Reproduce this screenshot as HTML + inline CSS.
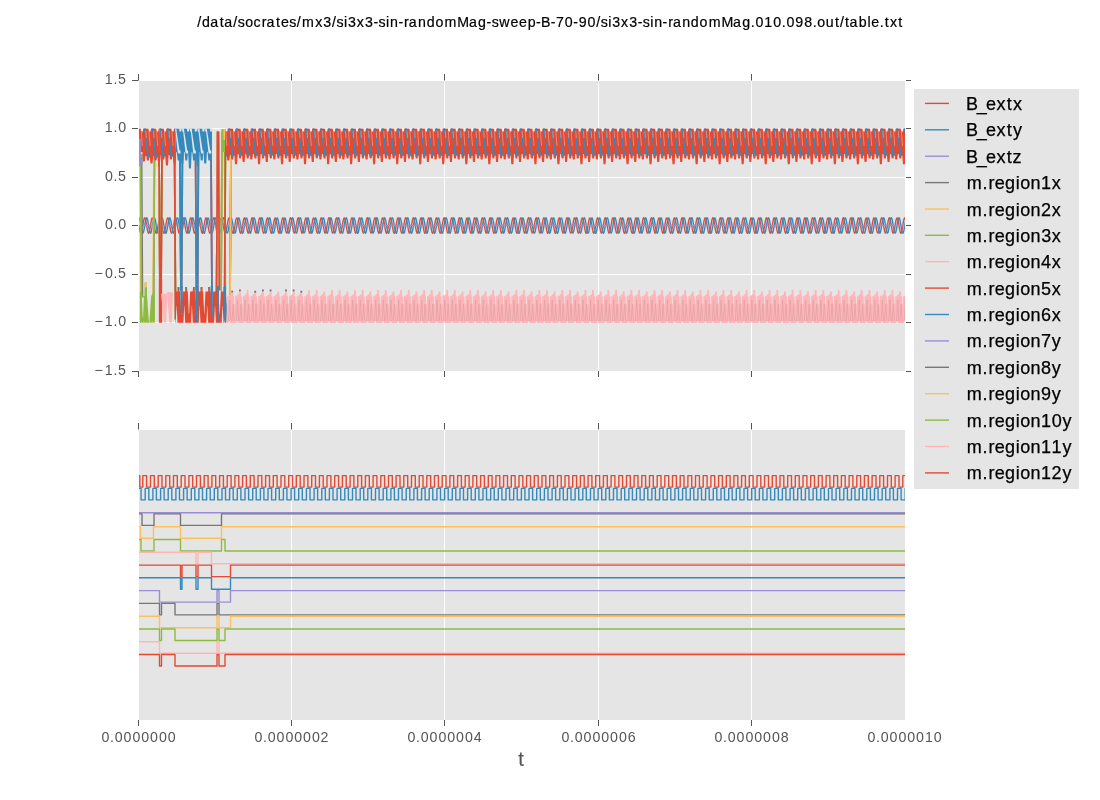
<!DOCTYPE html><html><head><meta charset="utf-8"><style>html,body{margin:0;padding:0;background:#fff;overflow:hidden}svg{will-change:transform}svg text{font-family:"Liberation Sans",sans-serif}</style></head><body><svg width="1100" height="800" viewBox="0 0 1100 800" style="display:block">
<rect width="1100" height="800" fill="#fff"/>
<text x="197.33 202.02 210.25 219.69 224.21 233.30 237.77 245.15 253.45 261.75 266.48 275.91 281.00 289.35 296.79 301.99 315.16 323.34 332.06 336.53 343.97 347.95 356.83 365.01 373.50 378.53 385.96 389.95 398.41 404.05 408.78 417.98 426.67 435.42 444.50 457.23 468.92 478.01 486.60 491.63 499.25 510.42 518.96 527.71 536.11 540.99 550.65 555.96 564.83 573.34 578.63 587.51 596.25 600.72 608.15 612.14 621.02 629.19 637.69 642.72 650.15 654.14 662.60 668.24 672.97 682.17 690.86 699.61 708.69 721.42 733.11 742.20 750.87 755.53 764.30 773.20 781.80 786.45 795.24 804.13 812.72 817.21 825.83 834.93 840.02 845.05 849.57 858.84 867.46 871.32 879.74 884.64 889.90 898.31" y="26.8" font-size="14.2" fill="#000" stroke="#000" stroke-width="0.2">/data/socrates/mx3/si3x3-sin-randomMag-sweep-B-70-90/si3x3-sin-randomMag.010.098.out/table.txt</text>
<rect x="139" y="81" width="766" height="290" fill="#E5E5E5"/>
<line x1="291.5" y1="81" x2="291.5" y2="371" stroke="#fff" stroke-width="1"/>
<line x1="444.5" y1="81" x2="444.5" y2="371" stroke="#fff" stroke-width="1"/>
<line x1="598.5" y1="81" x2="598.5" y2="371" stroke="#fff" stroke-width="1"/>
<line x1="751.5" y1="81" x2="751.5" y2="371" stroke="#fff" stroke-width="1"/>
<line x1="139" y1="128.5" x2="905" y2="128.5" stroke="#fff" stroke-width="1"/>
<line x1="139" y1="177.5" x2="905" y2="177.5" stroke="#fff" stroke-width="1"/>
<line x1="139" y1="225.5" x2="905" y2="225.5" stroke="#fff" stroke-width="1"/>
<line x1="139" y1="274.5" x2="905" y2="274.5" stroke="#fff" stroke-width="1"/>
<line x1="139" y1="322.5" x2="905" y2="322.5" stroke="#fff" stroke-width="1"/>
<defs><clipPath id="ct"><rect x="139" y="81" width="766" height="290"/></clipPath><clipPath id="cb"><rect x="139" y="430" width="766" height="290"/></clipPath></defs>
<g clip-path="url(#ct)" fill="none" stroke-width="1.39" stroke-linejoin="round">
<defs><clipPath id="k0"><rect x="139.00" y="81" width="20.50" height="290"/></clipPath><clipPath id="k1"><rect x="159.50" y="81" width="16.00" height="290"/></clipPath><clipPath id="k2"><rect x="175.50" y="81" width="36.00" height="290"/></clipPath><clipPath id="k3"><rect x="225.00" y="81" width="8.00" height="290"/></clipPath><clipPath id="k4"><rect x="233.00" y="81" width="673.00" height="290"/></clipPath><clipPath id="k5"><rect x="175.30" y="81" width="49.20" height="290"/></clipPath><clipPath id="k6"><rect x="224.50" y="81" width="2.00" height="290"/></clipPath><clipPath id="k7"><rect x="226.50" y="81" width="679.50" height="290"/></clipPath></defs>
<path fill="none" stroke="#E24A33" stroke-width="1.39" d="M138.9,225.1 139.5,228.8 140.1,231.7 140.7,233.2 141.3,232.8 141.9,230.7 142.5,227.4 143.1,223.6 143.7,220.3 144.3,218.2 144.9,217.8 145.5,219.3 146.1,222.2 146.7,225.9 147.3,229.5 147.9,232.1 148.5,233.2 149.1,232.5 149.7,230.2 150.3,226.7 150.9,222.9 151.5,219.8 152.1,218 152.7,218 153.3,219.7 153.9,222.8 154.5,226.6 155.1,230.1 155.7,232.5 156.3,233.3 156.9,232.2 157.5,229.5 158.1,225.9 158.7,222.2 159.3,219.3 159.9,217.8 160.5,218.2 161.1,220.2 161.7,223.6 162.3,227.3 162.9,230.7 163.5,232.8 164.1,233.2 164.7,231.8 165.3,228.9 165.9,225.2 166.5,221.6 167.1,218.9 167.7,217.8 168.3,218.5 168.9,220.8 169.5,224.3 170.1,228 170.7,231.2 171.3,233 171.9,233 172.5,231.3 173.1,228.2 173.7,224.5 174.3,221 174.9,218.5 175.5,217.7 176.1,218.8 176.7,221.4 177.3,225 177.9,228.7 178.5,231.7 179.1,233.2 179.7,232.8 180.3,230.8 180.9,227.5 181.5,223.7 182.1,220.4 182.7,218.2 183.3,217.8 183.9,219.2 184.5,222.1 185.1,225.8 185.7,229.4 186.3,232.1 186.9,233.2 187.5,232.6 188.1,230.2 188.7,226.8 189.3,223 189.9,219.8 190.5,218 191.1,217.9 191.7,219.7 192.3,222.8 192.9,226.5 193.5,230 194.1,232.5 194.7,233.3 195.3,232.2 195.9,229.6 196.5,226 197.1,222.3 197.7,219.4 198.3,217.8 198.9,218.1 199.5,220.2 200.1,223.5 200.7,227.2 201.3,230.6 201.9,232.7 202.5,233.2 203,231.8 203.6,229 204.2,225.3 204.8,221.7 205.4,218.9 206,217.8 206.6,218.4 207.2,220.7 207.8,224.2 208.4,227.9 209,231.1 209.6,233 210.2,233.1 210.8,231.4 211.4,228.3 212,224.6 212.6,221 213.2,218.6 213.8,217.7 214.4,218.7 215,221.3 215.6,224.9 216.2,228.6 216.8,231.6 217.4,233.1 218,232.9 218.6,230.9 219.2,227.6 219.8,223.8 220.4,220.4 221,218.3 221.6,217.8 222.2,219.1 222.8,222 223.4,225.7 224,229.3 224.6,232 225.2,233.2 225.8,232.6 226.4,230.3 227,226.9 227.6,223.1 228.2,219.9 228.8,218 229.4,217.9 230,219.6 230.6,222.7 231.2,226.4 231.8,229.9 232.4,232.4 233,233.3 233.6,232.3 234.2,229.7 234.8,226.1 235.4,222.4 236,219.4 236.6,217.9 237.2,218.1 237.8,220.1 238.4,223.4 239,227.1 239.6,230.5 240.2,232.7 240.8,233.2 241.4,231.9 242,229.1 242.6,225.4 243.2,221.7 243.8,219 244.4,217.8 245,218.4 245.6,220.7 246.2,224.1 246.8,227.9 247.4,231.1 248,233 248.6,233.1 249.2,231.4 249.8,228.4 250.4,224.6 251,221.1 251.6,218.6 252.2,217.7 252.8,218.7 253.4,221.3 254,224.8 254.6,228.5 255.2,231.6 255.8,233.1 256.4,232.9 257,230.9 257.6,227.7 258.2,223.9 258.8,220.5 259.4,218.3 260,217.8 260.6,219.1 261.2,221.9 261.8,225.6 262.4,229.2 263,232 263.6,233.2 264.2,232.6 264.8,230.4 265.4,227 266,223.2 266.6,220 267.2,218.1 267.8,217.9 268.4,219.5 269,222.6 269.6,226.3 270.2,229.8 270.8,232.4 271.4,233.3 272,232.3 272.6,229.8 273.2,226.2 273.8,222.5 274.4,219.5 275,217.9 275.6,218.1 276.2,220 276.8,223.3 277.4,227 278,230.4 278.6,232.7 279.2,233.2 279.8,231.9 280.4,229.1 281,225.5 281.6,221.8 282.2,219 282.8,217.8 283.4,218.3 284,220.6 284.6,224 285.2,227.8 285.8,231 286.4,232.9 287,233.1 287.6,231.5 288.2,228.5 288.8,224.7 289.4,221.2 290,218.7 290.6,217.7 291.2,218.7 291.8,221.2 292.4,224.7 293,228.5 293.6,231.5 294.2,233.1 294.8,232.9 295.4,231 296,227.8 296.6,224 297.2,220.6 297.8,218.3 298.4,217.8 299,219 299.6,221.8 300.2,225.5 300.8,229.1 301.4,231.9 302,233.2 302.6,232.7 303.2,230.5 303.8,227.1 304.4,223.3 305,220 305.6,218.1 306.2,217.9 306.8,219.5 307.4,222.5 308,226.2 308.6,229.8 309.2,232.3 309.8,233.3 310.4,232.4 311,229.9 311.6,226.3 312.2,222.6 312.8,219.5 313.4,217.9 314,218.1 314.6,220 315.2,223.2 315.8,226.9 316.4,230.4 317,232.6 317.6,233.2 318.2,232 318.8,229.2 319.4,225.6 320,221.9 320.6,219.1 321.2,217.8 321.8,218.3 322.4,220.5 323,223.9 323.6,227.7 324.2,230.9 324.8,232.9 325.4,233.1 326,231.6 326.6,228.6 327.2,224.8 327.8,221.3 328.4,218.7 329,217.7 329.6,218.6 330.2,221.1 330.8,224.6 331.3,228.4 331.9,231.4 332.5,233.1 333.1,233 333.7,231.1 334.3,227.9 334.9,224.1 335.5,220.7 336.1,218.4 336.7,217.8 337.3,219 337.9,221.7 338.5,225.4 339.1,229 339.7,231.9 340.3,233.2 340.9,232.7 341.5,230.5 342.1,227.1 342.7,223.4 343.3,220.1 343.9,218.1 344.5,217.9 345.1,219.4 345.7,222.4 346.3,226.1 346.9,229.7 347.5,232.3 348.1,233.3 348.7,232.4 349.3,229.9 349.9,226.4 350.5,222.7 351.1,219.6 351.7,217.9 352.3,218 352.9,219.9 353.5,223.1 354.1,226.9 354.7,230.3 355.3,232.6 355.9,233.2 356.5,232 357.1,229.3 357.7,225.7 358.3,222 358.9,219.1 359.5,217.8 360.1,218.3 360.7,220.4 361.3,223.8 361.9,227.6 362.5,230.9 363.1,232.9 363.7,233.1 364.3,231.6 364.9,228.6 365.5,224.9 366.1,221.3 366.7,218.7 367.3,217.7 367.9,218.6 368.5,221 369.1,224.5 369.7,228.3 370.3,231.4 370.9,233.1 371.5,233 372.1,231.1 372.7,228 373.3,224.2 373.9,220.7 374.5,218.4 375.1,217.8 375.7,218.9 376.3,221.7 376.9,225.3 377.5,229 378.1,231.8 378.7,233.2 379.3,232.8 379.9,230.6 380.5,227.2 381.1,223.5 381.7,220.2 382.3,218.1 382.9,217.8 383.5,219.4 384.1,222.3 384.7,226 385.3,229.6 385.9,232.2 386.5,233.3 387.1,232.5 387.7,230 388.3,226.5 388.9,222.8 389.5,219.7 390.1,217.9 390.7,218 391.3,219.8 391.9,223 392.5,226.8 393.1,230.2 393.7,232.6 394.3,233.2 394.9,232.1 395.5,229.4 396.1,225.8 396.7,222.1 397.3,219.2 397.9,217.8 398.5,218.2 399.1,220.4 399.7,223.7 400.3,227.5 400.9,230.8 401.5,232.8 402.1,233.2 402.7,231.7 403.3,228.7 403.9,225 404.5,221.4 405.1,218.8 405.7,217.7 406.3,218.5 406.9,220.9 407.5,224.4 408.1,228.2 408.7,231.3 409.3,233 409.9,233 410.5,231.2 411.1,228 411.7,224.3 412.3,220.8 412.9,218.5 413.5,217.8 414.1,218.9 414.7,221.6 415.3,225.2 415.9,228.9 416.5,231.8 417.1,233.2 417.7,232.8 418.3,230.7 418.9,227.3 419.5,223.6 420.1,220.2 420.7,218.2 421.3,217.8 421.9,219.3 422.5,222.2 423.1,225.9 423.7,229.5 424.3,232.2 424.9,233.3 425.5,232.5 426.1,230.1 426.7,226.6 427.3,222.9 427.9,219.7 428.5,218 429.1,218 429.7,219.8 430.3,222.9 430.9,226.7 431.5,230.1 432.1,232.5 432.7,233.2 433.3,232.1 433.9,229.5 434.5,225.9 435.1,222.2 435.7,219.3 436.3,217.8 436.9,218.2 437.5,220.3 438.1,223.6 438.7,227.4 439.3,230.7 439.9,232.8 440.5,233.2 441.1,231.7 441.7,228.8 442.3,225.1 442.9,221.5 443.5,218.8 444.1,217.7 444.7,218.5 445.3,220.9 445.9,224.4 446.5,228.1 447.1,231.2 447.7,233 448.3,233 448.9,231.3 449.5,228.1 450.1,224.4 450.7,220.9 451.3,218.5 451.9,217.7 452.5,218.8 453.1,221.5 453.7,225.1 454.3,228.8 454.9,231.7 455.5,233.2 456.1,232.8 456.7,230.7 457.3,227.4 457.9,223.7 458.5,220.3 459,218.2 459.6,217.8 460.2,219.2 460.8,222.1 461.4,225.8 462,229.4 462.6,232.1 463.2,233.2 463.8,232.5 464.4,230.2 465,226.7 465.6,222.9 466.2,219.8 466.8,218 467.4,218 468,219.7 468.6,222.8 469.2,226.6 469.8,230.1 470.4,232.5 471,233.3 471.6,232.2 472.2,229.6 472.8,226 473.4,222.3 474,219.3 474.6,217.8 475.2,218.2 475.8,220.2 476.4,223.5 477,227.3 477.6,230.6 478.2,232.8 478.8,233.2 479.4,231.8 480,228.9 480.6,225.2 481.2,221.6 481.8,218.9 482.4,217.8 483,218.4 483.6,220.8 484.2,224.3 484.8,228 485.4,231.2 486,233 486.6,233.1 487.2,231.3 487.8,228.2 488.4,224.5 489,221 489.6,218.5 490.2,217.7 490.8,218.8 491.4,221.4 492,225 492.6,228.7 493.2,231.7 493.8,233.2 494.4,232.8 495,230.8 495.6,227.5 496.2,223.7 496.8,220.4 497.4,218.2 498,217.8 498.6,219.2 499.2,222.1 499.8,225.7 500.4,229.4 501,232.1 501.6,233.2 502.2,232.6 502.8,230.2 503.4,226.8 504,223 504.6,219.9 505.2,218 505.8,217.9 506.4,219.6 507,222.7 507.6,226.5 508.2,230 508.8,232.4 509.4,233.3 510,232.2 510.6,229.6 511.2,226.1 511.8,222.3 512.4,219.4 513,217.9 513.6,218.1 514.2,220.2 514.8,223.4 515.4,227.2 516,230.6 516.6,232.7 517.2,233.2 517.8,231.8 518.4,229 519,225.3 519.6,221.7 520.2,218.9 520.8,217.8 521.4,218.4 522,220.7 522.6,224.2 523.2,227.9 523.8,231.1 524.4,233 525,233.1 525.6,231.4 526.2,228.3 526.8,224.6 527.4,221 528,218.6 528.6,217.7 529.2,218.7 529.8,221.3 530.4,224.9 531,228.6 531.6,231.6 532.2,233.1 532.8,232.9 533.4,230.9 534,227.6 534.6,223.8 535.2,220.5 535.8,218.3 536.4,217.8 537,219.1 537.6,222 538.2,225.6 538.8,229.3 539.4,232 540,233.2 540.6,232.6 541.2,230.3 541.8,226.9 542.4,223.1 543,219.9 543.6,218 544.2,217.9 544.8,219.6 545.4,222.6 546,226.4 546.6,229.9 547.2,232.4 547.8,233.3 548.4,232.3 549,229.7 549.6,226.1 550.2,222.4 550.8,219.4 551.4,217.9 552,218.1 552.6,220.1 553.2,223.3 553.8,227.1 554.4,230.5 555,232.7 555.6,233.2 556.2,231.9 556.8,229.1 557.4,225.4 558,221.8 558.6,219 559.2,217.8 559.8,218.4 560.4,220.6 561,224.1 561.6,227.8 562.2,231 562.8,232.9 563.4,233.1 564,231.4 564.6,228.4 565.2,224.7 565.8,221.1 566.4,218.6 567,217.7 567.6,218.7 568.2,221.2 568.8,224.8 569.4,228.5 570,231.5 570.6,233.1 571.2,232.9 571.8,230.9 572.4,227.7 573,223.9 573.6,220.5 574.2,218.3 574.8,217.8 575.4,219.1 576,221.9 576.6,225.5 577.2,229.2 577.8,232 578.4,233.2 579,232.7 579.6,230.4 580.2,227 580.8,223.2 581.4,220 582,218.1 582.6,217.9 583.2,219.5 583.8,222.6 584.4,226.3 585,229.8 585.6,232.4 586.2,233.3 586.8,232.3 587.3,229.8 587.9,226.2 588.5,222.5 589.1,219.5 589.7,217.9 590.3,218.1 590.9,220 591.5,223.3 592.1,227 592.7,230.4 593.3,232.7 593.9,233.2 594.5,232 595.1,229.2 595.7,225.5 596.3,221.8 596.9,219 597.5,217.8 598.1,218.3 598.7,220.6 599.3,224 599.9,227.7 600.5,231 601.1,232.9 601.7,233.1 602.3,231.5 602.9,228.5 603.5,224.8 604.1,221.2 604.7,218.7 605.3,217.7 605.9,218.6 606.5,221.2 607.1,224.7 607.7,228.4 608.3,231.5 608.9,233.1 609.5,232.9 610.1,231 610.7,227.8 611.3,224 611.9,220.6 612.5,218.3 613.1,217.8 613.7,219 614.3,221.8 614.9,225.5 615.5,229.1 616.1,231.9 616.7,233.2 617.3,232.7 617.9,230.5 618.5,227.1 619.1,223.3 619.7,220.1 620.3,218.1 620.9,217.9 621.5,219.5 622.1,222.5 622.7,226.2 623.3,229.8 623.9,232.3 624.5,233.3 625.1,232.4 625.7,229.9 626.3,226.3 626.9,222.6 627.5,219.6 628.1,217.9 628.7,218.1 629.3,220 629.9,223.2 630.5,226.9 631.1,230.4 631.7,232.6 632.3,233.2 632.9,232 633.5,229.2 634.1,225.6 634.7,221.9 635.3,219.1 635.9,217.8 636.5,218.3 637.1,220.5 637.7,223.9 638.3,227.7 638.9,230.9 639.5,232.9 640.1,233.1 640.7,231.6 641.3,228.6 641.9,224.9 642.5,221.3 643.1,218.7 643.7,217.7 644.3,218.6 644.9,221.1 645.5,224.6 646.1,228.4 646.7,231.4 647.3,233.1 647.9,233 648.5,231.1 649.1,227.9 649.7,224.1 650.3,220.7 650.9,218.4 651.5,217.8 652.1,219 652.7,221.7 653.3,225.4 653.9,229 654.5,231.9 655.1,233.2 655.7,232.7 656.3,230.5 656.9,227.2 657.5,223.4 658.1,220.1 658.7,218.1 659.3,217.9 659.9,219.4 660.5,222.4 661.1,226.1 661.7,229.7 662.3,232.3 662.9,233.3 663.5,232.4 664.1,230 664.7,226.4 665.3,222.7 665.9,219.6 666.5,217.9 667.1,218 667.7,219.9 668.3,223.1 668.9,226.8 669.5,230.3 670.1,232.6 670.7,233.2 671.3,232.1 671.9,229.3 672.5,225.7 673.1,222 673.7,219.2 674.3,217.8 674.9,218.3 675.5,220.4 676.1,223.8 676.7,227.6 677.3,230.8 677.9,232.9 678.5,233.1 679.1,231.6 679.7,228.7 680.3,224.9 680.9,221.4 681.5,218.8 682.1,217.7 682.7,218.6 683.3,221 683.9,224.5 684.5,228.3 685.1,231.4 685.7,233.1 686.3,233 686.9,231.1 687.5,228 688.1,224.2 688.7,220.8 689.3,218.4 689.9,217.8 690.5,218.9 691.1,221.6 691.7,225.3 692.3,228.9 692.9,231.8 693.5,233.2 694.1,232.8 694.7,230.6 695.3,227.3 695.9,223.5 696.5,220.2 697.1,218.2 697.7,217.8 698.3,219.3 698.9,222.3 699.5,226 700.1,229.6 700.7,232.2 701.3,233.3 701.9,232.5 702.5,230 703.1,226.5 703.7,222.8 704.3,219.7 704.9,217.9 705.5,218 706.1,219.8 706.7,223 707.3,226.7 707.9,230.2 708.5,232.6 709.1,233.2 709.7,232.1 710.3,229.4 710.9,225.8 711.5,222.1 712.1,219.2 712.7,217.8 713.3,218.2 713.9,220.4 714.5,223.7 715,227.5 715.6,230.8 716.2,232.8 716.8,233.2 717.4,231.7 718,228.7 718.6,225 719.2,221.4 719.8,218.8 720.4,217.7 721,218.5 721.6,220.9 722.2,224.4 722.8,228.2 723.4,231.3 724,233 724.6,233 725.2,231.2 725.8,228.1 726.4,224.3 727,220.8 727.6,218.5 728.2,217.8 728.8,218.9 729.4,221.6 730,225.2 730.6,228.9 731.2,231.8 731.8,233.2 732.4,232.8 733,230.7 733.6,227.3 734.2,223.6 734.8,220.3 735.4,218.2 736,217.8 736.6,219.3 737.2,222.2 737.8,225.9 738.4,229.5 739,232.2 739.6,233.3 740.2,232.5 740.8,230.1 741.4,226.6 742,222.9 742.6,219.7 743.2,218 743.8,218 744.4,219.8 745,222.9 745.6,226.6 746.2,230.1 746.8,232.5 747.4,233.3 748,232.2 748.6,229.5 749.2,225.9 749.8,222.2 750.4,219.3 751,217.8 751.6,218.2 752.2,220.3 752.8,223.6 753.4,227.4 754,230.7 754.6,232.8 755.2,233.2 755.8,231.7 756.4,228.8 757,225.1 757.6,221.5 758.2,218.9 758.8,217.8 759.4,218.5 760,220.9 760.6,224.3 761.2,228.1 761.8,231.2 762.4,233 763,233 763.6,231.3 764.2,228.1 764.8,224.4 765.4,220.9 766,218.5 766.6,217.7 767.2,218.8 767.8,221.5 768.4,225.1 769,228.8 769.6,231.7 770.2,233.2 770.8,232.8 771.4,230.8 772,227.4 772.6,223.7 773.2,220.3 773.8,218.2 774.4,217.8 775,219.2 775.6,222.1 776.2,225.8 776.8,229.4 777.4,232.1 778,233.2 778.6,232.5 779.2,230.2 779.8,226.7 780.4,223 781,219.8 781.6,218 782.2,218 782.8,219.7 783.4,222.8 784,226.6 784.6,230.1 785.2,232.5 785.8,233.3 786.4,232.2 787,229.6 787.6,226 788.2,222.3 788.8,219.3 789.4,217.8 790,218.2 790.6,220.2 791.2,223.5 791.8,227.3 792.4,230.6 793,232.8 793.6,233.2 794.2,231.8 794.8,228.9 795.4,225.2 796,221.6 796.6,218.9 797.2,217.8 797.8,218.4 798.4,220.8 799,224.2 799.6,228 800.2,231.2 800.8,233 801.4,233.1 802,231.3 802.6,228.2 803.2,224.5 803.8,221 804.4,218.5 805,217.7 805.6,218.8 806.2,221.4 806.8,225 807.4,228.7 808,231.6 808.6,233.2 809.2,232.9 809.8,230.8 810.4,227.5 811,223.8 811.6,220.4 812.2,218.2 812.8,217.8 813.4,219.2 814,222 814.6,225.7 815.2,229.3 815.8,232.1 816.4,233.2 817,232.6 817.6,230.3 818.2,226.8 818.8,223 819.4,219.9 820,218 820.6,217.9 821.2,219.6 821.8,222.7 822.4,226.5 823,230 823.6,232.4 824.2,233.3 824.8,232.2 825.4,229.6 826,226.1 826.6,222.4 827.2,219.4 827.8,217.9 828.4,218.1 829,220.1 829.6,223.4 830.2,227.2 830.8,230.6 831.4,232.7 832,233.2 832.6,231.9 833.2,229 833.8,225.3 834.4,221.7 835,219 835.6,217.8 836.2,218.4 836.8,220.7 837.4,224.1 838,227.9 838.6,231.1 839.2,233 839.8,233.1 840.4,231.4 841,228.3 841.6,224.6 842.2,221.1 842.8,218.6 843.3,217.7 843.9,218.7 844.5,221.3 845.1,224.9 845.7,228.6 846.3,231.6 846.9,233.1 847.5,232.9 848.1,230.9 848.7,227.6 849.3,223.9 849.9,220.5 850.5,218.3 851.1,217.8 851.7,219.1 852.3,222 852.9,225.6 853.5,229.3 854.1,232 854.7,233.2 855.3,232.6 855.9,230.3 856.5,226.9 857.1,223.1 857.7,219.9 858.3,218 858.9,217.9 859.5,219.6 860.1,222.6 860.7,226.4 861.3,229.9 861.9,232.4 862.5,233.3 863.1,232.3 863.7,229.7 864.3,226.2 864.9,222.4 865.5,219.4 866.1,217.9 866.7,218.1 867.3,220.1 867.9,223.3 868.5,227.1 869.1,230.5 869.7,232.7 870.3,233.2 870.9,231.9 871.5,229.1 872.1,225.4 872.7,221.8 873.3,219 873.9,217.8 874.5,218.4 875.1,220.6 875.7,224.1 876.3,227.8 876.9,231 877.5,232.9 878.1,233.1 878.7,231.5 879.3,228.4 879.9,224.7 880.5,221.1 881.1,218.6 881.7,217.7 882.3,218.7 882.9,221.2 883.5,224.8 884.1,228.5 884.7,231.5 885.3,233.1 885.9,232.9 886.5,231 887.1,227.7 887.7,223.9 888.3,220.5 888.9,218.3 889.5,217.8 890.1,219.1 890.7,221.9 891.3,225.5 891.9,229.2 892.5,232 893.1,233.2 893.7,232.7 894.3,230.4 894.9,227 895.5,223.2 896.1,220 896.7,218.1 897.3,217.9 897.9,219.5 898.5,222.5 899.1,226.3 899.7,229.8 900.3,232.3 900.9,233.3 901.5,232.3 902.1,229.8 902.7,226.3 903.3,222.5 903.9,219.5 904.5,217.9 905.1,218.1 905.7,220 906.3,223.2 906.9,227"/>
<path fill="none" stroke="#348ABD" stroke-width="1.39" d="M138.9,217.7 139.5,218.5 140.1,220.9 140.7,224.3 141.3,228.1 141.9,231.2 142.5,233 143.1,233 143.7,231.3 144.3,228.1 144.9,224.4 145.5,220.9 146.1,218.5 146.7,217.7 147.3,218.8 147.9,221.5 148.5,225.1 149.1,228.8 149.7,231.7 150.3,233.2 150.9,232.8 151.5,230.7 152.1,227.4 152.7,223.7 153.3,220.3 153.9,218.2 154.5,217.8 155.1,219.2 155.7,222.1 156.3,225.8 156.9,229.4 157.5,232.1 158.1,233.2 158.7,232.5 159.3,230.2 159.9,226.7 160.5,222.9 161.1,219.8 161.7,218 162.3,218 162.9,219.7 163.5,222.8 164.1,226.6 164.7,230.1 165.3,232.5 165.9,233.3 166.5,232.2 167.1,229.6 167.7,226 168.3,222.3 168.9,219.3 169.5,217.8 170.1,218.2 170.7,220.2 171.3,223.5 171.9,227.3 172.5,230.6 173.1,232.8 173.7,233.2 174.3,231.8 174.9,228.9 175.5,225.2 176.1,221.6 176.7,218.9 177.3,217.8 177.9,218.4 178.5,220.8 179.1,224.3 179.7,228 180.3,231.2 180.9,233 181.5,233.1 182.1,231.3 182.7,228.2 183.3,224.5 183.9,221 184.5,218.5 185.1,217.7 185.7,218.8 186.3,221.4 186.9,225 187.5,228.7 188.1,231.7 188.7,233.2 189.3,232.9 189.9,230.8 190.5,227.5 191.1,223.7 191.7,220.4 192.3,218.2 192.9,217.8 193.5,219.2 194.1,222.1 194.7,225.7 195.3,229.4 195.9,232.1 196.5,233.2 197.1,232.6 197.7,230.2 198.3,226.8 198.9,223 199.5,219.9 200.1,218 200.7,217.9 201.3,219.6 201.9,222.7 202.5,226.5 203,230 203.6,232.4 204.2,233.3 204.8,232.2 205.4,229.6 206,226.1 206.6,222.3 207.2,219.4 207.8,217.9 208.4,218.1 209,220.2 209.6,223.4 210.2,227.2 210.8,230.6 211.4,232.7 212,233.2 212.6,231.8 213.2,229 213.8,225.3 214.4,221.7 215,218.9 215.6,217.8 216.2,218.4 216.8,220.7 217.4,224.2 218,227.9 218.6,231.1 219.2,233 219.8,233.1 220.4,231.4 221,228.3 221.6,224.6 222.2,221.1 222.8,218.6 223.4,217.7 224,218.7 224.6,221.3 225.2,224.9 225.8,228.6 226.4,231.6 227,233.1 227.6,232.9 228.2,230.9 228.8,227.6 229.4,223.8 230,220.5 230.6,218.3 231.2,217.8 231.8,219.1 232.4,222 233,225.6 233.6,229.3 234.2,232 234.8,233.2 235.4,232.6 236,230.3 236.6,226.9 237.2,223.1 237.8,219.9 238.4,218 239,217.9 239.6,219.6 240.2,222.6 240.8,226.4 241.4,229.9 242,232.4 242.6,233.3 243.2,232.3 243.8,229.7 244.4,226.2 245,222.4 245.6,219.4 246.2,217.9 246.8,218.1 247.4,220.1 248,223.3 248.6,227.1 249.2,230.5 249.8,232.7 250.4,233.2 251,231.9 251.6,229.1 252.2,225.4 252.8,221.8 253.4,219 254,217.8 254.6,218.4 255.2,220.6 255.8,224.1 256.4,227.8 257,231 257.6,232.9 258.2,233.1 258.8,231.5 259.4,228.4 260,224.7 260.6,221.1 261.2,218.6 261.8,217.7 262.4,218.7 263,221.2 263.6,224.8 264.2,228.5 264.8,231.5 265.4,233.1 266,232.9 266.6,230.9 267.2,227.7 267.8,223.9 268.4,220.5 269,218.3 269.6,217.8 270.2,219.1 270.8,221.9 271.4,225.5 272,229.2 272.6,232 273.2,233.2 273.8,232.7 274.4,230.4 275,227 275.6,223.2 276.2,220 276.8,218.1 277.4,217.9 278,219.5 278.6,222.6 279.2,226.3 279.8,229.8 280.4,232.4 281,233.3 281.6,232.3 282.2,229.8 282.8,226.2 283.4,222.5 284,219.5 284.6,217.9 285.2,218.1 285.8,220 286.4,223.3 287,227 287.6,230.4 288.2,232.7 288.8,233.2 289.4,232 290,229.2 290.6,225.5 291.2,221.8 291.8,219.1 292.4,217.8 293,218.3 293.6,220.6 294.2,224 294.8,227.7 295.4,231 296,232.9 296.6,233.1 297.2,231.5 297.8,228.5 298.4,224.8 299,221.2 299.6,218.7 300.2,217.7 300.8,218.6 301.4,221.2 302,224.7 302.6,228.4 303.2,231.5 303.8,233.1 304.4,232.9 305,231 305.6,227.8 306.2,224 306.8,220.6 307.4,218.3 308,217.8 308.6,219 309.2,221.8 309.8,225.4 310.4,229.1 311,231.9 311.6,233.2 312.2,232.7 312.8,230.5 313.4,227.1 314,223.3 314.6,220.1 315.2,218.1 315.8,217.9 316.4,219.5 317,222.5 317.6,226.2 318.2,229.8 318.8,232.3 319.4,233.3 320,232.4 320.6,229.9 321.2,226.3 321.8,222.6 322.4,219.6 323,217.9 323.6,218 324.2,220 324.8,223.2 325.4,226.9 326,230.4 326.6,232.6 327.2,233.2 327.8,232 328.4,229.2 329,225.6 329.6,221.9 330.2,219.1 330.8,217.8 331.3,218.3 331.9,220.5 332.5,223.9 333.1,227.6 333.7,230.9 334.3,232.9 334.9,233.1 335.5,231.6 336.1,228.6 336.7,224.9 337.3,221.3 337.9,218.7 338.5,217.7 339.1,218.6 339.7,221.1 340.3,224.6 340.9,228.3 341.5,231.4 342.1,233.1 342.7,233 343.3,231.1 343.9,227.9 344.5,224.1 345.1,220.7 345.7,218.4 346.3,217.8 346.9,219 347.5,221.7 348.1,225.4 348.7,229 349.3,231.9 349.9,233.2 350.5,232.7 351.1,230.5 351.7,227.2 352.3,223.4 352.9,220.1 353.5,218.1 354.1,217.9 354.7,219.4 355.3,222.4 355.9,226.1 356.5,229.7 357.1,232.3 357.7,233.3 358.3,232.4 358.9,230 359.5,226.4 360.1,222.7 360.7,219.6 361.3,217.9 361.9,218 362.5,219.9 363.1,223.1 363.7,226.8 364.3,230.3 364.9,232.6 365.5,233.2 366.1,232.1 366.7,229.3 367.3,225.7 367.9,222 368.5,219.2 369.1,217.8 369.7,218.3 370.3,220.4 370.9,223.8 371.5,227.6 372.1,230.8 372.7,232.9 373.3,233.1 373.9,231.6 374.5,228.7 375.1,225 375.7,221.4 376.3,218.8 376.9,217.7 377.5,218.6 378.1,221 378.7,224.5 379.3,228.3 379.9,231.4 380.5,233.1 381.1,233 381.7,231.1 382.3,228 382.9,224.2 383.5,220.8 384.1,218.4 384.7,217.8 385.3,218.9 385.9,221.6 386.5,225.3 387.1,228.9 387.7,231.8 388.3,233.2 388.9,232.8 389.5,230.6 390.1,227.3 390.7,223.5 391.3,220.2 391.9,218.2 392.5,217.8 393.1,219.3 393.7,222.3 394.3,226 394.9,229.6 395.5,232.2 396.1,233.3 396.7,232.5 397.3,230 397.9,226.5 398.5,222.8 399.1,219.7 399.7,217.9 400.3,218 400.9,219.8 401.5,223 402.1,226.7 402.7,230.2 403.3,232.6 403.9,233.2 404.5,232.1 405.1,229.4 405.7,225.8 406.3,222.1 406.9,219.2 407.5,217.8 408.1,218.2 408.7,220.4 409.3,223.7 409.9,227.5 410.5,230.8 411.1,232.8 411.7,233.2 412.3,231.7 412.9,228.8 413.5,225 414.1,221.5 414.7,218.8 415.3,217.7 415.9,218.5 416.5,220.9 417.1,224.4 417.7,228.2 418.3,231.3 418.9,233 419.5,233 420.1,231.2 420.7,228.1 421.3,224.3 421.9,220.8 422.5,218.5 423.1,217.8 423.7,218.9 424.3,221.5 424.9,225.2 425.5,228.9 426.1,231.8 426.7,233.2 427.3,232.8 427.9,230.7 428.5,227.4 429.1,223.6 429.7,220.3 430.3,218.2 430.9,217.8 431.5,219.3 432.1,222.2 432.7,225.9 433.3,229.5 433.9,232.2 434.5,233.3 435.1,232.5 435.7,230.1 436.3,226.6 436.9,222.9 437.5,219.7 438.1,218 438.7,218 439.3,219.8 439.9,222.9 440.5,226.6 441.1,230.1 441.7,232.5 442.3,233.3 442.9,232.2 443.5,229.5 444.1,225.9 444.7,222.2 445.3,219.3 445.9,217.8 446.5,218.2 447.1,220.3 447.7,223.6 448.3,227.4 448.9,230.7 449.5,232.8 450.1,233.2 450.7,231.7 451.3,228.8 451.9,225.1 452.5,221.5 453.1,218.9 453.7,217.8 454.3,218.5 454.9,220.9 455.5,224.3 456.1,228.1 456.7,231.2 457.3,233 457.9,233 458.5,231.3 459,228.2 459.6,224.4 460.2,220.9 460.8,218.5 461.4,217.7 462,218.8 462.6,221.5 463.2,225.1 463.8,228.8 464.4,231.7 465,233.2 465.6,232.8 466.2,230.8 466.8,227.4 467.4,223.7 468,220.3 468.6,218.2 469.2,217.8 469.8,219.2 470.4,222.1 471,225.8 471.6,229.4 472.2,232.1 472.8,233.2 473.4,232.5 474,230.2 474.6,226.7 475.2,223 475.8,219.8 476.4,218 477,218 477.6,219.7 478.2,222.8 478.8,226.5 479.4,230 480,232.5 480.6,233.3 481.2,232.2 481.8,229.6 482.4,226 483,222.3 483.6,219.3 484.2,217.8 484.8,218.2 485.4,220.2 486,223.5 486.6,227.3 487.2,230.6 487.8,232.8 488.4,233.2 489,231.8 489.6,228.9 490.2,225.2 490.8,221.6 491.4,218.9 492,217.8 492.6,218.4 493.2,220.8 493.8,224.2 494.4,228 495,231.2 495.6,233 496.2,233.1 496.8,231.3 497.4,228.2 498,224.5 498.6,221 499.2,218.5 499.8,217.7 500.4,218.8 501,221.4 501.6,225 502.2,228.7 502.8,231.6 503.4,233.2 504,232.9 504.6,230.8 505.2,227.5 505.8,223.8 506.4,220.4 507,218.2 507.6,217.8 508.2,219.2 508.8,222 509.4,225.7 510,229.3 510.6,232.1 511.2,233.2 511.8,232.6 512.4,230.3 513,226.8 513.6,223.1 514.2,219.9 514.8,218 515.4,217.9 516,219.6 516.6,222.7 517.2,226.5 517.8,230 518.4,232.4 519,233.3 519.6,232.3 520.2,229.7 520.8,226.1 521.4,222.4 522,219.4 522.6,217.9 523.2,218.1 523.8,220.1 524.4,223.4 525,227.2 525.6,230.6 526.2,232.7 526.8,233.2 527.4,231.9 528,229 528.6,225.3 529.2,221.7 529.8,219 530.4,217.8 531,218.4 531.6,220.7 532.2,224.1 532.8,227.9 533.4,231.1 534,233 534.6,233.1 535.2,231.4 535.8,228.3 536.4,224.6 537,221.1 537.6,218.6 538.2,217.7 538.8,218.7 539.4,221.3 540,224.9 540.6,228.6 541.2,231.6 541.8,233.1 542.4,232.9 543,230.9 543.6,227.6 544.2,223.9 544.8,220.5 545.4,218.3 546,217.8 546.6,219.1 547.2,221.9 547.8,225.6 548.4,229.3 549,232 549.6,233.2 550.2,232.6 550.8,230.3 551.4,226.9 552,223.1 552.6,219.9 553.2,218 553.8,217.9 554.4,219.6 555,222.6 555.6,226.4 556.2,229.9 556.8,232.4 557.4,233.3 558,232.3 558.6,229.7 559.2,226.2 559.8,222.4 560.4,219.4 561,217.9 561.6,218.1 562.2,220.1 562.8,223.3 563.4,227.1 564,230.5 564.6,232.7 565.2,233.2 565.8,231.9 566.4,229.1 567,225.4 567.6,221.8 568.2,219 568.8,217.8 569.4,218.4 570,220.6 570.6,224 571.2,227.8 571.8,231 572.4,232.9 573,233.1 573.6,231.5 574.2,228.4 574.8,224.7 575.4,221.1 576,218.6 576.6,217.7 577.2,218.7 577.8,221.2 578.4,224.8 579,228.5 579.6,231.5 580.2,233.1 580.8,232.9 581.4,231 582,227.7 582.6,224 583.2,220.6 583.8,218.3 584.4,217.8 585,219.1 585.6,221.9 586.2,225.5 586.8,229.2 587.3,232 587.9,233.2 588.5,232.7 589.1,230.4 589.7,227 590.3,223.2 590.9,220 591.5,218.1 592.1,217.9 592.7,219.5 593.3,222.5 593.9,226.3 594.5,229.8 595.1,232.3 595.7,233.3 596.3,232.3 596.9,229.8 597.5,226.3 598.1,222.5 598.7,219.5 599.3,217.9 599.9,218.1 600.5,220 601.1,223.2 601.7,227 602.3,230.4 602.9,232.7 603.5,233.2 604.1,232 604.7,229.2 605.3,225.5 605.9,221.9 606.5,219.1 607.1,217.8 607.7,218.3 608.3,220.6 608.9,224 609.5,227.7 610.1,231 610.7,232.9 611.3,233.1 611.9,231.5 612.5,228.5 613.1,224.8 613.7,221.2 614.3,218.7 614.9,217.7 615.5,218.6 616.1,221.1 616.7,224.7 617.3,228.4 617.9,231.5 618.5,233.1 619.1,232.9 619.7,231 620.3,227.8 620.9,224 621.5,220.6 622.1,218.4 622.7,217.8 623.3,219 623.9,221.8 624.5,225.4 625.1,229.1 625.7,231.9 626.3,233.2 626.9,232.7 627.5,230.5 628.1,227.1 628.7,223.3 629.3,220.1 629.9,218.1 630.5,217.9 631.1,219.4 631.7,222.4 632.3,226.2 632.9,229.7 633.5,232.3 634.1,233.3 634.7,232.4 635.3,229.9 635.9,226.4 636.5,222.6 637.1,219.6 637.7,217.9 638.3,218 638.9,219.9 639.5,223.1 640.1,226.9 640.7,230.3 641.3,232.6 641.9,233.2 642.5,232 643.1,229.3 643.7,225.6 644.3,221.9 644.9,219.1 645.5,217.8 646.1,218.3 646.7,220.5 647.3,223.9 647.9,227.6 648.5,230.9 649.1,232.9 649.7,233.1 650.3,231.6 650.9,228.6 651.5,224.9 652.1,221.3 652.7,218.7 653.3,217.7 653.9,218.6 654.5,221.1 655.1,224.6 655.7,228.3 656.3,231.4 656.9,233.1 657.5,233 658.1,231.1 658.7,227.9 659.3,224.1 659.9,220.7 660.5,218.4 661.1,217.8 661.7,219 662.3,221.7 662.9,225.3 663.5,229 664.1,231.9 664.7,233.2 665.3,232.7 665.9,230.6 666.5,227.2 667.1,223.4 667.7,220.1 668.3,218.1 668.9,217.9 669.5,219.4 670.1,222.4 670.7,226.1 671.3,229.7 671.9,232.3 672.5,233.3 673.1,232.4 673.7,230 674.3,226.5 674.9,222.7 675.5,219.6 676.1,217.9 676.7,218 677.3,219.9 677.9,223.1 678.5,226.8 679.1,230.3 679.7,232.6 680.3,233.2 680.9,232.1 681.5,229.3 682.1,225.7 682.7,222 683.3,219.2 683.9,217.8 684.5,218.2 685.1,220.4 685.7,223.8 686.3,227.5 686.9,230.8 687.5,232.9 688.1,233.2 688.7,231.6 689.3,228.7 689.9,225 690.5,221.4 691.1,218.8 691.7,217.7 692.3,218.5 692.9,221 693.5,224.5 694.1,228.2 694.7,231.3 695.3,233.1 695.9,233 696.5,231.2 697.1,228 697.7,224.2 698.3,220.8 698.9,218.4 699.5,217.8 700.1,218.9 700.7,221.6 701.3,225.2 701.9,228.9 702.5,231.8 703.1,233.2 703.7,232.8 704.3,230.6 704.9,227.3 705.5,223.5 706.1,220.2 706.7,218.2 707.3,217.8 707.9,219.3 708.5,222.3 709.1,226 709.7,229.6 710.3,232.2 710.9,233.3 711.5,232.5 712.1,230 712.7,226.5 713.3,222.8 713.9,219.7 714.5,218 715,218 715.6,219.8 716.2,223 716.8,226.7 717.4,230.2 718,232.5 718.6,233.2 719.2,232.1 719.8,229.4 720.4,225.8 721,222.1 721.6,219.2 722.2,217.8 722.8,218.2 723.4,220.3 724,223.7 724.6,227.4 725.2,230.8 725.8,232.8 726.4,233.2 727,231.7 727.6,228.8 728.2,225.1 728.8,221.5 729.4,218.8 730,217.7 730.6,218.5 731.2,220.9 731.8,224.4 732.4,228.2 733,231.3 733.6,233 734.2,233 734.8,231.2 735.4,228.1 736,224.3 736.6,220.9 737.2,218.5 737.8,217.8 738.4,218.9 739,221.5 739.6,225.1 740.2,228.8 740.8,231.7 741.4,233.2 742,232.8 742.6,230.7 743.2,227.4 743.8,223.6 744.4,220.3 745,218.2 745.6,217.8 746.2,219.3 746.8,222.2 747.4,225.9 748,229.5 748.6,232.2 749.2,233.3 749.8,232.5 750.4,230.1 751,226.6 751.6,222.9 752.2,219.8 752.8,218 753.4,218 754,219.7 754.6,222.9 755.2,226.6 755.8,230.1 756.4,232.5 757,233.3 757.6,232.2 758.2,229.5 758.8,225.9 759.4,222.2 760,219.3 760.6,217.8 761.2,218.2 761.8,220.3 762.4,223.6 763,227.4 763.6,230.7 764.2,232.8 764.8,233.2 765.4,231.8 766,228.9 766.6,225.2 767.2,221.5 767.8,218.9 768.4,217.8 769,218.5 769.6,220.8 770.2,224.3 770.8,228.1 771.4,231.2 772,233 772.6,233 773.2,231.3 773.8,228.2 774.4,224.4 775,220.9 775.6,218.5 776.2,217.7 776.8,218.8 777.4,221.5 778,225 778.6,228.8 779.2,231.7 779.8,233.2 780.4,232.8 781,230.8 781.6,227.5 782.2,223.7 782.8,220.3 783.4,218.2 784,217.8 784.6,219.2 785.2,222.1 785.8,225.8 786.4,229.4 787,232.1 787.6,233.2 788.2,232.6 788.8,230.2 789.4,226.7 790,223 790.6,219.8 791.2,218 791.8,217.9 792.4,219.7 793,222.8 793.6,226.5 794.2,230 794.8,232.5 795.4,233.3 796,232.2 796.6,229.6 797.2,226 797.8,222.3 798.4,219.3 799,217.8 799.6,218.2 800.2,220.2 800.8,223.5 801.4,227.3 802,230.6 802.6,232.8 803.2,233.2 803.8,231.8 804.4,228.9 805,225.3 805.6,221.6 806.2,218.9 806.8,217.8 807.4,218.4 808,220.8 808.6,224.2 809.2,228 809.8,231.1 810.4,233 811,233.1 811.6,231.4 812.2,228.3 812.8,224.5 813.4,221 814,218.6 814.6,217.7 815.2,218.8 815.8,221.4 816.4,225 817,228.7 817.6,231.6 818.2,233.1 818.8,232.9 819.4,230.8 820,227.6 820.6,223.8 821.2,220.4 821.8,218.3 822.4,217.8 823,219.2 823.6,222 824.2,225.7 824.8,229.3 825.4,232.1 826,233.2 826.6,232.6 827.2,230.3 827.8,226.8 828.4,223.1 829,219.9 829.6,218 830.2,217.9 830.8,219.6 831.4,222.7 832,226.4 832.6,230 833.2,232.4 833.8,233.3 834.4,232.3 835,229.7 835.6,226.1 836.2,222.4 836.8,219.4 837.4,217.9 838,218.1 838.6,220.1 839.2,223.4 839.8,227.2 840.4,230.5 841,232.7 841.6,233.2 842.2,231.9 842.8,229 843.3,225.4 843.9,221.7 844.5,219 845.1,217.8 845.7,218.4 846.3,220.7 846.9,224.1 847.5,227.9 848.1,231.1 848.7,233 849.3,233.1 849.9,231.4 850.5,228.3 851.1,224.6 851.7,221.1 852.3,218.6 852.9,217.7 853.5,218.7 854.1,221.3 854.7,224.9 855.3,228.6 855.9,231.6 856.5,233.1 857.1,232.9 857.7,230.9 858.3,227.6 858.9,223.9 859.5,220.5 860.1,218.3 860.7,217.8 861.3,219.1 861.9,221.9 862.5,225.6 863.1,229.2 863.7,232 864.3,233.2 864.9,232.6 865.5,230.4 866.1,226.9 866.7,223.2 867.3,220 867.9,218 868.5,217.9 869.1,219.6 869.7,222.6 870.3,226.3 870.9,229.9 871.5,232.4 872.1,233.3 872.7,232.3 873.3,229.7 873.9,226.2 874.5,222.5 875.1,219.5 875.7,217.9 876.3,218.1 876.9,220.1 877.5,223.3 878.1,227.1 878.7,230.5 879.3,232.7 879.9,233.2 880.5,231.9 881.1,229.1 881.7,225.4 882.3,221.8 882.9,219 883.5,217.8 884.1,218.3 884.7,220.6 885.3,224 885.9,227.8 886.5,231 887.1,232.9 887.7,233.1 888.3,231.5 888.9,228.4 889.5,224.7 890.1,221.2 890.7,218.6 891.3,217.7 891.9,218.7 892.5,221.2 893.1,224.8 893.7,228.5 894.3,231.5 894.9,233.1 895.5,232.9 896.1,231 896.7,227.7 897.3,224 897.9,220.6 898.5,218.3 899.1,217.8 899.7,219.1 900.3,221.8 900.9,225.5 901.5,229.2 902.1,232 902.7,233.2 903.3,232.7 903.9,230.4 904.5,227 905.1,223.3 905.7,220 906.3,218.1 906.9,217.9"/>
<path stroke="#988ED5" stroke-width="1.39" d="M138.9,225.5H907"/>
<path fill="none" stroke="#777777" stroke-width="1.7" d="M141.4,131.4L142.6,319.6M153.4,319.6L154.6,131.4M179.9,131.4L181.1,319.6M220.9,319.6L222.1,131.4"/>
<path fill="none" stroke="#FBC15E" stroke-width="1.7" d="M139.9,131.4L141.1,319.6M152.9,319.6L154.1,131.4M179.9,131.4L181.1,319.6M220.9,319.6L222.1,131.4"/>
<path fill="none" stroke="#8EBA42" stroke-width="1.7" d="M140.4,131.4L141.6,319.6M153.4,319.6L154.6,131.4M179.9,131.4L181.1,319.6M220.9,319.6L222.1,131.4M224.4,131.4L225.6,319.6"/>
<path fill="none" stroke="#FFB5B8" stroke-width="1.7" d="M195.4,131.4L196.6,319.6M197.4,319.6L198.6,131.4M210.9,131.4L212.1,319.6"/>
<path fill="none" stroke="#E24A33" stroke-width="1.7" d="M179.9,131.4L181.1,319.6M181.4,319.6L182.6,131.4M195.4,131.4L196.6,319.6M197.4,319.6L198.6,131.4M210.9,131.4L212.1,319.6M229.9,319.6L231.1,131.4"/>
<path fill="none" stroke="#348ABD" stroke-width="1.7" d="M179.9,131.4L181.1,319.6M181.4,319.6L182.6,131.4M195.4,131.4L196.6,319.6M197.4,319.6L198.6,131.4M210.9,131.4L212.1,319.6M229.9,319.6L231.1,131.4"/>
<path fill="none" stroke="#988ED5" stroke-width="1.7" d="M158.9,131.4L160.1,319.6M216.4,319.6L217.6,131.4M218.4,131.4L219.6,319.6M229.9,319.6L231.1,131.4"/>
<path fill="none" stroke="#777777" stroke-width="1.7" d="M158.9,131.4L160.1,319.6M160.9,319.6L162.1,131.4M174.4,131.4L175.6,319.6M216.4,319.6L217.6,131.4M218.4,131.4L219.6,319.6"/>
<path fill="none" stroke="#FBC15E" stroke-width="1.7" d="M158.9,131.4L160.1,319.6M216.4,319.6L217.6,131.4M218.4,131.4L219.6,319.6M229.9,319.6L231.1,131.4"/>
<path fill="none" stroke="#8EBA42" stroke-width="1.7" d="M158.9,131.4L160.1,319.6M160.9,319.6L162.1,131.4M174.4,131.4L175.6,319.6M216.4,319.6L217.6,131.4M218.4,131.4L219.6,319.6M224.4,319.6L225.6,131.4"/>
<path fill="none" stroke="#FFB5B8" stroke-width="1.7" d="M158.9,131.4L160.1,319.6M216.4,319.6L217.6,131.4M218.4,131.4L219.6,319.6"/>
<path fill="none" stroke="#E24A33" stroke-width="1.7" d="M158.9,131.4L160.1,319.6M160.9,319.6L162.1,131.4M174.4,131.4L175.6,319.6M216.4,319.6L217.6,131.4M218.4,131.4L219.6,319.6M224.4,319.6L225.6,131.4"/>
<g clip-path="url(#k0)">
<rect x="139.00" y="128.6" width="20.50" height="27.4" fill="#E24A33"/>
<path fill="#F0F0F0" stroke="none" d="M125.4,127.9 128,127.9 127.6,131.6 125.8,131.6Z"/>
<path fill="#E24A33" stroke="#E24A33" stroke-width="1.2" stroke-linejoin="round" d="M131.3,154L133.9,154L133,160L132.2,160Z"/>
<path fill="#348ABD" stroke="none" d="M128.4,128.6 130.3,128.6 130.1,131.5 128.6,131.5Z"/>
<path fill="#348ABD" stroke="none" d="M129.1,128.6 130.1,128.6 133.8,156.5 131.8,156.5Z"/>
<path fill="#348ABD" stroke="none" d="M132.1,154.6 135.4,154.6 135.4,157.6 132.1,157.6Z"/>
<path stroke="#EAA493" stroke-width="0.7" fill="none" d="M126,132L127.1,146M130.6,131L131.1,138"/>
<path fill="#E24A33" stroke="#E24A33" stroke-width="1.2" stroke-linejoin="round" d="M127.2,153L129.8,153L129,163L128.1,163Z"/>
<path fill="#F0F0F0" stroke="none" d="M133.1,127.9 135.7,127.9 135.3,131.6 133.5,131.6Z"/>
<path fill="#E24A33" stroke="#E24A33" stroke-width="1.2" stroke-linejoin="round" d="M139,154L141.6,154L140.7,160L139.9,160Z"/>
<path fill="#348ABD" stroke="none" d="M136.1,128.6 138,128.6 137.8,131.5 136.3,131.5Z"/>
<path fill="#348ABD" stroke="none" d="M136.8,128.6 137.8,128.6 141.5,156.5 139.5,156.5Z"/>
<path fill="#348ABD" stroke="none" d="M139.8,154.6 143.1,154.6 143.1,157.6 139.8,157.6Z"/>
<path stroke="#EAA493" stroke-width="0.7" fill="none" d="M133.7,132L134.8,146M138.3,131L138.8,138"/>
<path fill="#E24A33" stroke="#E24A33" stroke-width="1.2" stroke-linejoin="round" d="M134.9,153L137.5,153L136.7,166L135.8,166Z"/>
<path fill="#F0F0F0" stroke="none" d="M140.7,127.9 143.3,127.9 142.9,131.6 141.1,131.6Z"/>
<path fill="#E24A33" stroke="#E24A33" stroke-width="1.2" stroke-linejoin="round" d="M146.6,154L149.2,154L148.3,160L147.5,160Z"/>
<path fill="#348ABD" stroke="none" d="M143.7,128.6 145.6,128.6 145.4,131.5 143.9,131.5Z"/>
<path fill="#348ABD" stroke="none" d="M144.4,128.6 145.4,128.6 149.1,156.5 147.1,156.5Z"/>
<path fill="#348ABD" stroke="none" d="M147.4,154.6 150.7,154.6 150.7,157.6 147.4,157.6Z"/>
<path stroke="#EAA493" stroke-width="0.7" fill="none" d="M141.3,132L142.4,146M145.9,131L146.4,138"/>
<path fill="#E24A33" stroke="#E24A33" stroke-width="1.2" stroke-linejoin="round" d="M142.5,153L145.1,153L144.3,161L143.4,161Z"/>
<path fill="#F0F0F0" stroke="none" d="M148.4,127.9 151,127.9 150.6,131.6 148.8,131.6Z"/>
<path fill="#E24A33" stroke="#E24A33" stroke-width="1.2" stroke-linejoin="round" d="M154.3,154L156.9,154L156,160L155.2,160Z"/>
<path fill="#348ABD" stroke="none" d="M151.4,128.6 153.3,128.6 153.1,131.5 151.6,131.5Z"/>
<path fill="#348ABD" stroke="none" d="M152.1,128.6 153.1,128.6 156.8,156.5 154.8,156.5Z"/>
<path fill="#348ABD" stroke="none" d="M155.1,154.6 158.4,154.6 158.4,157.6 155.1,157.6Z"/>
<path stroke="#EAA493" stroke-width="0.7" fill="none" d="M149,132L150.1,146M153.6,131L154.1,138"/>
<path fill="#E24A33" stroke="#E24A33" stroke-width="1.2" stroke-linejoin="round" d="M150.2,153L152.8,153L152,163L151.1,163Z"/>
<path fill="#F0F0F0" stroke="none" d="M156.1,127.9 158.7,127.9 158.3,131.6 156.5,131.6Z"/>
<path fill="#E24A33" stroke="#E24A33" stroke-width="1.2" stroke-linejoin="round" d="M162,154L164.6,154L163.7,160L162.9,160Z"/>
<path fill="#348ABD" stroke="none" d="M159.1,128.6 161,128.6 160.8,131.5 159.3,131.5Z"/>
<path fill="#348ABD" stroke="none" d="M159.8,128.6 160.8,128.6 164.5,156.5 162.5,156.5Z"/>
<path fill="#348ABD" stroke="none" d="M162.8,154.6 166.1,154.6 166.1,157.6 162.8,157.6Z"/>
<path stroke="#EAA493" stroke-width="0.7" fill="none" d="M156.7,132L157.8,146M161.3,131L161.8,138"/>
<path fill="#E24A33" stroke="#E24A33" stroke-width="1.2" stroke-linejoin="round" d="M157.9,153L160.5,153L159.7,166L158.8,166Z"/>
<path fill="#F0F0F0" stroke="none" d="M163.8,127.9 166.4,127.9 166,131.6 164.2,131.6Z"/>
<path fill="#E24A33" stroke="#E24A33" stroke-width="1.2" stroke-linejoin="round" d="M169.7,154L172.3,154L171.4,160L170.6,160Z"/>
<path fill="#348ABD" stroke="none" d="M166.8,128.6 168.7,128.6 168.5,131.5 167,131.5Z"/>
<path fill="#348ABD" stroke="none" d="M167.5,128.6 168.5,128.6 172.2,156.5 170.2,156.5Z"/>
<path fill="#348ABD" stroke="none" d="M170.5,154.6 173.8,154.6 173.8,157.6 170.5,157.6Z"/>
<path stroke="#EAA493" stroke-width="0.7" fill="none" d="M164.4,132L165.5,146M169,131L169.5,138"/>
<path fill="#E24A33" stroke="#E24A33" stroke-width="1.2" stroke-linejoin="round" d="M165.6,153L168.2,153L167.4,161L166.5,161Z"/>
<path fill="#F0F0F0" stroke="none" d="M171.4,127.9 174,127.9 173.6,131.6 171.8,131.6Z"/>
<path fill="#E24A33" stroke="#E24A33" stroke-width="1.2" stroke-linejoin="round" d="M177.3,154L179.9,154L179,160L178.2,160Z"/>
<path fill="#348ABD" stroke="none" d="M174.4,128.6 176.3,128.6 176.1,131.5 174.6,131.5Z"/>
<path fill="#348ABD" stroke="none" d="M175.1,128.6 176.1,128.6 179.8,156.5 177.8,156.5Z"/>
<path fill="#348ABD" stroke="none" d="M178.1,154.6 181.4,154.6 181.4,157.6 178.1,157.6Z"/>
<path stroke="#EAA493" stroke-width="0.7" fill="none" d="M172,132L173.1,146M176.6,131L177.1,138"/>
<path fill="#E24A33" stroke="#E24A33" stroke-width="1.2" stroke-linejoin="round" d="M173.2,153L175.8,153L175,163L174.1,163Z"/>
</g>
<g clip-path="url(#k1)">
<rect x="159.50" y="128.6" width="16.00" height="26.4" fill="#E24A33"/>
<path fill="#F0F0F0" stroke="none" d="M148.4,127.9 151,127.9 150.6,131.6 148.8,131.6Z"/>
<path fill="#E24A33" stroke="#E24A33" stroke-width="1.2" stroke-linejoin="round" d="M154.3,153L156.9,153L156,159L155.2,159Z"/>
<path fill="#348ABD" stroke="none" d="M151.4,128.6 153.3,128.6 153.1,131.5 151.6,131.5Z"/>
<path fill="#348ABD" stroke="none" d="M152.1,128.6 153.1,128.6 156.8,155.5 154.8,155.5Z"/>
<path fill="#348ABD" stroke="none" d="M155.1,153.6 158.4,153.6 158.4,156.6 155.1,156.6Z"/>
<path stroke="#EAA493" stroke-width="0.7" fill="none" d="M149,132L150.1,146M153.6,131L154.1,138"/>
<path fill="#E24A33" stroke="#E24A33" stroke-width="1.2" stroke-linejoin="round" d="M150.2,152L152.8,152L152,163L151.1,163Z"/>
<path fill="#F0F0F0" stroke="none" d="M156.1,127.9 158.7,127.9 158.3,131.6 156.5,131.6Z"/>
<path fill="#E24A33" stroke="#E24A33" stroke-width="1.2" stroke-linejoin="round" d="M162,153L164.6,153L163.7,159L162.9,159Z"/>
<path fill="#348ABD" stroke="none" d="M159.1,128.6 161,128.6 160.8,131.5 159.3,131.5Z"/>
<path fill="#348ABD" stroke="none" d="M159.8,128.6 160.8,128.6 164.5,155.5 162.5,155.5Z"/>
<path fill="#348ABD" stroke="none" d="M162.8,153.6 166.1,153.6 166.1,156.6 162.8,156.6Z"/>
<path stroke="#EAA493" stroke-width="0.7" fill="none" d="M156.7,132L157.8,146M161.3,131L161.8,138"/>
<path fill="#E24A33" stroke="#E24A33" stroke-width="1.2" stroke-linejoin="round" d="M157.9,152L160.5,152L159.7,160L158.8,160Z"/>
<path fill="#F0F0F0" stroke="none" d="M163.8,127.9 166.4,127.9 166,131.6 164.2,131.6Z"/>
<path fill="#E24A33" stroke="#E24A33" stroke-width="1.2" stroke-linejoin="round" d="M169.7,153L172.3,153L171.4,159L170.6,159Z"/>
<path fill="#348ABD" stroke="none" d="M166.8,128.6 168.7,128.6 168.5,131.5 167,131.5Z"/>
<path fill="#348ABD" stroke="none" d="M167.5,128.6 168.5,128.6 172.2,155.5 170.2,155.5Z"/>
<path fill="#348ABD" stroke="none" d="M170.5,153.6 173.8,153.6 173.8,156.6 170.5,156.6Z"/>
<path stroke="#EAA493" stroke-width="0.7" fill="none" d="M164.4,132L165.5,146M169,131L169.5,138"/>
<path fill="#E24A33" stroke="#E24A33" stroke-width="1.2" stroke-linejoin="round" d="M165.6,152L168.2,152L167.4,165L166.5,165Z"/>
<path fill="#F0F0F0" stroke="none" d="M171.4,127.9 174,127.9 173.6,131.6 171.8,131.6Z"/>
<path fill="#E24A33" stroke="#E24A33" stroke-width="1.2" stroke-linejoin="round" d="M177.3,153L179.9,153L179,159L178.2,159Z"/>
<path fill="#348ABD" stroke="none" d="M174.4,128.6 176.3,128.6 176.1,131.5 174.6,131.5Z"/>
<path fill="#348ABD" stroke="none" d="M175.1,128.6 176.1,128.6 179.8,155.5 177.8,155.5Z"/>
<path fill="#348ABD" stroke="none" d="M178.1,153.6 181.4,153.6 181.4,156.6 178.1,156.6Z"/>
<path stroke="#EAA493" stroke-width="0.7" fill="none" d="M172,132L173.1,146M176.6,131L177.1,138"/>
<path fill="#E24A33" stroke="#E24A33" stroke-width="1.2" stroke-linejoin="round" d="M173.2,152L175.8,152L175,163L174.1,163Z"/>
<path fill="#F0F0F0" stroke="none" d="M179.1,127.9 181.7,127.9 181.3,131.6 179.5,131.6Z"/>
<path fill="#E24A33" stroke="#E24A33" stroke-width="1.2" stroke-linejoin="round" d="M185,153L187.6,153L186.7,159L185.9,159Z"/>
<path fill="#348ABD" stroke="none" d="M182.1,128.6 184,128.6 183.8,131.5 182.3,131.5Z"/>
<path fill="#348ABD" stroke="none" d="M182.8,128.6 183.8,128.6 187.5,155.5 185.5,155.5Z"/>
<path fill="#348ABD" stroke="none" d="M185.8,153.6 189.1,153.6 189.1,156.6 185.8,156.6Z"/>
<path stroke="#EAA493" stroke-width="0.7" fill="none" d="M179.7,132L180.8,146M184.3,131L184.8,138"/>
<path fill="#E24A33" stroke="#E24A33" stroke-width="1.2" stroke-linejoin="round" d="M180.9,152L183.5,152L182.7,160L181.8,160Z"/>
<path fill="#F0F0F0" stroke="none" d="M186.8,127.9 189.4,127.9 189,131.6 187.2,131.6Z"/>
<path fill="#E24A33" stroke="#E24A33" stroke-width="1.2" stroke-linejoin="round" d="M192.7,153L195.3,153L194.4,159L193.6,159Z"/>
<path fill="#348ABD" stroke="none" d="M189.8,128.6 191.7,128.6 191.5,131.5 190,131.5Z"/>
<path fill="#348ABD" stroke="none" d="M190.5,128.6 191.5,128.6 195.2,155.5 193.2,155.5Z"/>
<path fill="#348ABD" stroke="none" d="M193.5,153.6 196.8,153.6 196.8,156.6 193.5,156.6Z"/>
<path stroke="#EAA493" stroke-width="0.7" fill="none" d="M187.4,132L188.5,146M192,131L192.5,138"/>
<path fill="#E24A33" stroke="#E24A33" stroke-width="1.2" stroke-linejoin="round" d="M188.6,152L191.2,152L190.4,165L189.5,165Z"/>
</g>
<g clip-path="url(#k2)">
<rect x="175.50" y="128.6" width="36.00" height="23.4" fill="#348ABD"/>
<path fill="#E5E5E5" stroke="none" d="M163.8,127.9 166.4,127.9 166,131.6 164.2,131.6Z"/>
<path fill="#348ABD" stroke="#348ABD" stroke-width="1.2" stroke-linejoin="round" d="M169.7,150L172.3,150L171.4,160L170.6,160Z"/>
<path fill="#E5E5E5" stroke="none" d="M166.8,128.6 168.7,128.6 168.5,131.5 167,131.5Z"/>
<path fill="#E5E5E5" stroke="none" d="M167.5,128.6 168.5,128.6 172.2,152.5 170.2,152.5Z"/>
<path fill="#E5E5E5" stroke="none" d="M170.5,150.6 173.8,150.6 173.8,153.6 170.5,153.6Z"/>
<path fill="#348ABD" stroke="#348ABD" stroke-width="1.2" stroke-linejoin="round" d="M165.6,149L168.2,149L167.4,168L166.5,168Z"/>
<path fill="#E5E5E5" stroke="none" d="M171.4,127.9 174,127.9 173.6,131.6 171.8,131.6Z"/>
<path fill="#348ABD" stroke="#348ABD" stroke-width="1.2" stroke-linejoin="round" d="M177.3,150L179.9,150L179,160L178.2,160Z"/>
<path fill="#E5E5E5" stroke="none" d="M174.4,128.6 176.3,128.6 176.1,131.5 174.6,131.5Z"/>
<path fill="#E5E5E5" stroke="none" d="M175.1,128.6 176.1,128.6 179.8,152.5 177.8,152.5Z"/>
<path fill="#E5E5E5" stroke="none" d="M178.1,150.6 181.4,150.6 181.4,153.6 178.1,153.6Z"/>
<path fill="#348ABD" stroke="#348ABD" stroke-width="1.2" stroke-linejoin="round" d="M173.2,149L175.8,149L175,166L174.1,166Z"/>
<path fill="#E5E5E5" stroke="none" d="M179.1,127.9 181.7,127.9 181.3,131.6 179.5,131.6Z"/>
<path fill="#348ABD" stroke="#348ABD" stroke-width="1.2" stroke-linejoin="round" d="M185,150L187.6,150L186.7,160L185.9,160Z"/>
<path fill="#E5E5E5" stroke="none" d="M182.1,128.6 184,128.6 183.8,131.5 182.3,131.5Z"/>
<path fill="#E5E5E5" stroke="none" d="M182.8,128.6 183.8,128.6 187.5,152.5 185.5,152.5Z"/>
<path fill="#E5E5E5" stroke="none" d="M185.8,150.6 189.1,150.6 189.1,153.6 185.8,153.6Z"/>
<path fill="#348ABD" stroke="#348ABD" stroke-width="1.2" stroke-linejoin="round" d="M180.9,149L183.5,149L182.7,163L181.8,163Z"/>
<path fill="#E5E5E5" stroke="none" d="M186.8,127.9 189.4,127.9 189,131.6 187.2,131.6Z"/>
<path fill="#348ABD" stroke="#348ABD" stroke-width="1.2" stroke-linejoin="round" d="M192.7,150L195.3,150L194.4,160L193.6,160Z"/>
<path fill="#E5E5E5" stroke="none" d="M189.8,128.6 191.7,128.6 191.5,131.5 190,131.5Z"/>
<path fill="#E5E5E5" stroke="none" d="M190.5,128.6 191.5,128.6 195.2,152.5 193.2,152.5Z"/>
<path fill="#E5E5E5" stroke="none" d="M193.5,150.6 196.8,150.6 196.8,153.6 193.5,153.6Z"/>
<path fill="#348ABD" stroke="#348ABD" stroke-width="1.2" stroke-linejoin="round" d="M188.6,149L191.2,149L190.4,168L189.5,168Z"/>
<path fill="#E5E5E5" stroke="none" d="M194.5,127.9 197.1,127.9 196.7,131.6 194.9,131.6Z"/>
<path fill="#348ABD" stroke="#348ABD" stroke-width="1.2" stroke-linejoin="round" d="M200.4,150L203,150L202.1,160L201.3,160Z"/>
<path fill="#E5E5E5" stroke="none" d="M197.5,128.6 199.4,128.6 199.2,131.5 197.7,131.5Z"/>
<path fill="#E5E5E5" stroke="none" d="M198.2,128.6 199.2,128.6 202.9,152.5 200.9,152.5Z"/>
<path fill="#E5E5E5" stroke="none" d="M201.2,150.6 204.5,150.6 204.5,153.6 201.2,153.6Z"/>
<path fill="#348ABD" stroke="#348ABD" stroke-width="1.2" stroke-linejoin="round" d="M196.3,149L198.9,149L198.1,166L197.2,166Z"/>
<path fill="#E5E5E5" stroke="none" d="M202.1,127.9 204.7,127.9 204.3,131.6 202.5,131.6Z"/>
<path fill="#348ABD" stroke="#348ABD" stroke-width="1.2" stroke-linejoin="round" d="M208,150L210.6,150L209.7,160L208.9,160Z"/>
<path fill="#E5E5E5" stroke="none" d="M205.1,128.6 207,128.6 206.8,131.5 205.3,131.5Z"/>
<path fill="#E5E5E5" stroke="none" d="M205.8,128.6 206.8,128.6 210.5,152.5 208.5,152.5Z"/>
<path fill="#E5E5E5" stroke="none" d="M208.8,150.6 212.1,150.6 212.1,153.6 208.8,153.6Z"/>
<path fill="#348ABD" stroke="#348ABD" stroke-width="1.2" stroke-linejoin="round" d="M203.9,149L206.5,149L205.7,163L204.8,163Z"/>
<path fill="#E5E5E5" stroke="none" d="M209.8,127.9 212.4,127.9 212,131.6 210.2,131.6Z"/>
<path fill="#348ABD" stroke="#348ABD" stroke-width="1.2" stroke-linejoin="round" d="M215.7,150L218.3,150L217.4,160L216.6,160Z"/>
<path fill="#E5E5E5" stroke="none" d="M212.8,128.6 214.7,128.6 214.5,131.5 213,131.5Z"/>
<path fill="#E5E5E5" stroke="none" d="M213.5,128.6 214.5,128.6 218.2,152.5 216.2,152.5Z"/>
<path fill="#E5E5E5" stroke="none" d="M216.5,150.6 219.8,150.6 219.8,153.6 216.5,153.6Z"/>
<path fill="#348ABD" stroke="#348ABD" stroke-width="1.2" stroke-linejoin="round" d="M211.6,149L214.2,149L213.4,168L212.5,168Z"/>
<path fill="#E5E5E5" stroke="none" d="M217.5,127.9 220.1,127.9 219.7,131.6 217.9,131.6Z"/>
<path fill="#348ABD" stroke="#348ABD" stroke-width="1.2" stroke-linejoin="round" d="M223.4,150L226,150L225.1,160L224.3,160Z"/>
<path fill="#E5E5E5" stroke="none" d="M220.5,128.6 222.4,128.6 222.2,131.5 220.7,131.5Z"/>
<path fill="#E5E5E5" stroke="none" d="M221.2,128.6 222.2,128.6 225.9,152.5 223.9,152.5Z"/>
<path fill="#E5E5E5" stroke="none" d="M224.2,150.6 227.5,150.6 227.5,153.6 224.2,153.6Z"/>
<path fill="#348ABD" stroke="#348ABD" stroke-width="1.2" stroke-linejoin="round" d="M219.3,149L221.9,149L221.1,166L220.2,166Z"/>
<path fill="#E5E5E5" stroke="none" d="M225.2,127.9 227.8,127.9 227.4,131.6 225.6,131.6Z"/>
<path fill="#348ABD" stroke="#348ABD" stroke-width="1.2" stroke-linejoin="round" d="M231.1,150L233.7,150L232.8,160L232,160Z"/>
<path fill="#E5E5E5" stroke="none" d="M228.2,128.6 230.1,128.6 229.9,131.5 228.4,131.5Z"/>
<path fill="#E5E5E5" stroke="none" d="M228.9,128.6 229.9,128.6 233.6,152.5 231.6,152.5Z"/>
<path fill="#E5E5E5" stroke="none" d="M231.9,150.6 235.2,150.6 235.2,153.6 231.9,153.6Z"/>
<path fill="#348ABD" stroke="#348ABD" stroke-width="1.2" stroke-linejoin="round" d="M227,149L229.6,149L228.8,163L227.9,163Z"/>
</g>
<g clip-path="url(#k3)">
<rect x="225.00" y="128.6" width="8.00" height="26.4" fill="#E24A33"/>
<path fill="#F0F0F0" stroke="none" d="M209.8,127.9 212.4,127.9 212,131.6 210.2,131.6Z"/>
<path fill="#E24A33" stroke="#E24A33" stroke-width="1.2" stroke-linejoin="round" d="M215.7,153L218.3,153L217.4,159L216.6,159Z"/>
<path fill="#348ABD" stroke="none" d="M212.8,128.6 214.7,128.6 214.5,131.5 213,131.5Z"/>
<path fill="#348ABD" stroke="none" d="M213.5,128.6 214.5,128.6 218.2,155.5 216.2,155.5Z"/>
<path fill="#348ABD" stroke="none" d="M216.5,153.6 219.8,153.6 219.8,156.6 216.5,156.6Z"/>
<path stroke="#EAA493" stroke-width="0.7" fill="none" d="M210.4,132L211.5,146M215,131L215.5,138"/>
<path fill="#E24A33" stroke="#E24A33" stroke-width="1.2" stroke-linejoin="round" d="M211.6,152L214.2,152L213.4,165L212.5,165Z"/>
<path fill="#F0F0F0" stroke="none" d="M217.5,127.9 220.1,127.9 219.7,131.6 217.9,131.6Z"/>
<path fill="#E24A33" stroke="#E24A33" stroke-width="1.2" stroke-linejoin="round" d="M223.4,153L226,153L225.1,159L224.3,159Z"/>
<path fill="#348ABD" stroke="none" d="M220.5,128.6 222.4,128.6 222.2,131.5 220.7,131.5Z"/>
<path fill="#348ABD" stroke="none" d="M221.2,128.6 222.2,128.6 225.9,155.5 223.9,155.5Z"/>
<path fill="#348ABD" stroke="none" d="M224.2,153.6 227.5,153.6 227.5,156.6 224.2,156.6Z"/>
<path stroke="#EAA493" stroke-width="0.7" fill="none" d="M218.1,132L219.2,146M222.7,131L223.2,138"/>
<path fill="#E24A33" stroke="#E24A33" stroke-width="1.2" stroke-linejoin="round" d="M219.3,152L221.9,152L221.1,163L220.2,163Z"/>
<path fill="#F0F0F0" stroke="none" d="M225.2,127.9 227.8,127.9 227.4,131.6 225.6,131.6Z"/>
<path fill="#E24A33" stroke="#E24A33" stroke-width="1.2" stroke-linejoin="round" d="M231.1,153L233.7,153L232.8,159L232,159Z"/>
<path fill="#348ABD" stroke="none" d="M228.2,128.6 230.1,128.6 229.9,131.5 228.4,131.5Z"/>
<path fill="#348ABD" stroke="none" d="M228.9,128.6 229.9,128.6 233.6,155.5 231.6,155.5Z"/>
<path fill="#348ABD" stroke="none" d="M231.9,153.6 235.2,153.6 235.2,156.6 231.9,156.6Z"/>
<path stroke="#EAA493" stroke-width="0.7" fill="none" d="M225.8,132L226.9,146M230.4,131L230.9,138"/>
<path fill="#E24A33" stroke="#E24A33" stroke-width="1.2" stroke-linejoin="round" d="M227,152L229.6,152L228.8,160L227.9,160Z"/>
<path fill="#F0F0F0" stroke="none" d="M232.9,127.9 235.5,127.9 235.1,131.6 233.3,131.6Z"/>
<path fill="#E24A33" stroke="#E24A33" stroke-width="1.2" stroke-linejoin="round" d="M238.8,153L241.4,153L240.5,159L239.7,159Z"/>
<path fill="#348ABD" stroke="none" d="M235.9,128.6 237.8,128.6 237.6,131.5 236.1,131.5Z"/>
<path fill="#348ABD" stroke="none" d="M236.6,128.6 237.6,128.6 241.3,155.5 239.3,155.5Z"/>
<path fill="#348ABD" stroke="none" d="M239.6,153.6 242.9,153.6 242.9,156.6 239.6,156.6Z"/>
<path stroke="#EAA493" stroke-width="0.7" fill="none" d="M233.5,132L234.6,146M238.1,131L238.6,138"/>
<path fill="#E24A33" stroke="#E24A33" stroke-width="1.2" stroke-linejoin="round" d="M234.7,152L237.3,152L236.5,165L235.6,165Z"/>
<path fill="#F0F0F0" stroke="none" d="M240.5,127.9 243.1,127.9 242.7,131.6 240.9,131.6Z"/>
<path fill="#E24A33" stroke="#E24A33" stroke-width="1.2" stroke-linejoin="round" d="M246.4,153L249,153L248.1,159L247.3,159Z"/>
<path fill="#348ABD" stroke="none" d="M243.5,128.6 245.4,128.6 245.2,131.5 243.7,131.5Z"/>
<path fill="#348ABD" stroke="none" d="M244.2,128.6 245.2,128.6 248.9,155.5 246.9,155.5Z"/>
<path fill="#348ABD" stroke="none" d="M247.2,153.6 250.5,153.6 250.5,156.6 247.2,156.6Z"/>
<path stroke="#EAA493" stroke-width="0.7" fill="none" d="M241.1,132L242.2,146M245.7,131L246.2,138"/>
<path fill="#E24A33" stroke="#E24A33" stroke-width="1.2" stroke-linejoin="round" d="M242.3,152L244.9,152L244.1,163L243.2,163Z"/>
</g>
<g clip-path="url(#k4)">
<rect x="233.00" y="128.6" width="673.00" height="25.4" fill="#E24A33"/>
<path fill="#F0F0F0" stroke="none" d="M217.5,127.9 220.1,127.9 219.7,131.6 217.9,131.6Z"/>
<path fill="#E24A33" stroke="#E24A33" stroke-width="1.2" stroke-linejoin="round" d="M223.4,152L226,152L225.1,157.8L224.3,157.8Z"/>
<path fill="#348ABD" stroke="none" d="M220.5,128.6 222.4,128.6 222.2,131.5 220.7,131.5Z"/>
<path fill="#348ABD" stroke="none" d="M221.2,128.6 222.2,128.6 225.9,154.5 223.9,154.5Z"/>
<path fill="#348ABD" stroke="none" d="M224.2,152.6 227.5,152.6 227.5,155.6 224.2,155.6Z"/>
<path stroke="#EAA493" stroke-width="0.7" fill="none" d="M218.1,132L219.2,146M222.7,131L223.2,138"/>
<path fill="#E24A33" stroke="#E24A33" stroke-width="1.2" stroke-linejoin="round" d="M219.3,151L221.9,151L221.1,161.4L220.2,161.4Z"/>
<path fill="#F0F0F0" stroke="none" d="M225.2,127.9 227.8,127.9 227.4,131.6 225.6,131.6Z"/>
<path fill="#E24A33" stroke="#E24A33" stroke-width="1.2" stroke-linejoin="round" d="M231.1,152L233.7,152L232.8,157.8L232,157.8Z"/>
<path fill="#348ABD" stroke="none" d="M228.2,128.6 230.1,128.6 229.9,131.5 228.4,131.5Z"/>
<path fill="#348ABD" stroke="none" d="M228.9,128.6 229.9,128.6 233.6,154.5 231.6,154.5Z"/>
<path fill="#348ABD" stroke="none" d="M231.9,152.6 235.2,152.6 235.2,155.6 231.9,155.6Z"/>
<path stroke="#EAA493" stroke-width="0.7" fill="none" d="M225.8,132L226.9,146M230.4,131L230.9,138"/>
<path fill="#E24A33" stroke="#E24A33" stroke-width="1.2" stroke-linejoin="round" d="M227,151L229.6,151L228.8,159L227.9,159Z"/>
<path fill="#F0F0F0" stroke="none" d="M232.9,127.9 235.5,127.9 235.1,131.6 233.3,131.6Z"/>
<path fill="#E24A33" stroke="#E24A33" stroke-width="1.2" stroke-linejoin="round" d="M238.8,152L241.4,152L240.5,157.8L239.7,157.8Z"/>
<path fill="#348ABD" stroke="none" d="M235.9,128.6 237.8,128.6 237.6,131.5 236.1,131.5Z"/>
<path fill="#348ABD" stroke="none" d="M236.6,128.6 237.6,128.6 241.3,154.5 239.3,154.5Z"/>
<path fill="#348ABD" stroke="none" d="M239.6,152.6 242.9,152.6 242.9,155.6 239.6,155.6Z"/>
<path stroke="#EAA493" stroke-width="0.7" fill="none" d="M233.5,132L234.6,146M238.1,131L238.6,138"/>
<path fill="#E24A33" stroke="#E24A33" stroke-width="1.2" stroke-linejoin="round" d="M234.7,151L237.3,151L236.5,163.6L235.6,163.6Z"/>
<path fill="#F0F0F0" stroke="none" d="M240.5,127.9 243.1,127.9 242.7,131.6 240.9,131.6Z"/>
<path fill="#E24A33" stroke="#E24A33" stroke-width="1.2" stroke-linejoin="round" d="M246.4,152L249,152L248.1,157.8L247.3,157.8Z"/>
<path fill="#348ABD" stroke="none" d="M243.5,128.6 245.4,128.6 245.2,131.5 243.7,131.5Z"/>
<path fill="#348ABD" stroke="none" d="M244.2,128.6 245.2,128.6 248.9,154.5 246.9,154.5Z"/>
<path fill="#348ABD" stroke="none" d="M247.2,152.6 250.5,152.6 250.5,155.6 247.2,155.6Z"/>
<path stroke="#EAA493" stroke-width="0.7" fill="none" d="M241.1,132L242.2,146M245.7,131L246.2,138"/>
<path fill="#E24A33" stroke="#E24A33" stroke-width="1.2" stroke-linejoin="round" d="M242.3,151L244.9,151L244.1,161.4L243.2,161.4Z"/>
<path fill="#F0F0F0" stroke="none" d="M248.2,127.9 250.8,127.9 250.4,131.6 248.6,131.6Z"/>
<path fill="#E24A33" stroke="#E24A33" stroke-width="1.2" stroke-linejoin="round" d="M254.1,152L256.7,152L255.8,157.8L255,157.8Z"/>
<path fill="#348ABD" stroke="none" d="M251.2,128.6 253.1,128.6 252.9,131.5 251.4,131.5Z"/>
<path fill="#348ABD" stroke="none" d="M251.9,128.6 252.9,128.6 256.6,154.5 254.6,154.5Z"/>
<path fill="#348ABD" stroke="none" d="M254.9,152.6 258.2,152.6 258.2,155.6 254.9,155.6Z"/>
<path stroke="#EAA493" stroke-width="0.7" fill="none" d="M248.8,132L249.9,146M253.4,131L253.9,138"/>
<path fill="#E24A33" stroke="#E24A33" stroke-width="1.2" stroke-linejoin="round" d="M250,151L252.6,151L251.8,159L250.9,159Z"/>
<path fill="#F0F0F0" stroke="none" d="M255.9,127.9 258.5,127.9 258.1,131.6 256.3,131.6Z"/>
<path fill="#E24A33" stroke="#E24A33" stroke-width="1.2" stroke-linejoin="round" d="M261.8,152L264.4,152L263.5,157.8L262.7,157.8Z"/>
<path fill="#348ABD" stroke="none" d="M258.9,128.6 260.8,128.6 260.6,131.5 259.1,131.5Z"/>
<path fill="#348ABD" stroke="none" d="M259.6,128.6 260.6,128.6 264.3,154.5 262.3,154.5Z"/>
<path fill="#348ABD" stroke="none" d="M262.6,152.6 265.9,152.6 265.9,155.6 262.6,155.6Z"/>
<path stroke="#EAA493" stroke-width="0.7" fill="none" d="M256.5,132L257.6,146M261.1,131L261.6,138"/>
<path fill="#E24A33" stroke="#E24A33" stroke-width="1.2" stroke-linejoin="round" d="M257.7,151L260.3,151L259.5,163.6L258.6,163.6Z"/>
<path fill="#F0F0F0" stroke="none" d="M263.6,127.9 266.2,127.9 265.8,131.6 264,131.6Z"/>
<path fill="#E24A33" stroke="#E24A33" stroke-width="1.2" stroke-linejoin="round" d="M269.5,152L272.1,152L271.2,157.8L270.4,157.8Z"/>
<path fill="#348ABD" stroke="none" d="M266.6,128.6 268.5,128.6 268.3,131.5 266.8,131.5Z"/>
<path fill="#348ABD" stroke="none" d="M267.3,128.6 268.3,128.6 272,154.5 270,154.5Z"/>
<path fill="#348ABD" stroke="none" d="M270.3,152.6 273.6,152.6 273.6,155.6 270.3,155.6Z"/>
<path stroke="#EAA493" stroke-width="0.7" fill="none" d="M264.2,132L265.3,146M268.8,131L269.3,138"/>
<path fill="#E24A33" stroke="#E24A33" stroke-width="1.2" stroke-linejoin="round" d="M265.4,151L268,151L267.2,161.4L266.3,161.4Z"/>
<path fill="#F0F0F0" stroke="none" d="M271.2,127.9 273.8,127.9 273.4,131.6 271.6,131.6Z"/>
<path fill="#E24A33" stroke="#E24A33" stroke-width="1.2" stroke-linejoin="round" d="M277.1,152L279.7,152L278.8,157.8L278,157.8Z"/>
<path fill="#348ABD" stroke="none" d="M274.2,128.6 276.1,128.6 275.9,131.5 274.4,131.5Z"/>
<path fill="#348ABD" stroke="none" d="M274.9,128.6 275.9,128.6 279.6,154.5 277.6,154.5Z"/>
<path fill="#348ABD" stroke="none" d="M277.9,152.6 281.2,152.6 281.2,155.6 277.9,155.6Z"/>
<path stroke="#EAA493" stroke-width="0.7" fill="none" d="M271.8,132L272.9,146M276.4,131L276.9,138"/>
<path fill="#E24A33" stroke="#E24A33" stroke-width="1.2" stroke-linejoin="round" d="M273,151L275.6,151L274.8,159L273.9,159Z"/>
<path fill="#F0F0F0" stroke="none" d="M278.9,127.9 281.5,127.9 281.1,131.6 279.3,131.6Z"/>
<path fill="#E24A33" stroke="#E24A33" stroke-width="1.2" stroke-linejoin="round" d="M284.8,152L287.4,152L286.5,157.8L285.7,157.8Z"/>
<path fill="#348ABD" stroke="none" d="M281.9,128.6 283.8,128.6 283.6,131.5 282.1,131.5Z"/>
<path fill="#348ABD" stroke="none" d="M282.6,128.6 283.6,128.6 287.3,154.5 285.3,154.5Z"/>
<path fill="#348ABD" stroke="none" d="M285.6,152.6 288.9,152.6 288.9,155.6 285.6,155.6Z"/>
<path stroke="#EAA493" stroke-width="0.7" fill="none" d="M279.5,132L280.6,146M284.1,131L284.6,138"/>
<path fill="#E24A33" stroke="#E24A33" stroke-width="1.2" stroke-linejoin="round" d="M280.7,151L283.3,151L282.5,163.6L281.6,163.6Z"/>
<path fill="#F0F0F0" stroke="none" d="M286.6,127.9 289.2,127.9 288.8,131.6 287,131.6Z"/>
<path fill="#E24A33" stroke="#E24A33" stroke-width="1.2" stroke-linejoin="round" d="M292.5,152L295.1,152L294.2,157.8L293.4,157.8Z"/>
<path fill="#348ABD" stroke="none" d="M289.6,128.6 291.5,128.6 291.3,131.5 289.8,131.5Z"/>
<path fill="#348ABD" stroke="none" d="M290.3,128.6 291.3,128.6 295,154.5 293,154.5Z"/>
<path fill="#348ABD" stroke="none" d="M293.3,152.6 296.6,152.6 296.6,155.6 293.3,155.6Z"/>
<path stroke="#EAA493" stroke-width="0.7" fill="none" d="M287.2,132L288.3,146M291.8,131L292.3,138"/>
<path fill="#E24A33" stroke="#E24A33" stroke-width="1.2" stroke-linejoin="round" d="M288.4,151L291,151L290.2,161.4L289.3,161.4Z"/>
<path fill="#F0F0F0" stroke="none" d="M294.3,127.9 296.9,127.9 296.5,131.6 294.7,131.6Z"/>
<path fill="#E24A33" stroke="#E24A33" stroke-width="1.2" stroke-linejoin="round" d="M300.2,152L302.8,152L301.9,157.8L301.1,157.8Z"/>
<path fill="#348ABD" stroke="none" d="M297.3,128.6 299.2,128.6 299,131.5 297.5,131.5Z"/>
<path fill="#348ABD" stroke="none" d="M298,128.6 299,128.6 302.7,154.5 300.7,154.5Z"/>
<path fill="#348ABD" stroke="none" d="M301,152.6 304.3,152.6 304.3,155.6 301,155.6Z"/>
<path stroke="#EAA493" stroke-width="0.7" fill="none" d="M294.9,132L296,146M299.5,131L300,138"/>
<path fill="#E24A33" stroke="#E24A33" stroke-width="1.2" stroke-linejoin="round" d="M296.1,151L298.7,151L297.9,159L297,159Z"/>
<path fill="#F0F0F0" stroke="none" d="M301.9,127.9 304.5,127.9 304.1,131.6 302.3,131.6Z"/>
<path fill="#E24A33" stroke="#E24A33" stroke-width="1.2" stroke-linejoin="round" d="M307.8,152L310.4,152L309.5,157.8L308.7,157.8Z"/>
<path fill="#348ABD" stroke="none" d="M304.9,128.6 306.8,128.6 306.6,131.5 305.1,131.5Z"/>
<path fill="#348ABD" stroke="none" d="M305.6,128.6 306.6,128.6 310.3,154.5 308.3,154.5Z"/>
<path fill="#348ABD" stroke="none" d="M308.6,152.6 311.9,152.6 311.9,155.6 308.6,155.6Z"/>
<path stroke="#EAA493" stroke-width="0.7" fill="none" d="M302.5,132L303.6,146M307.1,131L307.6,138"/>
<path fill="#E24A33" stroke="#E24A33" stroke-width="1.2" stroke-linejoin="round" d="M303.7,151L306.3,151L305.5,163.6L304.6,163.6Z"/>
<path fill="#F0F0F0" stroke="none" d="M309.6,127.9 312.2,127.9 311.8,131.6 310,131.6Z"/>
<path fill="#E24A33" stroke="#E24A33" stroke-width="1.2" stroke-linejoin="round" d="M315.5,152L318.1,152L317.2,157.8L316.4,157.8Z"/>
<path fill="#348ABD" stroke="none" d="M312.6,128.6 314.5,128.6 314.3,131.5 312.8,131.5Z"/>
<path fill="#348ABD" stroke="none" d="M313.3,128.6 314.3,128.6 318,154.5 316,154.5Z"/>
<path fill="#348ABD" stroke="none" d="M316.3,152.6 319.6,152.6 319.6,155.6 316.3,155.6Z"/>
<path stroke="#EAA493" stroke-width="0.7" fill="none" d="M310.2,132L311.3,146M314.8,131L315.3,138"/>
<path fill="#E24A33" stroke="#E24A33" stroke-width="1.2" stroke-linejoin="round" d="M311.4,151L314,151L313.2,161.4L312.3,161.4Z"/>
<path fill="#F0F0F0" stroke="none" d="M317.3,127.9 319.9,127.9 319.5,131.6 317.7,131.6Z"/>
<path fill="#E24A33" stroke="#E24A33" stroke-width="1.2" stroke-linejoin="round" d="M323.2,152L325.8,152L324.9,157.8L324.1,157.8Z"/>
<path fill="#348ABD" stroke="none" d="M320.3,128.6 322.2,128.6 322,131.5 320.5,131.5Z"/>
<path fill="#348ABD" stroke="none" d="M321,128.6 322,128.6 325.7,154.5 323.7,154.5Z"/>
<path fill="#348ABD" stroke="none" d="M324,152.6 327.3,152.6 327.3,155.6 324,155.6Z"/>
<path stroke="#EAA493" stroke-width="0.7" fill="none" d="M317.9,132L319,146M322.5,131L323,138"/>
<path fill="#E24A33" stroke="#E24A33" stroke-width="1.2" stroke-linejoin="round" d="M319.1,151L321.7,151L320.9,159L320,159Z"/>
<path fill="#F0F0F0" stroke="none" d="M325,127.9 327.6,127.9 327.2,131.6 325.4,131.6Z"/>
<path fill="#E24A33" stroke="#E24A33" stroke-width="1.2" stroke-linejoin="round" d="M330.9,152L333.5,152L332.6,157.8L331.8,157.8Z"/>
<path fill="#348ABD" stroke="none" d="M328,128.6 329.9,128.6 329.7,131.5 328.2,131.5Z"/>
<path fill="#348ABD" stroke="none" d="M328.7,128.6 329.7,128.6 333.4,154.5 331.4,154.5Z"/>
<path fill="#348ABD" stroke="none" d="M331.7,152.6 335,152.6 335,155.6 331.7,155.6Z"/>
<path stroke="#EAA493" stroke-width="0.7" fill="none" d="M325.6,132L326.7,146M330.2,131L330.7,138"/>
<path fill="#E24A33" stroke="#E24A33" stroke-width="1.2" stroke-linejoin="round" d="M326.8,151L329.4,151L328.6,163.6L327.7,163.6Z"/>
<path fill="#F0F0F0" stroke="none" d="M332.7,127.9 335.3,127.9 334.9,131.6 333.1,131.6Z"/>
<path fill="#E24A33" stroke="#E24A33" stroke-width="1.2" stroke-linejoin="round" d="M338.6,152L341.2,152L340.3,157.8L339.5,157.8Z"/>
<path fill="#348ABD" stroke="none" d="M335.7,128.6 337.6,128.6 337.4,131.5 335.9,131.5Z"/>
<path fill="#348ABD" stroke="none" d="M336.4,128.6 337.4,128.6 341.1,154.5 339.1,154.5Z"/>
<path fill="#348ABD" stroke="none" d="M339.4,152.6 342.7,152.6 342.7,155.6 339.4,155.6Z"/>
<path stroke="#EAA493" stroke-width="0.7" fill="none" d="M333.3,132L334.4,146M337.9,131L338.4,138"/>
<path fill="#E24A33" stroke="#E24A33" stroke-width="1.2" stroke-linejoin="round" d="M334.5,151L337.1,151L336.3,161.4L335.4,161.4Z"/>
<path fill="#F0F0F0" stroke="none" d="M340.3,127.9 342.9,127.9 342.5,131.6 340.7,131.6Z"/>
<path fill="#E24A33" stroke="#E24A33" stroke-width="1.2" stroke-linejoin="round" d="M346.2,152L348.8,152L347.9,157.8L347.1,157.8Z"/>
<path fill="#348ABD" stroke="none" d="M343.3,128.6 345.2,128.6 345,131.5 343.5,131.5Z"/>
<path fill="#348ABD" stroke="none" d="M344,128.6 345,128.6 348.7,154.5 346.7,154.5Z"/>
<path fill="#348ABD" stroke="none" d="M347,152.6 350.3,152.6 350.3,155.6 347,155.6Z"/>
<path stroke="#EAA493" stroke-width="0.7" fill="none" d="M340.9,132L342,146M345.5,131L346,138"/>
<path fill="#E24A33" stroke="#E24A33" stroke-width="1.2" stroke-linejoin="round" d="M342.1,151L344.7,151L343.9,159L343,159Z"/>
<path fill="#F0F0F0" stroke="none" d="M348,127.9 350.6,127.9 350.2,131.6 348.4,131.6Z"/>
<path fill="#E24A33" stroke="#E24A33" stroke-width="1.2" stroke-linejoin="round" d="M353.9,152L356.5,152L355.6,157.8L354.8,157.8Z"/>
<path fill="#348ABD" stroke="none" d="M351,128.6 352.9,128.6 352.7,131.5 351.2,131.5Z"/>
<path fill="#348ABD" stroke="none" d="M351.7,128.6 352.7,128.6 356.4,154.5 354.4,154.5Z"/>
<path fill="#348ABD" stroke="none" d="M354.7,152.6 358,152.6 358,155.6 354.7,155.6Z"/>
<path stroke="#EAA493" stroke-width="0.7" fill="none" d="M348.6,132L349.7,146M353.2,131L353.7,138"/>
<path fill="#E24A33" stroke="#E24A33" stroke-width="1.2" stroke-linejoin="round" d="M349.8,151L352.4,151L351.6,163.6L350.7,163.6Z"/>
<path fill="#F0F0F0" stroke="none" d="M355.7,127.9 358.3,127.9 357.9,131.6 356.1,131.6Z"/>
<path fill="#E24A33" stroke="#E24A33" stroke-width="1.2" stroke-linejoin="round" d="M361.6,152L364.2,152L363.3,157.8L362.5,157.8Z"/>
<path fill="#348ABD" stroke="none" d="M358.7,128.6 360.6,128.6 360.4,131.5 358.9,131.5Z"/>
<path fill="#348ABD" stroke="none" d="M359.4,128.6 360.4,128.6 364.1,154.5 362.1,154.5Z"/>
<path fill="#348ABD" stroke="none" d="M362.4,152.6 365.7,152.6 365.7,155.6 362.4,155.6Z"/>
<path stroke="#EAA493" stroke-width="0.7" fill="none" d="M356.3,132L357.4,146M360.9,131L361.4,138"/>
<path fill="#E24A33" stroke="#E24A33" stroke-width="1.2" stroke-linejoin="round" d="M357.5,151L360.1,151L359.3,161.4L358.4,161.4Z"/>
<path fill="#F0F0F0" stroke="none" d="M363.4,127.9 366,127.9 365.6,131.6 363.8,131.6Z"/>
<path fill="#E24A33" stroke="#E24A33" stroke-width="1.2" stroke-linejoin="round" d="M369.3,152L371.9,152L371,157.8L370.2,157.8Z"/>
<path fill="#348ABD" stroke="none" d="M366.4,128.6 368.3,128.6 368.1,131.5 366.6,131.5Z"/>
<path fill="#348ABD" stroke="none" d="M367.1,128.6 368.1,128.6 371.8,154.5 369.8,154.5Z"/>
<path fill="#348ABD" stroke="none" d="M370.1,152.6 373.4,152.6 373.4,155.6 370.1,155.6Z"/>
<path stroke="#EAA493" stroke-width="0.7" fill="none" d="M364,132L365.1,146M368.6,131L369.1,138"/>
<path fill="#E24A33" stroke="#E24A33" stroke-width="1.2" stroke-linejoin="round" d="M365.2,151L367.8,151L367,159L366.1,159Z"/>
<path fill="#F0F0F0" stroke="none" d="M371,127.9 373.6,127.9 373.2,131.6 371.4,131.6Z"/>
<path fill="#E24A33" stroke="#E24A33" stroke-width="1.2" stroke-linejoin="round" d="M376.9,152L379.5,152L378.6,157.8L377.8,157.8Z"/>
<path fill="#348ABD" stroke="none" d="M374,128.6 375.9,128.6 375.7,131.5 374.2,131.5Z"/>
<path fill="#348ABD" stroke="none" d="M374.7,128.6 375.7,128.6 379.4,154.5 377.4,154.5Z"/>
<path fill="#348ABD" stroke="none" d="M377.7,152.6 381,152.6 381,155.6 377.7,155.6Z"/>
<path stroke="#EAA493" stroke-width="0.7" fill="none" d="M371.6,132L372.7,146M376.2,131L376.7,138"/>
<path fill="#E24A33" stroke="#E24A33" stroke-width="1.2" stroke-linejoin="round" d="M372.8,151L375.4,151L374.6,163.6L373.7,163.6Z"/>
<path fill="#F0F0F0" stroke="none" d="M378.7,127.9 381.3,127.9 380.9,131.6 379.1,131.6Z"/>
<path fill="#E24A33" stroke="#E24A33" stroke-width="1.2" stroke-linejoin="round" d="M384.6,152L387.2,152L386.3,157.8L385.5,157.8Z"/>
<path fill="#348ABD" stroke="none" d="M381.7,128.6 383.6,128.6 383.4,131.5 381.9,131.5Z"/>
<path fill="#348ABD" stroke="none" d="M382.4,128.6 383.4,128.6 387.1,154.5 385.1,154.5Z"/>
<path fill="#348ABD" stroke="none" d="M385.4,152.6 388.7,152.6 388.7,155.6 385.4,155.6Z"/>
<path stroke="#EAA493" stroke-width="0.7" fill="none" d="M379.3,132L380.4,146M383.9,131L384.4,138"/>
<path fill="#E24A33" stroke="#E24A33" stroke-width="1.2" stroke-linejoin="round" d="M380.5,151L383.1,151L382.3,161.4L381.4,161.4Z"/>
<path fill="#F0F0F0" stroke="none" d="M386.4,127.9 389,127.9 388.6,131.6 386.8,131.6Z"/>
<path fill="#E24A33" stroke="#E24A33" stroke-width="1.2" stroke-linejoin="round" d="M392.3,152L394.9,152L394,157.8L393.2,157.8Z"/>
<path fill="#348ABD" stroke="none" d="M389.4,128.6 391.3,128.6 391.1,131.5 389.6,131.5Z"/>
<path fill="#348ABD" stroke="none" d="M390.1,128.6 391.1,128.6 394.8,154.5 392.8,154.5Z"/>
<path fill="#348ABD" stroke="none" d="M393.1,152.6 396.4,152.6 396.4,155.6 393.1,155.6Z"/>
<path stroke="#EAA493" stroke-width="0.7" fill="none" d="M387,132L388.1,146M391.6,131L392.1,138"/>
<path fill="#E24A33" stroke="#E24A33" stroke-width="1.2" stroke-linejoin="round" d="M388.2,151L390.8,151L390,159L389.1,159Z"/>
<path fill="#F0F0F0" stroke="none" d="M394.1,127.9 396.7,127.9 396.3,131.6 394.5,131.6Z"/>
<path fill="#E24A33" stroke="#E24A33" stroke-width="1.2" stroke-linejoin="round" d="M400,152L402.6,152L401.7,157.8L400.9,157.8Z"/>
<path fill="#348ABD" stroke="none" d="M397.1,128.6 399,128.6 398.8,131.5 397.3,131.5Z"/>
<path fill="#348ABD" stroke="none" d="M397.8,128.6 398.8,128.6 402.5,154.5 400.5,154.5Z"/>
<path fill="#348ABD" stroke="none" d="M400.8,152.6 404.1,152.6 404.1,155.6 400.8,155.6Z"/>
<path stroke="#EAA493" stroke-width="0.7" fill="none" d="M394.7,132L395.8,146M399.3,131L399.8,138"/>
<path fill="#E24A33" stroke="#E24A33" stroke-width="1.2" stroke-linejoin="round" d="M395.9,151L398.5,151L397.7,163.6L396.8,163.6Z"/>
<path fill="#F0F0F0" stroke="none" d="M401.8,127.9 404.4,127.9 404,131.6 402.2,131.6Z"/>
<path fill="#E24A33" stroke="#E24A33" stroke-width="1.2" stroke-linejoin="round" d="M407.7,152L410.3,152L409.4,157.8L408.6,157.8Z"/>
<path fill="#348ABD" stroke="none" d="M404.8,128.6 406.7,128.6 406.5,131.5 405,131.5Z"/>
<path fill="#348ABD" stroke="none" d="M405.5,128.6 406.5,128.6 410.2,154.5 408.2,154.5Z"/>
<path fill="#348ABD" stroke="none" d="M408.5,152.6 411.8,152.6 411.8,155.6 408.5,155.6Z"/>
<path stroke="#EAA493" stroke-width="0.7" fill="none" d="M402.4,132L403.5,146M407,131L407.5,138"/>
<path fill="#E24A33" stroke="#E24A33" stroke-width="1.2" stroke-linejoin="round" d="M403.6,151L406.2,151L405.4,161.4L404.5,161.4Z"/>
<path fill="#F0F0F0" stroke="none" d="M409.4,127.9 412,127.9 411.6,131.6 409.8,131.6Z"/>
<path fill="#E24A33" stroke="#E24A33" stroke-width="1.2" stroke-linejoin="round" d="M415.3,152L417.9,152L417,157.8L416.2,157.8Z"/>
<path fill="#348ABD" stroke="none" d="M412.4,128.6 414.3,128.6 414.1,131.5 412.6,131.5Z"/>
<path fill="#348ABD" stroke="none" d="M413.1,128.6 414.1,128.6 417.8,154.5 415.8,154.5Z"/>
<path fill="#348ABD" stroke="none" d="M416.1,152.6 419.4,152.6 419.4,155.6 416.1,155.6Z"/>
<path stroke="#EAA493" stroke-width="0.7" fill="none" d="M410,132L411.1,146M414.6,131L415.1,138"/>
<path fill="#E24A33" stroke="#E24A33" stroke-width="1.2" stroke-linejoin="round" d="M411.2,151L413.8,151L413,159L412.1,159Z"/>
<path fill="#F0F0F0" stroke="none" d="M417.1,127.9 419.7,127.9 419.3,131.6 417.5,131.6Z"/>
<path fill="#E24A33" stroke="#E24A33" stroke-width="1.2" stroke-linejoin="round" d="M423,152L425.6,152L424.7,157.8L423.9,157.8Z"/>
<path fill="#348ABD" stroke="none" d="M420.1,128.6 422,128.6 421.8,131.5 420.3,131.5Z"/>
<path fill="#348ABD" stroke="none" d="M420.8,128.6 421.8,128.6 425.5,154.5 423.5,154.5Z"/>
<path fill="#348ABD" stroke="none" d="M423.8,152.6 427.1,152.6 427.1,155.6 423.8,155.6Z"/>
<path stroke="#EAA493" stroke-width="0.7" fill="none" d="M417.7,132L418.8,146M422.3,131L422.8,138"/>
<path fill="#E24A33" stroke="#E24A33" stroke-width="1.2" stroke-linejoin="round" d="M418.9,151L421.5,151L420.7,163.6L419.8,163.6Z"/>
<path fill="#F0F0F0" stroke="none" d="M424.8,127.9 427.4,127.9 427,131.6 425.2,131.6Z"/>
<path fill="#E24A33" stroke="#E24A33" stroke-width="1.2" stroke-linejoin="round" d="M430.7,152L433.3,152L432.4,157.8L431.6,157.8Z"/>
<path fill="#348ABD" stroke="none" d="M427.8,128.6 429.7,128.6 429.5,131.5 428,131.5Z"/>
<path fill="#348ABD" stroke="none" d="M428.5,128.6 429.5,128.6 433.2,154.5 431.2,154.5Z"/>
<path fill="#348ABD" stroke="none" d="M431.5,152.6 434.8,152.6 434.8,155.6 431.5,155.6Z"/>
<path stroke="#EAA493" stroke-width="0.7" fill="none" d="M425.4,132L426.5,146M430,131L430.5,138"/>
<path fill="#E24A33" stroke="#E24A33" stroke-width="1.2" stroke-linejoin="round" d="M426.6,151L429.2,151L428.4,161.4L427.5,161.4Z"/>
<path fill="#F0F0F0" stroke="none" d="M432.5,127.9 435.1,127.9 434.7,131.6 432.9,131.6Z"/>
<path fill="#E24A33" stroke="#E24A33" stroke-width="1.2" stroke-linejoin="round" d="M438.4,152L441,152L440.1,157.8L439.3,157.8Z"/>
<path fill="#348ABD" stroke="none" d="M435.5,128.6 437.4,128.6 437.2,131.5 435.7,131.5Z"/>
<path fill="#348ABD" stroke="none" d="M436.2,128.6 437.2,128.6 440.9,154.5 438.9,154.5Z"/>
<path fill="#348ABD" stroke="none" d="M439.2,152.6 442.5,152.6 442.5,155.6 439.2,155.6Z"/>
<path stroke="#EAA493" stroke-width="0.7" fill="none" d="M433.1,132L434.2,146M437.7,131L438.2,138"/>
<path fill="#E24A33" stroke="#E24A33" stroke-width="1.2" stroke-linejoin="round" d="M434.3,151L436.9,151L436.1,159L435.2,159Z"/>
<path fill="#F0F0F0" stroke="none" d="M440.1,127.9 442.7,127.9 442.3,131.6 440.5,131.6Z"/>
<path fill="#E24A33" stroke="#E24A33" stroke-width="1.2" stroke-linejoin="round" d="M446,152L448.6,152L447.7,157.8L446.9,157.8Z"/>
<path fill="#348ABD" stroke="none" d="M443.1,128.6 445,128.6 444.8,131.5 443.3,131.5Z"/>
<path fill="#348ABD" stroke="none" d="M443.8,128.6 444.8,128.6 448.5,154.5 446.5,154.5Z"/>
<path fill="#348ABD" stroke="none" d="M446.8,152.6 450.1,152.6 450.1,155.6 446.8,155.6Z"/>
<path stroke="#EAA493" stroke-width="0.7" fill="none" d="M440.7,132L441.8,146M445.3,131L445.8,138"/>
<path fill="#E24A33" stroke="#E24A33" stroke-width="1.2" stroke-linejoin="round" d="M441.9,151L444.5,151L443.7,163.6L442.8,163.6Z"/>
<path fill="#F0F0F0" stroke="none" d="M447.8,127.9 450.4,127.9 450,131.6 448.2,131.6Z"/>
<path fill="#E24A33" stroke="#E24A33" stroke-width="1.2" stroke-linejoin="round" d="M453.7,152L456.3,152L455.4,157.8L454.6,157.8Z"/>
<path fill="#348ABD" stroke="none" d="M450.8,128.6 452.7,128.6 452.5,131.5 451,131.5Z"/>
<path fill="#348ABD" stroke="none" d="M451.5,128.6 452.5,128.6 456.2,154.5 454.2,154.5Z"/>
<path fill="#348ABD" stroke="none" d="M454.5,152.6 457.8,152.6 457.8,155.6 454.5,155.6Z"/>
<path stroke="#EAA493" stroke-width="0.7" fill="none" d="M448.4,132L449.5,146M453,131L453.5,138"/>
<path fill="#E24A33" stroke="#E24A33" stroke-width="1.2" stroke-linejoin="round" d="M449.6,151L452.2,151L451.4,161.4L450.5,161.4Z"/>
<path fill="#F0F0F0" stroke="none" d="M455.5,127.9 458.1,127.9 457.7,131.6 455.9,131.6Z"/>
<path fill="#E24A33" stroke="#E24A33" stroke-width="1.2" stroke-linejoin="round" d="M461.4,152L464,152L463.1,157.8L462.3,157.8Z"/>
<path fill="#348ABD" stroke="none" d="M458.5,128.6 460.4,128.6 460.2,131.5 458.7,131.5Z"/>
<path fill="#348ABD" stroke="none" d="M459.2,128.6 460.2,128.6 463.9,154.5 461.9,154.5Z"/>
<path fill="#348ABD" stroke="none" d="M462.2,152.6 465.5,152.6 465.5,155.6 462.2,155.6Z"/>
<path stroke="#EAA493" stroke-width="0.7" fill="none" d="M456.1,132L457.2,146M460.7,131L461.2,138"/>
<path fill="#E24A33" stroke="#E24A33" stroke-width="1.2" stroke-linejoin="round" d="M457.3,151L459.9,151L459.1,159L458.2,159Z"/>
<path fill="#F0F0F0" stroke="none" d="M463.2,127.9 465.8,127.9 465.4,131.6 463.6,131.6Z"/>
<path fill="#E24A33" stroke="#E24A33" stroke-width="1.2" stroke-linejoin="round" d="M469.1,152L471.7,152L470.8,157.8L470,157.8Z"/>
<path fill="#348ABD" stroke="none" d="M466.2,128.6 468.1,128.6 467.9,131.5 466.4,131.5Z"/>
<path fill="#348ABD" stroke="none" d="M466.9,128.6 467.9,128.6 471.6,154.5 469.6,154.5Z"/>
<path fill="#348ABD" stroke="none" d="M469.9,152.6 473.2,152.6 473.2,155.6 469.9,155.6Z"/>
<path stroke="#EAA493" stroke-width="0.7" fill="none" d="M463.8,132L464.9,146M468.4,131L468.9,138"/>
<path fill="#E24A33" stroke="#E24A33" stroke-width="1.2" stroke-linejoin="round" d="M465,151L467.6,151L466.8,163.6L465.9,163.6Z"/>
<path fill="#F0F0F0" stroke="none" d="M470.8,127.9 473.4,127.9 473,131.6 471.2,131.6Z"/>
<path fill="#E24A33" stroke="#E24A33" stroke-width="1.2" stroke-linejoin="round" d="M476.7,152L479.3,152L478.4,157.8L477.6,157.8Z"/>
<path fill="#348ABD" stroke="none" d="M473.8,128.6 475.7,128.6 475.5,131.5 474,131.5Z"/>
<path fill="#348ABD" stroke="none" d="M474.5,128.6 475.5,128.6 479.2,154.5 477.2,154.5Z"/>
<path fill="#348ABD" stroke="none" d="M477.5,152.6 480.8,152.6 480.8,155.6 477.5,155.6Z"/>
<path stroke="#EAA493" stroke-width="0.7" fill="none" d="M471.4,132L472.5,146M476,131L476.5,138"/>
<path fill="#E24A33" stroke="#E24A33" stroke-width="1.2" stroke-linejoin="round" d="M472.6,151L475.2,151L474.4,161.4L473.5,161.4Z"/>
<path fill="#F0F0F0" stroke="none" d="M478.5,127.9 481.1,127.9 480.7,131.6 478.9,131.6Z"/>
<path fill="#E24A33" stroke="#E24A33" stroke-width="1.2" stroke-linejoin="round" d="M484.4,152L487,152L486.1,157.8L485.3,157.8Z"/>
<path fill="#348ABD" stroke="none" d="M481.5,128.6 483.4,128.6 483.2,131.5 481.7,131.5Z"/>
<path fill="#348ABD" stroke="none" d="M482.2,128.6 483.2,128.6 486.9,154.5 484.9,154.5Z"/>
<path fill="#348ABD" stroke="none" d="M485.2,152.6 488.5,152.6 488.5,155.6 485.2,155.6Z"/>
<path stroke="#EAA493" stroke-width="0.7" fill="none" d="M479.1,132L480.2,146M483.7,131L484.2,138"/>
<path fill="#E24A33" stroke="#E24A33" stroke-width="1.2" stroke-linejoin="round" d="M480.3,151L482.9,151L482.1,159L481.2,159Z"/>
<path fill="#F0F0F0" stroke="none" d="M486.2,127.9 488.8,127.9 488.4,131.6 486.6,131.6Z"/>
<path fill="#E24A33" stroke="#E24A33" stroke-width="1.2" stroke-linejoin="round" d="M492.1,152L494.7,152L493.8,157.8L493,157.8Z"/>
<path fill="#348ABD" stroke="none" d="M489.2,128.6 491.1,128.6 490.9,131.5 489.4,131.5Z"/>
<path fill="#348ABD" stroke="none" d="M489.9,128.6 490.9,128.6 494.6,154.5 492.6,154.5Z"/>
<path fill="#348ABD" stroke="none" d="M492.9,152.6 496.2,152.6 496.2,155.6 492.9,155.6Z"/>
<path stroke="#EAA493" stroke-width="0.7" fill="none" d="M486.8,132L487.9,146M491.4,131L491.9,138"/>
<path fill="#E24A33" stroke="#E24A33" stroke-width="1.2" stroke-linejoin="round" d="M488,151L490.6,151L489.8,163.6L488.9,163.6Z"/>
<path fill="#F0F0F0" stroke="none" d="M493.9,127.9 496.5,127.9 496.1,131.6 494.3,131.6Z"/>
<path fill="#E24A33" stroke="#E24A33" stroke-width="1.2" stroke-linejoin="round" d="M499.8,152L502.4,152L501.5,157.8L500.7,157.8Z"/>
<path fill="#348ABD" stroke="none" d="M496.9,128.6 498.8,128.6 498.6,131.5 497.1,131.5Z"/>
<path fill="#348ABD" stroke="none" d="M497.6,128.6 498.6,128.6 502.3,154.5 500.3,154.5Z"/>
<path fill="#348ABD" stroke="none" d="M500.6,152.6 503.9,152.6 503.9,155.6 500.6,155.6Z"/>
<path stroke="#EAA493" stroke-width="0.7" fill="none" d="M494.5,132L495.6,146M499.1,131L499.6,138"/>
<path fill="#E24A33" stroke="#E24A33" stroke-width="1.2" stroke-linejoin="round" d="M495.7,151L498.3,151L497.5,161.4L496.6,161.4Z"/>
<path fill="#F0F0F0" stroke="none" d="M501.6,127.9 504.2,127.9 503.8,131.6 502,131.6Z"/>
<path fill="#E24A33" stroke="#E24A33" stroke-width="1.2" stroke-linejoin="round" d="M507.5,152L510.1,152L509.2,157.8L508.4,157.8Z"/>
<path fill="#348ABD" stroke="none" d="M504.6,128.6 506.5,128.6 506.3,131.5 504.8,131.5Z"/>
<path fill="#348ABD" stroke="none" d="M505.3,128.6 506.3,128.6 510,154.5 508,154.5Z"/>
<path fill="#348ABD" stroke="none" d="M508.3,152.6 511.6,152.6 511.6,155.6 508.3,155.6Z"/>
<path stroke="#EAA493" stroke-width="0.7" fill="none" d="M502.2,132L503.3,146M506.8,131L507.3,138"/>
<path fill="#E24A33" stroke="#E24A33" stroke-width="1.2" stroke-linejoin="round" d="M503.4,151L506,151L505.2,159L504.3,159Z"/>
<path fill="#F0F0F0" stroke="none" d="M509.2,127.9 511.8,127.9 511.4,131.6 509.6,131.6Z"/>
<path fill="#E24A33" stroke="#E24A33" stroke-width="1.2" stroke-linejoin="round" d="M515.1,152L517.7,152L516.8,157.8L516,157.8Z"/>
<path fill="#348ABD" stroke="none" d="M512.2,128.6 514.1,128.6 513.9,131.5 512.4,131.5Z"/>
<path fill="#348ABD" stroke="none" d="M512.9,128.6 513.9,128.6 517.6,154.5 515.6,154.5Z"/>
<path fill="#348ABD" stroke="none" d="M515.9,152.6 519.2,152.6 519.2,155.6 515.9,155.6Z"/>
<path stroke="#EAA493" stroke-width="0.7" fill="none" d="M509.8,132L510.9,146M514.4,131L514.9,138"/>
<path fill="#E24A33" stroke="#E24A33" stroke-width="1.2" stroke-linejoin="round" d="M511,151L513.6,151L512.8,163.6L511.9,163.6Z"/>
<path fill="#F0F0F0" stroke="none" d="M516.9,127.9 519.5,127.9 519.1,131.6 517.3,131.6Z"/>
<path fill="#E24A33" stroke="#E24A33" stroke-width="1.2" stroke-linejoin="round" d="M522.8,152L525.4,152L524.5,157.8L523.7,157.8Z"/>
<path fill="#348ABD" stroke="none" d="M519.9,128.6 521.8,128.6 521.6,131.5 520.1,131.5Z"/>
<path fill="#348ABD" stroke="none" d="M520.6,128.6 521.6,128.6 525.3,154.5 523.3,154.5Z"/>
<path fill="#348ABD" stroke="none" d="M523.6,152.6 526.9,152.6 526.9,155.6 523.6,155.6Z"/>
<path stroke="#EAA493" stroke-width="0.7" fill="none" d="M517.5,132L518.6,146M522.1,131L522.6,138"/>
<path fill="#E24A33" stroke="#E24A33" stroke-width="1.2" stroke-linejoin="round" d="M518.7,151L521.3,151L520.5,161.4L519.6,161.4Z"/>
<path fill="#F0F0F0" stroke="none" d="M524.6,127.9 527.2,127.9 526.8,131.6 525,131.6Z"/>
<path fill="#E24A33" stroke="#E24A33" stroke-width="1.2" stroke-linejoin="round" d="M530.5,152L533.1,152L532.2,157.8L531.4,157.8Z"/>
<path fill="#348ABD" stroke="none" d="M527.6,128.6 529.5,128.6 529.3,131.5 527.8,131.5Z"/>
<path fill="#348ABD" stroke="none" d="M528.3,128.6 529.3,128.6 533,154.5 531,154.5Z"/>
<path fill="#348ABD" stroke="none" d="M531.3,152.6 534.6,152.6 534.6,155.6 531.3,155.6Z"/>
<path stroke="#EAA493" stroke-width="0.7" fill="none" d="M525.2,132L526.3,146M529.8,131L530.3,138"/>
<path fill="#E24A33" stroke="#E24A33" stroke-width="1.2" stroke-linejoin="round" d="M526.4,151L529,151L528.2,159L527.3,159Z"/>
<path fill="#F0F0F0" stroke="none" d="M532.3,127.9 534.9,127.9 534.5,131.6 532.7,131.6Z"/>
<path fill="#E24A33" stroke="#E24A33" stroke-width="1.2" stroke-linejoin="round" d="M538.2,152L540.8,152L539.9,157.8L539.1,157.8Z"/>
<path fill="#348ABD" stroke="none" d="M535.3,128.6 537.2,128.6 537,131.5 535.5,131.5Z"/>
<path fill="#348ABD" stroke="none" d="M536,128.6 537,128.6 540.7,154.5 538.7,154.5Z"/>
<path fill="#348ABD" stroke="none" d="M539,152.6 542.3,152.6 542.3,155.6 539,155.6Z"/>
<path stroke="#EAA493" stroke-width="0.7" fill="none" d="M532.9,132L534,146M537.5,131L538,138"/>
<path fill="#E24A33" stroke="#E24A33" stroke-width="1.2" stroke-linejoin="round" d="M534.1,151L536.7,151L535.9,163.6L535,163.6Z"/>
<path fill="#F0F0F0" stroke="none" d="M539.9,127.9 542.5,127.9 542.1,131.6 540.3,131.6Z"/>
<path fill="#E24A33" stroke="#E24A33" stroke-width="1.2" stroke-linejoin="round" d="M545.8,152L548.4,152L547.5,157.8L546.7,157.8Z"/>
<path fill="#348ABD" stroke="none" d="M542.9,128.6 544.8,128.6 544.6,131.5 543.1,131.5Z"/>
<path fill="#348ABD" stroke="none" d="M543.6,128.6 544.6,128.6 548.3,154.5 546.3,154.5Z"/>
<path fill="#348ABD" stroke="none" d="M546.6,152.6 549.9,152.6 549.9,155.6 546.6,155.6Z"/>
<path stroke="#EAA493" stroke-width="0.7" fill="none" d="M540.5,132L541.6,146M545.1,131L545.6,138"/>
<path fill="#E24A33" stroke="#E24A33" stroke-width="1.2" stroke-linejoin="round" d="M541.7,151L544.3,151L543.5,161.4L542.6,161.4Z"/>
<path fill="#F0F0F0" stroke="none" d="M547.6,127.9 550.2,127.9 549.8,131.6 548,131.6Z"/>
<path fill="#E24A33" stroke="#E24A33" stroke-width="1.2" stroke-linejoin="round" d="M553.5,152L556.1,152L555.2,157.8L554.4,157.8Z"/>
<path fill="#348ABD" stroke="none" d="M550.6,128.6 552.5,128.6 552.3,131.5 550.8,131.5Z"/>
<path fill="#348ABD" stroke="none" d="M551.3,128.6 552.3,128.6 556,154.5 554,154.5Z"/>
<path fill="#348ABD" stroke="none" d="M554.3,152.6 557.6,152.6 557.6,155.6 554.3,155.6Z"/>
<path stroke="#EAA493" stroke-width="0.7" fill="none" d="M548.2,132L549.3,146M552.8,131L553.3,138"/>
<path fill="#E24A33" stroke="#E24A33" stroke-width="1.2" stroke-linejoin="round" d="M549.4,151L552,151L551.2,159L550.3,159Z"/>
<path fill="#F0F0F0" stroke="none" d="M555.3,127.9 557.9,127.9 557.5,131.6 555.7,131.6Z"/>
<path fill="#E24A33" stroke="#E24A33" stroke-width="1.2" stroke-linejoin="round" d="M561.2,152L563.8,152L562.9,157.8L562.1,157.8Z"/>
<path fill="#348ABD" stroke="none" d="M558.3,128.6 560.2,128.6 560,131.5 558.5,131.5Z"/>
<path fill="#348ABD" stroke="none" d="M559,128.6 560,128.6 563.7,154.5 561.7,154.5Z"/>
<path fill="#348ABD" stroke="none" d="M562,152.6 565.3,152.6 565.3,155.6 562,155.6Z"/>
<path stroke="#EAA493" stroke-width="0.7" fill="none" d="M555.9,132L557,146M560.5,131L561,138"/>
<path fill="#E24A33" stroke="#E24A33" stroke-width="1.2" stroke-linejoin="round" d="M557.1,151L559.7,151L558.9,163.6L558,163.6Z"/>
<path fill="#F0F0F0" stroke="none" d="M563,127.9 565.6,127.9 565.2,131.6 563.4,131.6Z"/>
<path fill="#E24A33" stroke="#E24A33" stroke-width="1.2" stroke-linejoin="round" d="M568.9,152L571.5,152L570.6,157.8L569.8,157.8Z"/>
<path fill="#348ABD" stroke="none" d="M566,128.6 567.9,128.6 567.7,131.5 566.2,131.5Z"/>
<path fill="#348ABD" stroke="none" d="M566.7,128.6 567.7,128.6 571.4,154.5 569.4,154.5Z"/>
<path fill="#348ABD" stroke="none" d="M569.7,152.6 573,152.6 573,155.6 569.7,155.6Z"/>
<path stroke="#EAA493" stroke-width="0.7" fill="none" d="M563.6,132L564.7,146M568.2,131L568.7,138"/>
<path fill="#E24A33" stroke="#E24A33" stroke-width="1.2" stroke-linejoin="round" d="M564.8,151L567.4,151L566.6,161.4L565.7,161.4Z"/>
<path fill="#F0F0F0" stroke="none" d="M570.6,127.9 573.2,127.9 572.8,131.6 571,131.6Z"/>
<path fill="#E24A33" stroke="#E24A33" stroke-width="1.2" stroke-linejoin="round" d="M576.5,152L579.1,152L578.2,157.8L577.4,157.8Z"/>
<path fill="#348ABD" stroke="none" d="M573.6,128.6 575.5,128.6 575.3,131.5 573.8,131.5Z"/>
<path fill="#348ABD" stroke="none" d="M574.3,128.6 575.3,128.6 579,154.5 577,154.5Z"/>
<path fill="#348ABD" stroke="none" d="M577.3,152.6 580.6,152.6 580.6,155.6 577.3,155.6Z"/>
<path stroke="#EAA493" stroke-width="0.7" fill="none" d="M571.2,132L572.3,146M575.8,131L576.3,138"/>
<path fill="#E24A33" stroke="#E24A33" stroke-width="1.2" stroke-linejoin="round" d="M572.4,151L575,151L574.2,159L573.3,159Z"/>
<path fill="#F0F0F0" stroke="none" d="M578.3,127.9 580.9,127.9 580.5,131.6 578.7,131.6Z"/>
<path fill="#E24A33" stroke="#E24A33" stroke-width="1.2" stroke-linejoin="round" d="M584.2,152L586.8,152L585.9,157.8L585.1,157.8Z"/>
<path fill="#348ABD" stroke="none" d="M581.3,128.6 583.2,128.6 583,131.5 581.5,131.5Z"/>
<path fill="#348ABD" stroke="none" d="M582,128.6 583,128.6 586.7,154.5 584.7,154.5Z"/>
<path fill="#348ABD" stroke="none" d="M585,152.6 588.3,152.6 588.3,155.6 585,155.6Z"/>
<path stroke="#EAA493" stroke-width="0.7" fill="none" d="M578.9,132L580,146M583.5,131L584,138"/>
<path fill="#E24A33" stroke="#E24A33" stroke-width="1.2" stroke-linejoin="round" d="M580.1,151L582.7,151L581.9,163.6L581,163.6Z"/>
<path fill="#F0F0F0" stroke="none" d="M586,127.9 588.6,127.9 588.2,131.6 586.4,131.6Z"/>
<path fill="#E24A33" stroke="#E24A33" stroke-width="1.2" stroke-linejoin="round" d="M591.9,152L594.5,152L593.6,157.8L592.8,157.8Z"/>
<path fill="#348ABD" stroke="none" d="M589,128.6 590.9,128.6 590.7,131.5 589.2,131.5Z"/>
<path fill="#348ABD" stroke="none" d="M589.7,128.6 590.7,128.6 594.4,154.5 592.4,154.5Z"/>
<path fill="#348ABD" stroke="none" d="M592.7,152.6 596,152.6 596,155.6 592.7,155.6Z"/>
<path stroke="#EAA493" stroke-width="0.7" fill="none" d="M586.6,132L587.7,146M591.2,131L591.7,138"/>
<path fill="#E24A33" stroke="#E24A33" stroke-width="1.2" stroke-linejoin="round" d="M587.8,151L590.4,151L589.6,161.4L588.7,161.4Z"/>
<path fill="#F0F0F0" stroke="none" d="M593.7,127.9 596.3,127.9 595.9,131.6 594.1,131.6Z"/>
<path fill="#E24A33" stroke="#E24A33" stroke-width="1.2" stroke-linejoin="round" d="M599.6,152L602.2,152L601.3,157.8L600.5,157.8Z"/>
<path fill="#348ABD" stroke="none" d="M596.7,128.6 598.6,128.6 598.4,131.5 596.9,131.5Z"/>
<path fill="#348ABD" stroke="none" d="M597.4,128.6 598.4,128.6 602.1,154.5 600.1,154.5Z"/>
<path fill="#348ABD" stroke="none" d="M600.4,152.6 603.7,152.6 603.7,155.6 600.4,155.6Z"/>
<path stroke="#EAA493" stroke-width="0.7" fill="none" d="M594.3,132L595.4,146M598.9,131L599.4,138"/>
<path fill="#E24A33" stroke="#E24A33" stroke-width="1.2" stroke-linejoin="round" d="M595.5,151L598.1,151L597.3,159L596.4,159Z"/>
<path fill="#F0F0F0" stroke="none" d="M601.4,127.9 604,127.9 603.6,131.6 601.8,131.6Z"/>
<path fill="#E24A33" stroke="#E24A33" stroke-width="1.2" stroke-linejoin="round" d="M607.3,152L609.9,152L609,157.8L608.2,157.8Z"/>
<path fill="#348ABD" stroke="none" d="M604.4,128.6 606.3,128.6 606.1,131.5 604.6,131.5Z"/>
<path fill="#348ABD" stroke="none" d="M605.1,128.6 606.1,128.6 609.8,154.5 607.8,154.5Z"/>
<path fill="#348ABD" stroke="none" d="M608.1,152.6 611.4,152.6 611.4,155.6 608.1,155.6Z"/>
<path stroke="#EAA493" stroke-width="0.7" fill="none" d="M602,132L603.1,146M606.6,131L607.1,138"/>
<path fill="#E24A33" stroke="#E24A33" stroke-width="1.2" stroke-linejoin="round" d="M603.2,151L605.8,151L605,163.6L604.1,163.6Z"/>
<path fill="#F0F0F0" stroke="none" d="M609,127.9 611.6,127.9 611.2,131.6 609.4,131.6Z"/>
<path fill="#E24A33" stroke="#E24A33" stroke-width="1.2" stroke-linejoin="round" d="M614.9,152L617.5,152L616.6,157.8L615.8,157.8Z"/>
<path fill="#348ABD" stroke="none" d="M612,128.6 613.9,128.6 613.7,131.5 612.2,131.5Z"/>
<path fill="#348ABD" stroke="none" d="M612.7,128.6 613.7,128.6 617.4,154.5 615.4,154.5Z"/>
<path fill="#348ABD" stroke="none" d="M615.7,152.6 619,152.6 619,155.6 615.7,155.6Z"/>
<path stroke="#EAA493" stroke-width="0.7" fill="none" d="M609.6,132L610.7,146M614.2,131L614.7,138"/>
<path fill="#E24A33" stroke="#E24A33" stroke-width="1.2" stroke-linejoin="round" d="M610.8,151L613.4,151L612.6,161.4L611.7,161.4Z"/>
<path fill="#F0F0F0" stroke="none" d="M616.7,127.9 619.3,127.9 618.9,131.6 617.1,131.6Z"/>
<path fill="#E24A33" stroke="#E24A33" stroke-width="1.2" stroke-linejoin="round" d="M622.6,152L625.2,152L624.3,157.8L623.5,157.8Z"/>
<path fill="#348ABD" stroke="none" d="M619.7,128.6 621.6,128.6 621.4,131.5 619.9,131.5Z"/>
<path fill="#348ABD" stroke="none" d="M620.4,128.6 621.4,128.6 625.1,154.5 623.1,154.5Z"/>
<path fill="#348ABD" stroke="none" d="M623.4,152.6 626.7,152.6 626.7,155.6 623.4,155.6Z"/>
<path stroke="#EAA493" stroke-width="0.7" fill="none" d="M617.3,132L618.4,146M621.9,131L622.4,138"/>
<path fill="#E24A33" stroke="#E24A33" stroke-width="1.2" stroke-linejoin="round" d="M618.5,151L621.1,151L620.3,159L619.4,159Z"/>
<path fill="#F0F0F0" stroke="none" d="M624.4,127.9 627,127.9 626.6,131.6 624.8,131.6Z"/>
<path fill="#E24A33" stroke="#E24A33" stroke-width="1.2" stroke-linejoin="round" d="M630.3,152L632.9,152L632,157.8L631.2,157.8Z"/>
<path fill="#348ABD" stroke="none" d="M627.4,128.6 629.3,128.6 629.1,131.5 627.6,131.5Z"/>
<path fill="#348ABD" stroke="none" d="M628.1,128.6 629.1,128.6 632.8,154.5 630.8,154.5Z"/>
<path fill="#348ABD" stroke="none" d="M631.1,152.6 634.4,152.6 634.4,155.6 631.1,155.6Z"/>
<path stroke="#EAA493" stroke-width="0.7" fill="none" d="M625,132L626.1,146M629.6,131L630.1,138"/>
<path fill="#E24A33" stroke="#E24A33" stroke-width="1.2" stroke-linejoin="round" d="M626.2,151L628.8,151L628,163.6L627.1,163.6Z"/>
<path fill="#F0F0F0" stroke="none" d="M632.1,127.9 634.7,127.9 634.3,131.6 632.5,131.6Z"/>
<path fill="#E24A33" stroke="#E24A33" stroke-width="1.2" stroke-linejoin="round" d="M638,152L640.6,152L639.7,157.8L638.9,157.8Z"/>
<path fill="#348ABD" stroke="none" d="M635.1,128.6 637,128.6 636.8,131.5 635.3,131.5Z"/>
<path fill="#348ABD" stroke="none" d="M635.8,128.6 636.8,128.6 640.5,154.5 638.5,154.5Z"/>
<path fill="#348ABD" stroke="none" d="M638.8,152.6 642.1,152.6 642.1,155.6 638.8,155.6Z"/>
<path stroke="#EAA493" stroke-width="0.7" fill="none" d="M632.7,132L633.8,146M637.3,131L637.8,138"/>
<path fill="#E24A33" stroke="#E24A33" stroke-width="1.2" stroke-linejoin="round" d="M633.9,151L636.5,151L635.7,161.4L634.8,161.4Z"/>
<path fill="#F0F0F0" stroke="none" d="M639.7,127.9 642.3,127.9 641.9,131.6 640.1,131.6Z"/>
<path fill="#E24A33" stroke="#E24A33" stroke-width="1.2" stroke-linejoin="round" d="M645.6,152L648.2,152L647.3,157.8L646.5,157.8Z"/>
<path fill="#348ABD" stroke="none" d="M642.7,128.6 644.6,128.6 644.4,131.5 642.9,131.5Z"/>
<path fill="#348ABD" stroke="none" d="M643.4,128.6 644.4,128.6 648.1,154.5 646.1,154.5Z"/>
<path fill="#348ABD" stroke="none" d="M646.4,152.6 649.7,152.6 649.7,155.6 646.4,155.6Z"/>
<path stroke="#EAA493" stroke-width="0.7" fill="none" d="M640.3,132L641.4,146M644.9,131L645.4,138"/>
<path fill="#E24A33" stroke="#E24A33" stroke-width="1.2" stroke-linejoin="round" d="M641.5,151L644.1,151L643.3,159L642.4,159Z"/>
<path fill="#F0F0F0" stroke="none" d="M647.4,127.9 650,127.9 649.6,131.6 647.8,131.6Z"/>
<path fill="#E24A33" stroke="#E24A33" stroke-width="1.2" stroke-linejoin="round" d="M653.3,152L655.9,152L655,157.8L654.2,157.8Z"/>
<path fill="#348ABD" stroke="none" d="M650.4,128.6 652.3,128.6 652.1,131.5 650.6,131.5Z"/>
<path fill="#348ABD" stroke="none" d="M651.1,128.6 652.1,128.6 655.8,154.5 653.8,154.5Z"/>
<path fill="#348ABD" stroke="none" d="M654.1,152.6 657.4,152.6 657.4,155.6 654.1,155.6Z"/>
<path stroke="#EAA493" stroke-width="0.7" fill="none" d="M648,132L649.1,146M652.6,131L653.1,138"/>
<path fill="#E24A33" stroke="#E24A33" stroke-width="1.2" stroke-linejoin="round" d="M649.2,151L651.8,151L651,163.6L650.1,163.6Z"/>
<path fill="#F0F0F0" stroke="none" d="M655.1,127.9 657.7,127.9 657.3,131.6 655.5,131.6Z"/>
<path fill="#E24A33" stroke="#E24A33" stroke-width="1.2" stroke-linejoin="round" d="M661,152L663.6,152L662.7,157.8L661.9,157.8Z"/>
<path fill="#348ABD" stroke="none" d="M658.1,128.6 660,128.6 659.8,131.5 658.3,131.5Z"/>
<path fill="#348ABD" stroke="none" d="M658.8,128.6 659.8,128.6 663.5,154.5 661.5,154.5Z"/>
<path fill="#348ABD" stroke="none" d="M661.8,152.6 665.1,152.6 665.1,155.6 661.8,155.6Z"/>
<path stroke="#EAA493" stroke-width="0.7" fill="none" d="M655.7,132L656.8,146M660.3,131L660.8,138"/>
<path fill="#E24A33" stroke="#E24A33" stroke-width="1.2" stroke-linejoin="round" d="M656.9,151L659.5,151L658.7,161.4L657.8,161.4Z"/>
<path fill="#F0F0F0" stroke="none" d="M662.8,127.9 665.4,127.9 665,131.6 663.2,131.6Z"/>
<path fill="#E24A33" stroke="#E24A33" stroke-width="1.2" stroke-linejoin="round" d="M668.7,152L671.3,152L670.4,157.8L669.6,157.8Z"/>
<path fill="#348ABD" stroke="none" d="M665.8,128.6 667.7,128.6 667.5,131.5 666,131.5Z"/>
<path fill="#348ABD" stroke="none" d="M666.5,128.6 667.5,128.6 671.2,154.5 669.2,154.5Z"/>
<path fill="#348ABD" stroke="none" d="M669.5,152.6 672.8,152.6 672.8,155.6 669.5,155.6Z"/>
<path stroke="#EAA493" stroke-width="0.7" fill="none" d="M663.4,132L664.5,146M668,131L668.5,138"/>
<path fill="#E24A33" stroke="#E24A33" stroke-width="1.2" stroke-linejoin="round" d="M664.6,151L667.2,151L666.4,159L665.5,159Z"/>
<path fill="#F0F0F0" stroke="none" d="M670.4,127.9 673,127.9 672.6,131.6 670.8,131.6Z"/>
<path fill="#E24A33" stroke="#E24A33" stroke-width="1.2" stroke-linejoin="round" d="M676.3,152L678.9,152L678,157.8L677.2,157.8Z"/>
<path fill="#348ABD" stroke="none" d="M673.4,128.6 675.3,128.6 675.1,131.5 673.6,131.5Z"/>
<path fill="#348ABD" stroke="none" d="M674.1,128.6 675.1,128.6 678.8,154.5 676.8,154.5Z"/>
<path fill="#348ABD" stroke="none" d="M677.1,152.6 680.4,152.6 680.4,155.6 677.1,155.6Z"/>
<path stroke="#EAA493" stroke-width="0.7" fill="none" d="M671,132L672.1,146M675.6,131L676.1,138"/>
<path fill="#E24A33" stroke="#E24A33" stroke-width="1.2" stroke-linejoin="round" d="M672.2,151L674.8,151L674,163.6L673.1,163.6Z"/>
<path fill="#F0F0F0" stroke="none" d="M678.1,127.9 680.7,127.9 680.3,131.6 678.5,131.6Z"/>
<path fill="#E24A33" stroke="#E24A33" stroke-width="1.2" stroke-linejoin="round" d="M684,152L686.6,152L685.7,157.8L684.9,157.8Z"/>
<path fill="#348ABD" stroke="none" d="M681.1,128.6 683,128.6 682.8,131.5 681.3,131.5Z"/>
<path fill="#348ABD" stroke="none" d="M681.8,128.6 682.8,128.6 686.5,154.5 684.5,154.5Z"/>
<path fill="#348ABD" stroke="none" d="M684.8,152.6 688.1,152.6 688.1,155.6 684.8,155.6Z"/>
<path stroke="#EAA493" stroke-width="0.7" fill="none" d="M678.7,132L679.8,146M683.3,131L683.8,138"/>
<path fill="#E24A33" stroke="#E24A33" stroke-width="1.2" stroke-linejoin="round" d="M679.9,151L682.5,151L681.7,161.4L680.8,161.4Z"/>
<path fill="#F0F0F0" stroke="none" d="M685.8,127.9 688.4,127.9 688,131.6 686.2,131.6Z"/>
<path fill="#E24A33" stroke="#E24A33" stroke-width="1.2" stroke-linejoin="round" d="M691.7,152L694.3,152L693.4,157.8L692.6,157.8Z"/>
<path fill="#348ABD" stroke="none" d="M688.8,128.6 690.7,128.6 690.5,131.5 689,131.5Z"/>
<path fill="#348ABD" stroke="none" d="M689.5,128.6 690.5,128.6 694.2,154.5 692.2,154.5Z"/>
<path fill="#348ABD" stroke="none" d="M692.5,152.6 695.8,152.6 695.8,155.6 692.5,155.6Z"/>
<path stroke="#EAA493" stroke-width="0.7" fill="none" d="M686.4,132L687.5,146M691,131L691.5,138"/>
<path fill="#E24A33" stroke="#E24A33" stroke-width="1.2" stroke-linejoin="round" d="M687.6,151L690.2,151L689.4,159L688.5,159Z"/>
<path fill="#F0F0F0" stroke="none" d="M693.5,127.9 696.1,127.9 695.7,131.6 693.9,131.6Z"/>
<path fill="#E24A33" stroke="#E24A33" stroke-width="1.2" stroke-linejoin="round" d="M699.4,152L702,152L701.1,157.8L700.3,157.8Z"/>
<path fill="#348ABD" stroke="none" d="M696.5,128.6 698.4,128.6 698.2,131.5 696.7,131.5Z"/>
<path fill="#348ABD" stroke="none" d="M697.2,128.6 698.2,128.6 701.9,154.5 699.9,154.5Z"/>
<path fill="#348ABD" stroke="none" d="M700.2,152.6 703.5,152.6 703.5,155.6 700.2,155.6Z"/>
<path stroke="#EAA493" stroke-width="0.7" fill="none" d="M694.1,132L695.2,146M698.7,131L699.2,138"/>
<path fill="#E24A33" stroke="#E24A33" stroke-width="1.2" stroke-linejoin="round" d="M695.3,151L697.9,151L697.1,163.6L696.2,163.6Z"/>
<path fill="#F0F0F0" stroke="none" d="M701.2,127.9 703.8,127.9 703.4,131.6 701.6,131.6Z"/>
<path fill="#E24A33" stroke="#E24A33" stroke-width="1.2" stroke-linejoin="round" d="M707.1,152L709.7,152L708.8,157.8L708,157.8Z"/>
<path fill="#348ABD" stroke="none" d="M704.2,128.6 706.1,128.6 705.9,131.5 704.4,131.5Z"/>
<path fill="#348ABD" stroke="none" d="M704.9,128.6 705.9,128.6 709.6,154.5 707.6,154.5Z"/>
<path fill="#348ABD" stroke="none" d="M707.9,152.6 711.2,152.6 711.2,155.6 707.9,155.6Z"/>
<path stroke="#EAA493" stroke-width="0.7" fill="none" d="M701.8,132L702.9,146M706.4,131L706.9,138"/>
<path fill="#E24A33" stroke="#E24A33" stroke-width="1.2" stroke-linejoin="round" d="M703,151L705.6,151L704.8,161.4L703.9,161.4Z"/>
<path fill="#F0F0F0" stroke="none" d="M708.8,127.9 711.4,127.9 711,131.6 709.2,131.6Z"/>
<path fill="#E24A33" stroke="#E24A33" stroke-width="1.2" stroke-linejoin="round" d="M714.7,152L717.3,152L716.4,157.8L715.6,157.8Z"/>
<path fill="#348ABD" stroke="none" d="M711.8,128.6 713.7,128.6 713.5,131.5 712,131.5Z"/>
<path fill="#348ABD" stroke="none" d="M712.5,128.6 713.5,128.6 717.2,154.5 715.2,154.5Z"/>
<path fill="#348ABD" stroke="none" d="M715.5,152.6 718.8,152.6 718.8,155.6 715.5,155.6Z"/>
<path stroke="#EAA493" stroke-width="0.7" fill="none" d="M709.4,132L710.5,146M714,131L714.5,138"/>
<path fill="#E24A33" stroke="#E24A33" stroke-width="1.2" stroke-linejoin="round" d="M710.6,151L713.2,151L712.4,159L711.5,159Z"/>
<path fill="#F0F0F0" stroke="none" d="M716.5,127.9 719.1,127.9 718.7,131.6 716.9,131.6Z"/>
<path fill="#E24A33" stroke="#E24A33" stroke-width="1.2" stroke-linejoin="round" d="M722.4,152L725,152L724.1,157.8L723.3,157.8Z"/>
<path fill="#348ABD" stroke="none" d="M719.5,128.6 721.4,128.6 721.2,131.5 719.7,131.5Z"/>
<path fill="#348ABD" stroke="none" d="M720.2,128.6 721.2,128.6 724.9,154.5 722.9,154.5Z"/>
<path fill="#348ABD" stroke="none" d="M723.2,152.6 726.5,152.6 726.5,155.6 723.2,155.6Z"/>
<path stroke="#EAA493" stroke-width="0.7" fill="none" d="M717.1,132L718.2,146M721.7,131L722.2,138"/>
<path fill="#E24A33" stroke="#E24A33" stroke-width="1.2" stroke-linejoin="round" d="M718.3,151L720.9,151L720.1,163.6L719.2,163.6Z"/>
<path fill="#F0F0F0" stroke="none" d="M724.2,127.9 726.8,127.9 726.4,131.6 724.6,131.6Z"/>
<path fill="#E24A33" stroke="#E24A33" stroke-width="1.2" stroke-linejoin="round" d="M730.1,152L732.7,152L731.8,157.8L731,157.8Z"/>
<path fill="#348ABD" stroke="none" d="M727.2,128.6 729.1,128.6 728.9,131.5 727.4,131.5Z"/>
<path fill="#348ABD" stroke="none" d="M727.9,128.6 728.9,128.6 732.6,154.5 730.6,154.5Z"/>
<path fill="#348ABD" stroke="none" d="M730.9,152.6 734.2,152.6 734.2,155.6 730.9,155.6Z"/>
<path stroke="#EAA493" stroke-width="0.7" fill="none" d="M724.8,132L725.9,146M729.4,131L729.9,138"/>
<path fill="#E24A33" stroke="#E24A33" stroke-width="1.2" stroke-linejoin="round" d="M726,151L728.6,151L727.8,161.4L726.9,161.4Z"/>
<path fill="#F0F0F0" stroke="none" d="M731.9,127.9 734.5,127.9 734.1,131.6 732.3,131.6Z"/>
<path fill="#E24A33" stroke="#E24A33" stroke-width="1.2" stroke-linejoin="round" d="M737.8,152L740.4,152L739.5,157.8L738.7,157.8Z"/>
<path fill="#348ABD" stroke="none" d="M734.9,128.6 736.8,128.6 736.6,131.5 735.1,131.5Z"/>
<path fill="#348ABD" stroke="none" d="M735.6,128.6 736.6,128.6 740.3,154.5 738.3,154.5Z"/>
<path fill="#348ABD" stroke="none" d="M738.6,152.6 741.9,152.6 741.9,155.6 738.6,155.6Z"/>
<path stroke="#EAA493" stroke-width="0.7" fill="none" d="M732.5,132L733.6,146M737.1,131L737.6,138"/>
<path fill="#E24A33" stroke="#E24A33" stroke-width="1.2" stroke-linejoin="round" d="M733.7,151L736.3,151L735.5,159L734.6,159Z"/>
<path fill="#F0F0F0" stroke="none" d="M739.5,127.9 742.1,127.9 741.7,131.6 739.9,131.6Z"/>
<path fill="#E24A33" stroke="#E24A33" stroke-width="1.2" stroke-linejoin="round" d="M745.4,152L748,152L747.1,157.8L746.3,157.8Z"/>
<path fill="#348ABD" stroke="none" d="M742.5,128.6 744.4,128.6 744.2,131.5 742.7,131.5Z"/>
<path fill="#348ABD" stroke="none" d="M743.2,128.6 744.2,128.6 747.9,154.5 745.9,154.5Z"/>
<path fill="#348ABD" stroke="none" d="M746.2,152.6 749.5,152.6 749.5,155.6 746.2,155.6Z"/>
<path stroke="#EAA493" stroke-width="0.7" fill="none" d="M740.1,132L741.2,146M744.7,131L745.2,138"/>
<path fill="#E24A33" stroke="#E24A33" stroke-width="1.2" stroke-linejoin="round" d="M741.3,151L743.9,151L743.1,163.6L742.2,163.6Z"/>
<path fill="#F0F0F0" stroke="none" d="M747.2,127.9 749.8,127.9 749.4,131.6 747.6,131.6Z"/>
<path fill="#E24A33" stroke="#E24A33" stroke-width="1.2" stroke-linejoin="round" d="M753.1,152L755.7,152L754.8,157.8L754,157.8Z"/>
<path fill="#348ABD" stroke="none" d="M750.2,128.6 752.1,128.6 751.9,131.5 750.4,131.5Z"/>
<path fill="#348ABD" stroke="none" d="M750.9,128.6 751.9,128.6 755.6,154.5 753.6,154.5Z"/>
<path fill="#348ABD" stroke="none" d="M753.9,152.6 757.2,152.6 757.2,155.6 753.9,155.6Z"/>
<path stroke="#EAA493" stroke-width="0.7" fill="none" d="M747.8,132L748.9,146M752.4,131L752.9,138"/>
<path fill="#E24A33" stroke="#E24A33" stroke-width="1.2" stroke-linejoin="round" d="M749,151L751.6,151L750.8,161.4L749.9,161.4Z"/>
<path fill="#F0F0F0" stroke="none" d="M754.9,127.9 757.5,127.9 757.1,131.6 755.3,131.6Z"/>
<path fill="#E24A33" stroke="#E24A33" stroke-width="1.2" stroke-linejoin="round" d="M760.8,152L763.4,152L762.5,157.8L761.7,157.8Z"/>
<path fill="#348ABD" stroke="none" d="M757.9,128.6 759.8,128.6 759.6,131.5 758.1,131.5Z"/>
<path fill="#348ABD" stroke="none" d="M758.6,128.6 759.6,128.6 763.3,154.5 761.3,154.5Z"/>
<path fill="#348ABD" stroke="none" d="M761.6,152.6 764.9,152.6 764.9,155.6 761.6,155.6Z"/>
<path stroke="#EAA493" stroke-width="0.7" fill="none" d="M755.5,132L756.6,146M760.1,131L760.6,138"/>
<path fill="#E24A33" stroke="#E24A33" stroke-width="1.2" stroke-linejoin="round" d="M756.7,151L759.3,151L758.5,159L757.6,159Z"/>
<path fill="#F0F0F0" stroke="none" d="M762.6,127.9 765.2,127.9 764.8,131.6 763,131.6Z"/>
<path fill="#E24A33" stroke="#E24A33" stroke-width="1.2" stroke-linejoin="round" d="M768.5,152L771.1,152L770.2,157.8L769.4,157.8Z"/>
<path fill="#348ABD" stroke="none" d="M765.6,128.6 767.5,128.6 767.3,131.5 765.8,131.5Z"/>
<path fill="#348ABD" stroke="none" d="M766.3,128.6 767.3,128.6 771,154.5 769,154.5Z"/>
<path fill="#348ABD" stroke="none" d="M769.3,152.6 772.6,152.6 772.6,155.6 769.3,155.6Z"/>
<path stroke="#EAA493" stroke-width="0.7" fill="none" d="M763.2,132L764.3,146M767.8,131L768.3,138"/>
<path fill="#E24A33" stroke="#E24A33" stroke-width="1.2" stroke-linejoin="round" d="M764.4,151L767,151L766.2,163.6L765.3,163.6Z"/>
<path fill="#F0F0F0" stroke="none" d="M770.2,127.9 772.8,127.9 772.4,131.6 770.6,131.6Z"/>
<path fill="#E24A33" stroke="#E24A33" stroke-width="1.2" stroke-linejoin="round" d="M776.1,152L778.7,152L777.8,157.8L777,157.8Z"/>
<path fill="#348ABD" stroke="none" d="M773.2,128.6 775.1,128.6 774.9,131.5 773.4,131.5Z"/>
<path fill="#348ABD" stroke="none" d="M773.9,128.6 774.9,128.6 778.6,154.5 776.6,154.5Z"/>
<path fill="#348ABD" stroke="none" d="M776.9,152.6 780.2,152.6 780.2,155.6 776.9,155.6Z"/>
<path stroke="#EAA493" stroke-width="0.7" fill="none" d="M770.8,132L771.9,146M775.4,131L775.9,138"/>
<path fill="#E24A33" stroke="#E24A33" stroke-width="1.2" stroke-linejoin="round" d="M772,151L774.6,151L773.8,161.4L772.9,161.4Z"/>
<path fill="#F0F0F0" stroke="none" d="M777.9,127.9 780.5,127.9 780.1,131.6 778.3,131.6Z"/>
<path fill="#E24A33" stroke="#E24A33" stroke-width="1.2" stroke-linejoin="round" d="M783.8,152L786.4,152L785.5,157.8L784.7,157.8Z"/>
<path fill="#348ABD" stroke="none" d="M780.9,128.6 782.8,128.6 782.6,131.5 781.1,131.5Z"/>
<path fill="#348ABD" stroke="none" d="M781.6,128.6 782.6,128.6 786.3,154.5 784.3,154.5Z"/>
<path fill="#348ABD" stroke="none" d="M784.6,152.6 787.9,152.6 787.9,155.6 784.6,155.6Z"/>
<path stroke="#EAA493" stroke-width="0.7" fill="none" d="M778.5,132L779.6,146M783.1,131L783.6,138"/>
<path fill="#E24A33" stroke="#E24A33" stroke-width="1.2" stroke-linejoin="round" d="M779.7,151L782.3,151L781.5,159L780.6,159Z"/>
<path fill="#F0F0F0" stroke="none" d="M785.6,127.9 788.2,127.9 787.8,131.6 786,131.6Z"/>
<path fill="#E24A33" stroke="#E24A33" stroke-width="1.2" stroke-linejoin="round" d="M791.5,152L794.1,152L793.2,157.8L792.4,157.8Z"/>
<path fill="#348ABD" stroke="none" d="M788.6,128.6 790.5,128.6 790.3,131.5 788.8,131.5Z"/>
<path fill="#348ABD" stroke="none" d="M789.3,128.6 790.3,128.6 794,154.5 792,154.5Z"/>
<path fill="#348ABD" stroke="none" d="M792.3,152.6 795.6,152.6 795.6,155.6 792.3,155.6Z"/>
<path stroke="#EAA493" stroke-width="0.7" fill="none" d="M786.2,132L787.3,146M790.8,131L791.3,138"/>
<path fill="#E24A33" stroke="#E24A33" stroke-width="1.2" stroke-linejoin="round" d="M787.4,151L790,151L789.2,163.6L788.3,163.6Z"/>
<path fill="#F0F0F0" stroke="none" d="M793.3,127.9 795.9,127.9 795.5,131.6 793.7,131.6Z"/>
<path fill="#E24A33" stroke="#E24A33" stroke-width="1.2" stroke-linejoin="round" d="M799.2,152L801.8,152L800.9,157.8L800.1,157.8Z"/>
<path fill="#348ABD" stroke="none" d="M796.3,128.6 798.2,128.6 798,131.5 796.5,131.5Z"/>
<path fill="#348ABD" stroke="none" d="M797,128.6 798,128.6 801.7,154.5 799.7,154.5Z"/>
<path fill="#348ABD" stroke="none" d="M800,152.6 803.3,152.6 803.3,155.6 800,155.6Z"/>
<path stroke="#EAA493" stroke-width="0.7" fill="none" d="M793.9,132L795,146M798.5,131L799,138"/>
<path fill="#E24A33" stroke="#E24A33" stroke-width="1.2" stroke-linejoin="round" d="M795.1,151L797.7,151L796.9,161.4L796,161.4Z"/>
<path fill="#F0F0F0" stroke="none" d="M801,127.9 803.6,127.9 803.2,131.6 801.4,131.6Z"/>
<path fill="#E24A33" stroke="#E24A33" stroke-width="1.2" stroke-linejoin="round" d="M806.9,152L809.5,152L808.6,157.8L807.8,157.8Z"/>
<path fill="#348ABD" stroke="none" d="M804,128.6 805.9,128.6 805.7,131.5 804.2,131.5Z"/>
<path fill="#348ABD" stroke="none" d="M804.7,128.6 805.7,128.6 809.4,154.5 807.4,154.5Z"/>
<path fill="#348ABD" stroke="none" d="M807.7,152.6 811,152.6 811,155.6 807.7,155.6Z"/>
<path stroke="#EAA493" stroke-width="0.7" fill="none" d="M801.6,132L802.7,146M806.2,131L806.7,138"/>
<path fill="#E24A33" stroke="#E24A33" stroke-width="1.2" stroke-linejoin="round" d="M802.8,151L805.4,151L804.6,159L803.7,159Z"/>
<path fill="#F0F0F0" stroke="none" d="M808.6,127.9 811.2,127.9 810.8,131.6 809,131.6Z"/>
<path fill="#E24A33" stroke="#E24A33" stroke-width="1.2" stroke-linejoin="round" d="M814.5,152L817.1,152L816.2,157.8L815.4,157.8Z"/>
<path fill="#348ABD" stroke="none" d="M811.6,128.6 813.5,128.6 813.3,131.5 811.8,131.5Z"/>
<path fill="#348ABD" stroke="none" d="M812.3,128.6 813.3,128.6 817,154.5 815,154.5Z"/>
<path fill="#348ABD" stroke="none" d="M815.3,152.6 818.6,152.6 818.6,155.6 815.3,155.6Z"/>
<path stroke="#EAA493" stroke-width="0.7" fill="none" d="M809.2,132L810.3,146M813.8,131L814.3,138"/>
<path fill="#E24A33" stroke="#E24A33" stroke-width="1.2" stroke-linejoin="round" d="M810.4,151L813,151L812.2,163.6L811.3,163.6Z"/>
<path fill="#F0F0F0" stroke="none" d="M816.3,127.9 818.9,127.9 818.5,131.6 816.7,131.6Z"/>
<path fill="#E24A33" stroke="#E24A33" stroke-width="1.2" stroke-linejoin="round" d="M822.2,152L824.8,152L823.9,157.8L823.1,157.8Z"/>
<path fill="#348ABD" stroke="none" d="M819.3,128.6 821.2,128.6 821,131.5 819.5,131.5Z"/>
<path fill="#348ABD" stroke="none" d="M820,128.6 821,128.6 824.7,154.5 822.7,154.5Z"/>
<path fill="#348ABD" stroke="none" d="M823,152.6 826.3,152.6 826.3,155.6 823,155.6Z"/>
<path stroke="#EAA493" stroke-width="0.7" fill="none" d="M816.9,132L818,146M821.5,131L822,138"/>
<path fill="#E24A33" stroke="#E24A33" stroke-width="1.2" stroke-linejoin="round" d="M818.1,151L820.7,151L819.9,161.4L819,161.4Z"/>
<path fill="#F0F0F0" stroke="none" d="M824,127.9 826.6,127.9 826.2,131.6 824.4,131.6Z"/>
<path fill="#E24A33" stroke="#E24A33" stroke-width="1.2" stroke-linejoin="round" d="M829.9,152L832.5,152L831.6,157.8L830.8,157.8Z"/>
<path fill="#348ABD" stroke="none" d="M827,128.6 828.9,128.6 828.7,131.5 827.2,131.5Z"/>
<path fill="#348ABD" stroke="none" d="M827.7,128.6 828.7,128.6 832.4,154.5 830.4,154.5Z"/>
<path fill="#348ABD" stroke="none" d="M830.7,152.6 834,152.6 834,155.6 830.7,155.6Z"/>
<path stroke="#EAA493" stroke-width="0.7" fill="none" d="M824.6,132L825.7,146M829.2,131L829.7,138"/>
<path fill="#E24A33" stroke="#E24A33" stroke-width="1.2" stroke-linejoin="round" d="M825.8,151L828.4,151L827.6,159L826.7,159Z"/>
<path fill="#F0F0F0" stroke="none" d="M831.7,127.9 834.3,127.9 833.9,131.6 832.1,131.6Z"/>
<path fill="#E24A33" stroke="#E24A33" stroke-width="1.2" stroke-linejoin="round" d="M837.6,152L840.2,152L839.3,157.8L838.5,157.8Z"/>
<path fill="#348ABD" stroke="none" d="M834.7,128.6 836.6,128.6 836.4,131.5 834.9,131.5Z"/>
<path fill="#348ABD" stroke="none" d="M835.4,128.6 836.4,128.6 840.1,154.5 838.1,154.5Z"/>
<path fill="#348ABD" stroke="none" d="M838.4,152.6 841.7,152.6 841.7,155.6 838.4,155.6Z"/>
<path stroke="#EAA493" stroke-width="0.7" fill="none" d="M832.3,132L833.4,146M836.9,131L837.4,138"/>
<path fill="#E24A33" stroke="#E24A33" stroke-width="1.2" stroke-linejoin="round" d="M833.5,151L836.1,151L835.3,163.6L834.4,163.6Z"/>
<path fill="#F0F0F0" stroke="none" d="M839.3,127.9 841.9,127.9 841.5,131.6 839.7,131.6Z"/>
<path fill="#E24A33" stroke="#E24A33" stroke-width="1.2" stroke-linejoin="round" d="M845.2,152L847.8,152L846.9,157.8L846.1,157.8Z"/>
<path fill="#348ABD" stroke="none" d="M842.3,128.6 844.2,128.6 844,131.5 842.5,131.5Z"/>
<path fill="#348ABD" stroke="none" d="M843,128.6 844,128.6 847.7,154.5 845.7,154.5Z"/>
<path fill="#348ABD" stroke="none" d="M846,152.6 849.3,152.6 849.3,155.6 846,155.6Z"/>
<path stroke="#EAA493" stroke-width="0.7" fill="none" d="M839.9,132L841,146M844.5,131L845,138"/>
<path fill="#E24A33" stroke="#E24A33" stroke-width="1.2" stroke-linejoin="round" d="M841.1,151L843.7,151L842.9,161.4L842,161.4Z"/>
<path fill="#F0F0F0" stroke="none" d="M847,127.9 849.6,127.9 849.2,131.6 847.4,131.6Z"/>
<path fill="#E24A33" stroke="#E24A33" stroke-width="1.2" stroke-linejoin="round" d="M852.9,152L855.5,152L854.6,157.8L853.8,157.8Z"/>
<path fill="#348ABD" stroke="none" d="M850,128.6 851.9,128.6 851.7,131.5 850.2,131.5Z"/>
<path fill="#348ABD" stroke="none" d="M850.7,128.6 851.7,128.6 855.4,154.5 853.4,154.5Z"/>
<path fill="#348ABD" stroke="none" d="M853.7,152.6 857,152.6 857,155.6 853.7,155.6Z"/>
<path stroke="#EAA493" stroke-width="0.7" fill="none" d="M847.6,132L848.7,146M852.2,131L852.7,138"/>
<path fill="#E24A33" stroke="#E24A33" stroke-width="1.2" stroke-linejoin="round" d="M848.8,151L851.4,151L850.6,159L849.7,159Z"/>
<path fill="#F0F0F0" stroke="none" d="M854.7,127.9 857.3,127.9 856.9,131.6 855.1,131.6Z"/>
<path fill="#E24A33" stroke="#E24A33" stroke-width="1.2" stroke-linejoin="round" d="M860.6,152L863.2,152L862.3,157.8L861.5,157.8Z"/>
<path fill="#348ABD" stroke="none" d="M857.7,128.6 859.6,128.6 859.4,131.5 857.9,131.5Z"/>
<path fill="#348ABD" stroke="none" d="M858.4,128.6 859.4,128.6 863.1,154.5 861.1,154.5Z"/>
<path fill="#348ABD" stroke="none" d="M861.4,152.6 864.7,152.6 864.7,155.6 861.4,155.6Z"/>
<path stroke="#EAA493" stroke-width="0.7" fill="none" d="M855.3,132L856.4,146M859.9,131L860.4,138"/>
<path fill="#E24A33" stroke="#E24A33" stroke-width="1.2" stroke-linejoin="round" d="M856.5,151L859.1,151L858.3,163.6L857.4,163.6Z"/>
<path fill="#F0F0F0" stroke="none" d="M862.4,127.9 865,127.9 864.6,131.6 862.8,131.6Z"/>
<path fill="#E24A33" stroke="#E24A33" stroke-width="1.2" stroke-linejoin="round" d="M868.3,152L870.9,152L870,157.8L869.2,157.8Z"/>
<path fill="#348ABD" stroke="none" d="M865.4,128.6 867.3,128.6 867.1,131.5 865.6,131.5Z"/>
<path fill="#348ABD" stroke="none" d="M866.1,128.6 867.1,128.6 870.8,154.5 868.8,154.5Z"/>
<path fill="#348ABD" stroke="none" d="M869.1,152.6 872.4,152.6 872.4,155.6 869.1,155.6Z"/>
<path stroke="#EAA493" stroke-width="0.7" fill="none" d="M863,132L864.1,146M867.6,131L868.1,138"/>
<path fill="#E24A33" stroke="#E24A33" stroke-width="1.2" stroke-linejoin="round" d="M864.2,151L866.8,151L866,161.4L865.1,161.4Z"/>
<path fill="#F0F0F0" stroke="none" d="M870,127.9 872.6,127.9 872.2,131.6 870.4,131.6Z"/>
<path fill="#E24A33" stroke="#E24A33" stroke-width="1.2" stroke-linejoin="round" d="M875.9,152L878.5,152L877.6,157.8L876.8,157.8Z"/>
<path fill="#348ABD" stroke="none" d="M873,128.6 874.9,128.6 874.7,131.5 873.2,131.5Z"/>
<path fill="#348ABD" stroke="none" d="M873.7,128.6 874.7,128.6 878.4,154.5 876.4,154.5Z"/>
<path fill="#348ABD" stroke="none" d="M876.7,152.6 880,152.6 880,155.6 876.7,155.6Z"/>
<path stroke="#EAA493" stroke-width="0.7" fill="none" d="M870.6,132L871.7,146M875.2,131L875.7,138"/>
<path fill="#E24A33" stroke="#E24A33" stroke-width="1.2" stroke-linejoin="round" d="M871.8,151L874.4,151L873.6,159L872.7,159Z"/>
<path fill="#F0F0F0" stroke="none" d="M877.7,127.9 880.3,127.9 879.9,131.6 878.1,131.6Z"/>
<path fill="#E24A33" stroke="#E24A33" stroke-width="1.2" stroke-linejoin="round" d="M883.6,152L886.2,152L885.3,157.8L884.5,157.8Z"/>
<path fill="#348ABD" stroke="none" d="M880.7,128.6 882.6,128.6 882.4,131.5 880.9,131.5Z"/>
<path fill="#348ABD" stroke="none" d="M881.4,128.6 882.4,128.6 886.1,154.5 884.1,154.5Z"/>
<path fill="#348ABD" stroke="none" d="M884.4,152.6 887.7,152.6 887.7,155.6 884.4,155.6Z"/>
<path stroke="#EAA493" stroke-width="0.7" fill="none" d="M878.3,132L879.4,146M882.9,131L883.4,138"/>
<path fill="#E24A33" stroke="#E24A33" stroke-width="1.2" stroke-linejoin="round" d="M879.5,151L882.1,151L881.3,163.6L880.4,163.6Z"/>
<path fill="#F0F0F0" stroke="none" d="M885.4,127.9 888,127.9 887.6,131.6 885.8,131.6Z"/>
<path fill="#E24A33" stroke="#E24A33" stroke-width="1.2" stroke-linejoin="round" d="M891.3,152L893.9,152L893,157.8L892.2,157.8Z"/>
<path fill="#348ABD" stroke="none" d="M888.4,128.6 890.3,128.6 890.1,131.5 888.6,131.5Z"/>
<path fill="#348ABD" stroke="none" d="M889.1,128.6 890.1,128.6 893.8,154.5 891.8,154.5Z"/>
<path fill="#348ABD" stroke="none" d="M892.1,152.6 895.4,152.6 895.4,155.6 892.1,155.6Z"/>
<path stroke="#EAA493" stroke-width="0.7" fill="none" d="M886,132L887.1,146M890.6,131L891.1,138"/>
<path fill="#E24A33" stroke="#E24A33" stroke-width="1.2" stroke-linejoin="round" d="M887.2,151L889.8,151L889,161.4L888.1,161.4Z"/>
<path fill="#F0F0F0" stroke="none" d="M893.1,127.9 895.7,127.9 895.3,131.6 893.5,131.6Z"/>
<path fill="#E24A33" stroke="#E24A33" stroke-width="1.2" stroke-linejoin="round" d="M899,152L901.6,152L900.7,157.8L899.9,157.8Z"/>
<path fill="#348ABD" stroke="none" d="M896.1,128.6 898,128.6 897.8,131.5 896.3,131.5Z"/>
<path fill="#348ABD" stroke="none" d="M896.8,128.6 897.8,128.6 901.5,154.5 899.5,154.5Z"/>
<path fill="#348ABD" stroke="none" d="M899.8,152.6 903.1,152.6 903.1,155.6 899.8,155.6Z"/>
<path stroke="#EAA493" stroke-width="0.7" fill="none" d="M893.7,132L894.8,146M898.3,131L898.8,138"/>
<path fill="#E24A33" stroke="#E24A33" stroke-width="1.2" stroke-linejoin="round" d="M894.9,151L897.5,151L896.7,159L895.8,159Z"/>
<path fill="#F0F0F0" stroke="none" d="M900.8,127.9 903.4,127.9 903,131.6 901.2,131.6Z"/>
<path fill="#E24A33" stroke="#E24A33" stroke-width="1.2" stroke-linejoin="round" d="M906.7,152L909.3,152L908.4,157.8L907.6,157.8Z"/>
<path fill="#348ABD" stroke="none" d="M903.8,128.6 905.7,128.6 905.5,131.5 904,131.5Z"/>
<path fill="#348ABD" stroke="none" d="M904.5,128.6 905.5,128.6 909.2,154.5 907.2,154.5Z"/>
<path fill="#348ABD" stroke="none" d="M907.5,152.6 910.8,152.6 910.8,155.6 907.5,155.6Z"/>
<path stroke="#EAA493" stroke-width="0.7" fill="none" d="M901.4,132L902.5,146M906,131L906.5,138"/>
<path fill="#E24A33" stroke="#E24A33" stroke-width="1.2" stroke-linejoin="round" d="M902.6,151L905.2,151L904.4,163.6L903.5,163.6Z"/>
<path fill="#F0F0F0" stroke="none" d="M908.4,127.9 911,127.9 910.6,131.6 908.8,131.6Z"/>
<path fill="#E24A33" stroke="#E24A33" stroke-width="1.2" stroke-linejoin="round" d="M914.3,152L916.9,152L916,157.8L915.2,157.8Z"/>
<path fill="#348ABD" stroke="none" d="M911.4,128.6 913.3,128.6 913.1,131.5 911.6,131.5Z"/>
<path fill="#348ABD" stroke="none" d="M912.1,128.6 913.1,128.6 916.8,154.5 914.8,154.5Z"/>
<path fill="#348ABD" stroke="none" d="M915.1,152.6 918.4,152.6 918.4,155.6 915.1,155.6Z"/>
<path stroke="#EAA493" stroke-width="0.7" fill="none" d="M909,132L910.1,146M913.6,131L914.1,138"/>
<path fill="#E24A33" stroke="#E24A33" stroke-width="1.2" stroke-linejoin="round" d="M910.2,151L912.8,151L912,161.4L911.1,161.4Z"/>
<path fill="#F0F0F0" stroke="none" d="M916.1,127.9 918.7,127.9 918.3,131.6 916.5,131.6Z"/>
<path fill="#E24A33" stroke="#E24A33" stroke-width="1.2" stroke-linejoin="round" d="M922,152L924.6,152L923.7,157.8L922.9,157.8Z"/>
<path fill="#348ABD" stroke="none" d="M919.1,128.6 921,128.6 920.8,131.5 919.3,131.5Z"/>
<path fill="#348ABD" stroke="none" d="M919.8,128.6 920.8,128.6 924.5,154.5 922.5,154.5Z"/>
<path fill="#348ABD" stroke="none" d="M922.8,152.6 926.1,152.6 926.1,155.6 922.8,155.6Z"/>
<path stroke="#EAA493" stroke-width="0.7" fill="none" d="M916.7,132L917.8,146M921.3,131L921.8,138"/>
<path fill="#E24A33" stroke="#E24A33" stroke-width="1.2" stroke-linejoin="round" d="M917.9,151L920.5,151L919.7,159L918.8,159Z"/>
</g>
<path fill="#988ED5" stroke="none" d="M139,139 140.9,139 140.9,166 139,166Z"/>
<path fill="#FFB5B8" stroke="none" d="M140.8,152 142.6,152 142.6,154.6 140.8,154.6Z"/>
<path fill="#8EBA42" stroke="none" d="M140.8,154.6 142.6,154.6 142.6,158 140.8,158Z"/>
<path fill="#988ED5" stroke="none" d="M141,159 142.8,159 142.8,164 141,164Z"/>
<path fill="#FBC15E" stroke="none" d="M155,164 156.6,164 156.6,167 155,167Z"/>
<path fill="#8EBA42" stroke="none" d="M139.9,291.5 142,291.5 142.4,296 144.5,296 144.6,282.6 146.9,282.6 147,296 149,322.8 139.9,322.8Z"/>
<path fill="#FBC15E" stroke="none" d="M144.6,282.6 146.9,282.6 146.9,287.5 144.6,287.5Z"/>
<path fill="#E5E5E5" stroke="none" d="M141.9,297.5 143.9,297.5 143.1,317.5 142.7,317.5Z"/>
<path fill="#8EBA42" stroke="none" d="M149.3,322.8 151.2,296 154.8,290.2 154.8,322.8Z"/>
<path fill="#FBC15E" stroke="none" d="M143,321.5 144.4,321.5 144.4,323 143,323Z"/>
<path fill="#FBC15E" stroke="none" d="M151.6,321.5 153,321.5 153,323 151.6,323Z"/>
<path fill="#E24A33" stroke="none" d="M158.8,279 162.2,279 162.2,322.8 158.8,322.8Z"/>
<path fill="#FFB5B8" stroke="none" d="M161,293.8 167.2,293.8 166.2,322.8 164,322.8Z"/>
<path fill="#FFB5B8" stroke="none" d="M166.9,292.2 173.2,292.2 171.8,322.8 169.4,322.8Z"/>
<path fill="#FBC15E" stroke="none" d="M168.4,292.2 170,292.2 170,294 168.4,294Z"/>
<g clip-path="url(#k5)">
<rect x="175.30" y="291.5" width="49.20" height="31.3" fill="#E24A33"/>
<path fill="#E24A33" stroke="none" d="M162,292.5 162.3,287 163.9,287 164.2,292.5Z"/>
<path fill="#777777" stroke="none" d="M162.3,287 163.9,287 163.9,289.5 162.3,289.5Z"/>
<path fill="#E5E5E5" stroke="none" d="M164.7,290.5 167.1,290.5 166,314 165.8,314Z"/>
<path fill="#E5E5E5" stroke="none" d="M160.3,323.2 162.1,323.2 161.3,306 161.1,306Z"/>
<path fill="#E24A33" stroke="none" d="M169.7,292.5 170,287 171.6,287 171.9,292.5Z"/>
<path fill="#777777" stroke="none" d="M170,287 171.6,287 171.6,289.5 170,289.5Z"/>
<path fill="#E5E5E5" stroke="none" d="M172.4,290.5 174.8,290.5 173.7,314 173.5,314Z"/>
<path fill="#E5E5E5" stroke="none" d="M168,323.2 169.8,323.2 169,306 168.8,306Z"/>
<path fill="#E24A33" stroke="none" d="M177.4,292.5 177.7,287 179.3,287 179.6,292.5Z"/>
<path fill="#777777" stroke="none" d="M177.7,287 179.3,287 179.3,289.5 177.7,289.5Z"/>
<path fill="#E5E5E5" stroke="none" d="M180.1,290.5 182.5,290.5 181.4,314 181.2,314Z"/>
<path fill="#E5E5E5" stroke="none" d="M175.7,323.2 177.5,323.2 176.7,306 176.5,306Z"/>
<path fill="#E24A33" stroke="none" d="M185.1,292.5 185.4,287 187,287 187.3,292.5Z"/>
<path fill="#777777" stroke="none" d="M185.4,287 187,287 187,289.5 185.4,289.5Z"/>
<path fill="#E5E5E5" stroke="none" d="M187.8,290.5 190.2,290.5 189.1,314 188.8,314Z"/>
<path fill="#E5E5E5" stroke="none" d="M183.4,323.2 185.2,323.2 184.4,306 184.2,306Z"/>
<path fill="#E24A33" stroke="none" d="M192.7,292.5 193,287 194.6,287 194.9,292.5Z"/>
<path fill="#777777" stroke="none" d="M193,287 194.6,287 194.6,289.5 193,289.5Z"/>
<path fill="#E5E5E5" stroke="none" d="M195.4,290.5 197.8,290.5 196.8,314 196.5,314Z"/>
<path fill="#E5E5E5" stroke="none" d="M191,323.2 192.8,323.2 192,306 191.8,306Z"/>
<path fill="#E24A33" stroke="none" d="M200.4,292.5 200.7,287 202.3,287 202.6,292.5Z"/>
<path fill="#777777" stroke="none" d="M200.7,287 202.3,287 202.3,289.5 200.7,289.5Z"/>
<path fill="#E5E5E5" stroke="none" d="M203.1,290.5 205.5,290.5 204.4,314 204.2,314Z"/>
<path fill="#E5E5E5" stroke="none" d="M198.7,323.2 200.5,323.2 199.7,306 199.5,306Z"/>
<path fill="#E24A33" stroke="none" d="M208.1,292.5 208.4,287 210,287 210.3,292.5Z"/>
<path fill="#777777" stroke="none" d="M208.4,287 210,287 210,289.5 208.4,289.5Z"/>
<path fill="#E5E5E5" stroke="none" d="M210.8,290.5 213.2,290.5 212.1,314 211.9,314Z"/>
<path fill="#E5E5E5" stroke="none" d="M206.4,323.2 208.2,323.2 207.4,306 207.2,306Z"/>
<path fill="#E24A33" stroke="none" d="M215.8,292.5 216.1,287 217.7,287 218,292.5Z"/>
<path fill="#777777" stroke="none" d="M216.1,287 217.7,287 217.7,289.5 216.1,289.5Z"/>
<path fill="#E5E5E5" stroke="none" d="M218.5,290.5 220.9,290.5 219.8,314 219.5,314Z"/>
<path fill="#E5E5E5" stroke="none" d="M214.1,323.2 215.9,323.2 215.1,306 214.9,306Z"/>
<path fill="#E24A33" stroke="none" d="M223.4,292.5 223.7,287 225.3,287 225.6,292.5Z"/>
<path fill="#777777" stroke="none" d="M223.7,287 225.3,287 225.3,289.5 223.7,289.5Z"/>
<path fill="#E5E5E5" stroke="none" d="M226.1,290.5 228.5,290.5 227.5,314 227.2,314Z"/>
<path fill="#E5E5E5" stroke="none" d="M221.7,323.2 223.5,323.2 222.7,306 222.5,306Z"/>
<path fill="#E24A33" stroke="none" d="M231.1,292.5 231.4,287 233,287 233.3,292.5Z"/>
<path fill="#777777" stroke="none" d="M231.4,287 233,287 233,289.5 231.4,289.5Z"/>
<path fill="#E5E5E5" stroke="none" d="M233.8,290.5 236.2,290.5 235.1,314 234.9,314Z"/>
<path fill="#E5E5E5" stroke="none" d="M229.4,323.2 231.2,323.2 230.4,306 230.2,306Z"/>
</g>
<g clip-path="url(#k6)">
<rect x="224.50" y="292.0" width="2.00" height="30.8" fill="#E24A33"/>
<path fill="#E24A33" stroke="none" d="M208.1,293 208.4,289 210,289 210.3,293Z"/>
<path fill="#E5E5E5" stroke="none" d="M210.8,291 213,291 212,316 211.8,316Z"/>
<path fill="#E24A33" stroke="none" d="M215.8,293 216.1,289 217.7,289 218,293Z"/>
<path fill="#E5E5E5" stroke="none" d="M218.5,291 220.7,291 219.7,316 219.5,316Z"/>
<path fill="#E24A33" stroke="none" d="M223.4,293 223.7,289 225.3,289 225.6,293Z"/>
<path fill="#E5E5E5" stroke="none" d="M226.1,291 228.3,291 227.3,316 227.1,316Z"/>
<path fill="#E24A33" stroke="none" d="M231.1,293 231.4,289 233,289 233.3,293Z"/>
<path fill="#E5E5E5" stroke="none" d="M233.8,291 236,291 235,316 234.8,316Z"/>
<path fill="#E24A33" stroke="none" d="M238.8,293 239.1,289 240.7,289 241,293Z"/>
<path fill="#E5E5E5" stroke="none" d="M241.5,291 243.7,291 242.7,316 242.5,316Z"/>
</g>
<path fill="#348ABD" stroke="none" d="M224.6,297 226.2,297 228.6,322.8 227,322.8Z"/>
<g clip-path="url(#k7)">
<rect x="226.50" y="296.2" width="679.50" height="26.8" fill="#FFB5B8"/>
<path fill="#FFB5B8" stroke="none" d="M212.6,296.5 215.9,293.8 216,290.1 217.8,290.1 218,297Z"/>
<path fill="#E5E5E5" stroke="none" d="M218.6,290.4 219.9,290.4 219.8,304.5 219.1,304.5Z"/>
<path stroke="#E3A5A8" stroke-width="0.9" fill="none" d="M213.3,321 L214.5,300 L215.6,321M216.7,321 L217.9,304 L218.9,321"/>
<path fill="#EFEFEF" stroke="none" d="M220.9,321.8 222.5,321.8 222.5,323.2 220.9,323.2Z"/>
<path fill="#FFB5B8" stroke="none" d="M220.2,296.5 223.5,293.8 223.6,290.1 225.4,290.1 225.6,297Z"/>
<path fill="#707070" stroke="none" d="M223.6,289.5 225.4,289.5 225.4,291.3 223.6,291.3Z"/>
<path fill="#E5E5E5" stroke="none" d="M226.2,290.4 227.5,290.4 227.4,304.5 226.7,304.5Z"/>
<path stroke="#E3A5A8" stroke-width="0.9" fill="none" d="M220.9,321 L222.1,300 L223.2,321M224.3,321 L225.5,304 L226.5,321"/>
<path fill="#EFEFEF" stroke="none" d="M228.5,321.8 230.1,321.8 230.1,323.2 228.5,323.2Z"/>
<path fill="#FFB5B8" stroke="none" d="M227.9,296.5 231.2,293.8 231.3,291.4 233.1,291.4 233.3,297Z"/>
<path fill="#707070" stroke="none" d="M231.3,290.8 233.1,290.8 233.1,292.6 231.3,292.6Z"/>
<path fill="#E5E5E5" stroke="none" d="M233.9,291.7 235.2,291.7 235.1,304.5 234.4,304.5Z"/>
<path stroke="#E3A5A8" stroke-width="0.9" fill="none" d="M228.6,321 L229.8,300 L230.9,321M232,321 L233.2,304 L234.2,321"/>
<path fill="#EFEFEF" stroke="none" d="M236.2,321.8 237.8,321.8 237.8,323.2 236.2,323.2Z"/>
<path fill="#FFB5B8" stroke="none" d="M235.6,296.5 238.9,293.8 239,290.1 240.8,290.1 241,297Z"/>
<path fill="#707070" stroke="none" d="M239,289.5 240.8,289.5 240.8,291.3 239,291.3Z"/>
<path fill="#E5E5E5" stroke="none" d="M241.6,290.4 242.9,290.4 242.8,304.5 242.1,304.5Z"/>
<path stroke="#E3A5A8" stroke-width="0.9" fill="none" d="M236.3,321 L237.5,300 L238.6,321M239.7,321 L240.9,304 L241.9,321"/>
<path fill="#EFEFEF" stroke="none" d="M243.9,321.8 245.5,321.8 245.5,323.2 243.9,323.2Z"/>
<path fill="#FFB5B8" stroke="none" d="M243.3,296.5 246.6,293.8 246.7,290.1 248.5,290.1 248.7,297Z"/>
<path fill="#E5E5E5" stroke="none" d="M249.3,290.4 250.6,290.4 250.5,304.5 249.8,304.5Z"/>
<path stroke="#E3A5A8" stroke-width="0.9" fill="none" d="M244,321 L245.2,300 L246.3,321M247.4,321 L248.6,304 L249.6,321"/>
<path fill="#EFEFEF" stroke="none" d="M251.6,321.8 253.2,321.8 253.2,323.2 251.6,323.2Z"/>
<path fill="#FFB5B8" stroke="none" d="M250.9,296.5 254.2,293.8 254.3,291.4 256.1,291.4 256.3,297Z"/>
<path fill="#707070" stroke="none" d="M254.3,290.8 256.1,290.8 256.1,292.6 254.3,292.6Z"/>
<path fill="#E5E5E5" stroke="none" d="M256.9,291.7 258.2,291.7 258.1,304.5 257.4,304.5Z"/>
<path stroke="#E3A5A8" stroke-width="0.9" fill="none" d="M251.6,321 L252.8,300 L253.9,321M255,321 L256.2,304 L257.2,321"/>
<path fill="#EFEFEF" stroke="none" d="M259.2,321.8 260.8,321.8 260.8,323.2 259.2,323.2Z"/>
<path fill="#FFB5B8" stroke="none" d="M258.6,296.5 261.9,293.8 262,290.1 263.8,290.1 264,297Z"/>
<path fill="#707070" stroke="none" d="M262,289.5 263.8,289.5 263.8,291.3 262,291.3Z"/>
<path fill="#E5E5E5" stroke="none" d="M264.6,290.4 265.9,290.4 265.8,304.5 265.1,304.5Z"/>
<path stroke="#E3A5A8" stroke-width="0.9" fill="none" d="M259.3,321 L260.5,300 L261.6,321M262.7,321 L263.9,304 L264.9,321"/>
<path fill="#EFEFEF" stroke="none" d="M266.9,321.8 268.5,321.8 268.5,323.2 266.9,323.2Z"/>
<path fill="#FFB5B8" stroke="none" d="M266.3,296.5 269.6,293.8 269.7,290.1 271.5,290.1 271.7,297Z"/>
<path fill="#707070" stroke="none" d="M269.7,289.5 271.5,289.5 271.5,291.3 269.7,291.3Z"/>
<path fill="#E5E5E5" stroke="none" d="M272.3,290.4 273.6,290.4 273.5,304.5 272.8,304.5Z"/>
<path stroke="#E3A5A8" stroke-width="0.9" fill="none" d="M267,321 L268.2,300 L269.3,321M270.4,321 L271.6,304 L272.6,321"/>
<path fill="#EFEFEF" stroke="none" d="M274.6,321.8 276.2,321.8 276.2,323.2 274.6,323.2Z"/>
<path fill="#FFB5B8" stroke="none" d="M274,296.5 277.3,293.8 277.4,291.4 279.2,291.4 279.4,297Z"/>
<path fill="#E5E5E5" stroke="none" d="M280,291.7 281.3,291.7 281.2,304.5 280.5,304.5Z"/>
<path stroke="#E3A5A8" stroke-width="0.9" fill="none" d="M274.7,321 L275.9,300 L277,321M278.1,321 L279.3,304 L280.3,321"/>
<path fill="#EFEFEF" stroke="none" d="M282.3,321.8 283.9,321.8 283.9,323.2 282.3,323.2Z"/>
<path fill="#FFB5B8" stroke="none" d="M281.7,296.5 285,293.8 285.1,290.1 286.9,290.1 287.1,297Z"/>
<path fill="#707070" stroke="none" d="M285.1,289.5 286.9,289.5 286.9,291.3 285.1,291.3Z"/>
<path fill="#E5E5E5" stroke="none" d="M287.7,290.4 289,290.4 288.9,304.5 288.2,304.5Z"/>
<path stroke="#E3A5A8" stroke-width="0.9" fill="none" d="M282.4,321 L283.6,300 L284.7,321M285.8,321 L287,304 L288,321"/>
<path fill="#EFEFEF" stroke="none" d="M290,321.8 291.6,321.8 291.6,323.2 290,323.2Z"/>
<path fill="#FFB5B8" stroke="none" d="M289.3,296.5 292.6,293.8 292.7,290.1 294.5,290.1 294.7,297Z"/>
<path fill="#707070" stroke="none" d="M292.7,289.5 294.5,289.5 294.5,291.3 292.7,291.3Z"/>
<path fill="#E5E5E5" stroke="none" d="M295.3,290.4 296.6,290.4 296.5,304.5 295.8,304.5Z"/>
<path stroke="#E3A5A8" stroke-width="0.9" fill="none" d="M290,321 L291.2,300 L292.3,321M293.4,321 L294.6,304 L295.6,321"/>
<path fill="#EFEFEF" stroke="none" d="M297.6,321.8 299.2,321.8 299.2,323.2 297.6,323.2Z"/>
<path fill="#FFB5B8" stroke="none" d="M297,296.5 300.3,293.8 300.4,291.4 302.2,291.4 302.4,297Z"/>
<path fill="#707070" stroke="none" d="M300.4,290.8 302.2,290.8 302.2,292.6 300.4,292.6Z"/>
<path fill="#E5E5E5" stroke="none" d="M303,291.7 304.3,291.7 304.2,304.5 303.5,304.5Z"/>
<path stroke="#E3A5A8" stroke-width="0.9" fill="none" d="M297.7,321 L298.9,300 L300,321M301.1,321 L302.3,304 L303.3,321"/>
<path fill="#EFEFEF" stroke="none" d="M305.3,321.8 306.9,321.8 306.9,323.2 305.3,323.2Z"/>
<path fill="#FFB5B8" stroke="none" d="M304.7,296.5 308,293.8 308.1,290.1 309.9,290.1 310.1,297Z"/>
<path fill="#E5E5E5" stroke="none" d="M310.7,290.4 312,290.4 311.9,304.5 311.2,304.5Z"/>
<path stroke="#E3A5A8" stroke-width="0.9" fill="none" d="M305.4,321 L306.6,300 L307.7,321M308.8,321 L310,304 L311,321"/>
<path fill="#EFEFEF" stroke="none" d="M313,321.8 314.6,321.8 314.6,323.2 313,323.2Z"/>
<path fill="#FFB5B8" stroke="none" d="M312.4,296.5 315.7,293.8 315.8,290.1 317.6,290.1 317.8,297Z"/>
<path fill="#E5E5E5" stroke="none" d="M318.4,290.4 319.7,290.4 319.6,304.5 318.9,304.5Z"/>
<path stroke="#E3A5A8" stroke-width="0.9" fill="none" d="M313.1,321 L314.3,300 L315.4,321M316.5,321 L317.7,304 L318.7,321"/>
<path fill="#EFEFEF" stroke="none" d="M320.7,321.8 322.3,321.8 322.3,323.2 320.7,323.2Z"/>
<path fill="#FFB5B8" stroke="none" d="M320,296.5 323.3,293.8 323.4,291.4 325.2,291.4 325.4,297Z"/>
<path fill="#E5E5E5" stroke="none" d="M326,291.7 327.3,291.7 327.2,304.5 326.5,304.5Z"/>
<path stroke="#E3A5A8" stroke-width="0.9" fill="none" d="M320.7,321 L321.9,300 L323,321M324.1,321 L325.3,304 L326.3,321"/>
<path fill="#EFEFEF" stroke="none" d="M328.3,321.8 329.9,321.8 329.9,323.2 328.3,323.2Z"/>
<path fill="#FFB5B8" stroke="none" d="M327.7,296.5 331,293.8 331.1,290.1 332.9,290.1 333.1,297Z"/>
<path fill="#E5E5E5" stroke="none" d="M333.7,290.4 335,290.4 334.9,304.5 334.2,304.5Z"/>
<path stroke="#E3A5A8" stroke-width="0.9" fill="none" d="M328.4,321 L329.6,300 L330.7,321M331.8,321 L333,304 L334,321"/>
<path fill="#EFEFEF" stroke="none" d="M336,321.8 337.6,321.8 337.6,323.2 336,323.2Z"/>
<path fill="#FFB5B8" stroke="none" d="M335.4,296.5 338.7,293.8 338.8,290.1 340.6,290.1 340.8,297Z"/>
<path fill="#E5E5E5" stroke="none" d="M341.4,290.4 342.7,290.4 342.6,304.5 341.9,304.5Z"/>
<path stroke="#E3A5A8" stroke-width="0.9" fill="none" d="M336.1,321 L337.3,300 L338.4,321M339.5,321 L340.7,304 L341.7,321"/>
<path fill="#EFEFEF" stroke="none" d="M343.7,321.8 345.3,321.8 345.3,323.2 343.7,323.2Z"/>
<path fill="#FFB5B8" stroke="none" d="M343.1,296.5 346.4,293.8 346.5,291.4 348.3,291.4 348.5,297Z"/>
<path fill="#E5E5E5" stroke="none" d="M349.1,291.7 350.4,291.7 350.3,304.5 349.6,304.5Z"/>
<path stroke="#E3A5A8" stroke-width="0.9" fill="none" d="M343.8,321 L345,300 L346.1,321M347.2,321 L348.4,304 L349.4,321"/>
<path fill="#EFEFEF" stroke="none" d="M351.4,321.8 353,321.8 353,323.2 351.4,323.2Z"/>
<path fill="#FFB5B8" stroke="none" d="M350.7,296.5 354,293.8 354.1,290.1 355.9,290.1 356.1,297Z"/>
<path fill="#E5E5E5" stroke="none" d="M356.7,290.4 358,290.4 357.9,304.5 357.2,304.5Z"/>
<path stroke="#E3A5A8" stroke-width="0.9" fill="none" d="M351.4,321 L352.6,300 L353.7,321M354.8,321 L356,304 L357,321"/>
<path fill="#EFEFEF" stroke="none" d="M359,321.8 360.6,321.8 360.6,323.2 359,323.2Z"/>
<path fill="#FFB5B8" stroke="none" d="M358.4,296.5 361.7,293.8 361.8,290.1 363.6,290.1 363.8,297Z"/>
<path fill="#E5E5E5" stroke="none" d="M364.4,290.4 365.7,290.4 365.6,304.5 364.9,304.5Z"/>
<path stroke="#E3A5A8" stroke-width="0.9" fill="none" d="M359.1,321 L360.3,300 L361.4,321M362.5,321 L363.7,304 L364.7,321"/>
<path fill="#EFEFEF" stroke="none" d="M366.7,321.8 368.3,321.8 368.3,323.2 366.7,323.2Z"/>
<path fill="#FFB5B8" stroke="none" d="M366.1,296.5 369.4,293.8 369.5,291.4 371.3,291.4 371.5,297Z"/>
<path fill="#E5E5E5" stroke="none" d="M372.1,291.7 373.4,291.7 373.3,304.5 372.6,304.5Z"/>
<path stroke="#E3A5A8" stroke-width="0.9" fill="none" d="M366.8,321 L368,300 L369.1,321M370.2,321 L371.4,304 L372.4,321"/>
<path fill="#EFEFEF" stroke="none" d="M374.4,321.8 376,321.8 376,323.2 374.4,323.2Z"/>
<path fill="#FFB5B8" stroke="none" d="M373.8,296.5 377.1,293.8 377.2,290.1 379,290.1 379.2,297Z"/>
<path fill="#E5E5E5" stroke="none" d="M379.8,290.4 381.1,290.4 381,304.5 380.3,304.5Z"/>
<path stroke="#E3A5A8" stroke-width="0.9" fill="none" d="M374.5,321 L375.7,300 L376.8,321M377.9,321 L379.1,304 L380.1,321"/>
<path fill="#EFEFEF" stroke="none" d="M382.1,321.8 383.7,321.8 383.7,323.2 382.1,323.2Z"/>
<path fill="#FFB5B8" stroke="none" d="M381.5,296.5 384.8,293.8 384.9,290.1 386.7,290.1 386.9,297Z"/>
<path fill="#E5E5E5" stroke="none" d="M387.5,290.4 388.8,290.4 388.7,304.5 388,304.5Z"/>
<path stroke="#E3A5A8" stroke-width="0.9" fill="none" d="M382.2,321 L383.4,300 L384.5,321M385.6,321 L386.8,304 L387.8,321"/>
<path fill="#EFEFEF" stroke="none" d="M389.8,321.8 391.4,321.8 391.4,323.2 389.8,323.2Z"/>
<path fill="#FFB5B8" stroke="none" d="M389.1,296.5 392.4,293.8 392.5,291.4 394.3,291.4 394.5,297Z"/>
<path fill="#E5E5E5" stroke="none" d="M395.1,291.7 396.4,291.7 396.3,304.5 395.6,304.5Z"/>
<path stroke="#E3A5A8" stroke-width="0.9" fill="none" d="M389.8,321 L391,300 L392.1,321M393.2,321 L394.4,304 L395.4,321"/>
<path fill="#EFEFEF" stroke="none" d="M397.4,321.8 399,321.8 399,323.2 397.4,323.2Z"/>
<path fill="#FFB5B8" stroke="none" d="M396.8,296.5 400.1,293.8 400.2,290.1 402,290.1 402.2,297Z"/>
<path fill="#E5E5E5" stroke="none" d="M402.8,290.4 404.1,290.4 404,304.5 403.3,304.5Z"/>
<path stroke="#E3A5A8" stroke-width="0.9" fill="none" d="M397.5,321 L398.7,300 L399.8,321M400.9,321 L402.1,304 L403.1,321"/>
<path fill="#EFEFEF" stroke="none" d="M405.1,321.8 406.7,321.8 406.7,323.2 405.1,323.2Z"/>
<path fill="#FFB5B8" stroke="none" d="M404.5,296.5 407.8,293.8 407.9,290.1 409.7,290.1 409.9,297Z"/>
<path fill="#E5E5E5" stroke="none" d="M410.5,290.4 411.8,290.4 411.7,304.5 411,304.5Z"/>
<path stroke="#E3A5A8" stroke-width="0.9" fill="none" d="M405.2,321 L406.4,300 L407.5,321M408.6,321 L409.8,304 L410.8,321"/>
<path fill="#EFEFEF" stroke="none" d="M412.8,321.8 414.4,321.8 414.4,323.2 412.8,323.2Z"/>
<path fill="#FFB5B8" stroke="none" d="M412.2,296.5 415.5,293.8 415.6,291.4 417.4,291.4 417.6,297Z"/>
<path fill="#E5E5E5" stroke="none" d="M418.2,291.7 419.5,291.7 419.4,304.5 418.7,304.5Z"/>
<path stroke="#E3A5A8" stroke-width="0.9" fill="none" d="M412.9,321 L414.1,300 L415.2,321M416.3,321 L417.5,304 L418.5,321"/>
<path fill="#EFEFEF" stroke="none" d="M420.5,321.8 422.1,321.8 422.1,323.2 420.5,323.2Z"/>
<path fill="#FFB5B8" stroke="none" d="M419.8,296.5 423.1,293.8 423.2,290.1 425,290.1 425.2,297Z"/>
<path fill="#E5E5E5" stroke="none" d="M425.8,290.4 427.1,290.4 427,304.5 426.3,304.5Z"/>
<path stroke="#E3A5A8" stroke-width="0.9" fill="none" d="M420.5,321 L421.7,300 L422.8,321M423.9,321 L425.1,304 L426.1,321"/>
<path fill="#EFEFEF" stroke="none" d="M428.1,321.8 429.7,321.8 429.7,323.2 428.1,323.2Z"/>
<path fill="#FFB5B8" stroke="none" d="M427.5,296.5 430.8,293.8 430.9,290.1 432.7,290.1 432.9,297Z"/>
<path fill="#E5E5E5" stroke="none" d="M433.5,290.4 434.8,290.4 434.7,304.5 434,304.5Z"/>
<path stroke="#E3A5A8" stroke-width="0.9" fill="none" d="M428.2,321 L429.4,300 L430.5,321M431.6,321 L432.8,304 L433.8,321"/>
<path fill="#EFEFEF" stroke="none" d="M435.8,321.8 437.4,321.8 437.4,323.2 435.8,323.2Z"/>
<path fill="#FFB5B8" stroke="none" d="M435.2,296.5 438.5,293.8 438.6,291.4 440.4,291.4 440.6,297Z"/>
<path fill="#E5E5E5" stroke="none" d="M441.2,291.7 442.5,291.7 442.4,304.5 441.7,304.5Z"/>
<path stroke="#E3A5A8" stroke-width="0.9" fill="none" d="M435.9,321 L437.1,300 L438.2,321M439.3,321 L440.5,304 L441.5,321"/>
<path fill="#EFEFEF" stroke="none" d="M443.5,321.8 445.1,321.8 445.1,323.2 443.5,323.2Z"/>
<path fill="#FFB5B8" stroke="none" d="M442.9,296.5 446.2,293.8 446.3,290.1 448.1,290.1 448.3,297Z"/>
<path fill="#E5E5E5" stroke="none" d="M448.9,290.4 450.2,290.4 450.1,304.5 449.4,304.5Z"/>
<path stroke="#E3A5A8" stroke-width="0.9" fill="none" d="M443.6,321 L444.8,300 L445.9,321M447,321 L448.2,304 L449.2,321"/>
<path fill="#EFEFEF" stroke="none" d="M451.2,321.8 452.8,321.8 452.8,323.2 451.2,323.2Z"/>
<path fill="#FFB5B8" stroke="none" d="M450.5,296.5 453.8,293.8 453.9,290.1 455.7,290.1 455.9,297Z"/>
<path fill="#E5E5E5" stroke="none" d="M456.5,290.4 457.8,290.4 457.7,304.5 457,304.5Z"/>
<path stroke="#E3A5A8" stroke-width="0.9" fill="none" d="M451.2,321 L452.4,300 L453.5,321M454.6,321 L455.8,304 L456.8,321"/>
<path fill="#EFEFEF" stroke="none" d="M458.8,321.8 460.4,321.8 460.4,323.2 458.8,323.2Z"/>
<path fill="#FFB5B8" stroke="none" d="M458.2,296.5 461.5,293.8 461.6,291.4 463.4,291.4 463.6,297Z"/>
<path fill="#E5E5E5" stroke="none" d="M464.2,291.7 465.5,291.7 465.4,304.5 464.7,304.5Z"/>
<path stroke="#E3A5A8" stroke-width="0.9" fill="none" d="M458.9,321 L460.1,300 L461.2,321M462.3,321 L463.5,304 L464.5,321"/>
<path fill="#EFEFEF" stroke="none" d="M466.5,321.8 468.1,321.8 468.1,323.2 466.5,323.2Z"/>
<path fill="#FFB5B8" stroke="none" d="M465.9,296.5 469.2,293.8 469.3,290.1 471.1,290.1 471.3,297Z"/>
<path fill="#E5E5E5" stroke="none" d="M471.9,290.4 473.2,290.4 473.1,304.5 472.4,304.5Z"/>
<path stroke="#E3A5A8" stroke-width="0.9" fill="none" d="M466.6,321 L467.8,300 L468.9,321M470,321 L471.2,304 L472.2,321"/>
<path fill="#EFEFEF" stroke="none" d="M474.2,321.8 475.8,321.8 475.8,323.2 474.2,323.2Z"/>
<path fill="#FFB5B8" stroke="none" d="M473.6,296.5 476.9,293.8 477,290.1 478.8,290.1 479,297Z"/>
<path fill="#E5E5E5" stroke="none" d="M479.6,290.4 480.9,290.4 480.8,304.5 480.1,304.5Z"/>
<path stroke="#E3A5A8" stroke-width="0.9" fill="none" d="M474.3,321 L475.5,300 L476.6,321M477.7,321 L478.9,304 L479.9,321"/>
<path fill="#EFEFEF" stroke="none" d="M481.9,321.8 483.5,321.8 483.5,323.2 481.9,323.2Z"/>
<path fill="#FFB5B8" stroke="none" d="M481.3,296.5 484.6,293.8 484.7,291.4 486.5,291.4 486.7,297Z"/>
<path fill="#E5E5E5" stroke="none" d="M487.3,291.7 488.6,291.7 488.5,304.5 487.8,304.5Z"/>
<path stroke="#E3A5A8" stroke-width="0.9" fill="none" d="M482,321 L483.2,300 L484.3,321M485.4,321 L486.6,304 L487.6,321"/>
<path fill="#EFEFEF" stroke="none" d="M489.6,321.8 491.2,321.8 491.2,323.2 489.6,323.2Z"/>
<path fill="#FFB5B8" stroke="none" d="M488.9,296.5 492.2,293.8 492.3,290.1 494.1,290.1 494.3,297Z"/>
<path fill="#E5E5E5" stroke="none" d="M494.9,290.4 496.2,290.4 496.1,304.5 495.4,304.5Z"/>
<path stroke="#E3A5A8" stroke-width="0.9" fill="none" d="M489.6,321 L490.8,300 L491.9,321M493,321 L494.2,304 L495.2,321"/>
<path fill="#EFEFEF" stroke="none" d="M497.2,321.8 498.8,321.8 498.8,323.2 497.2,323.2Z"/>
<path fill="#FFB5B8" stroke="none" d="M496.6,296.5 499.9,293.8 500,290.1 501.8,290.1 502,297Z"/>
<path fill="#E5E5E5" stroke="none" d="M502.6,290.4 503.9,290.4 503.8,304.5 503.1,304.5Z"/>
<path stroke="#E3A5A8" stroke-width="0.9" fill="none" d="M497.3,321 L498.5,300 L499.6,321M500.7,321 L501.9,304 L502.9,321"/>
<path fill="#EFEFEF" stroke="none" d="M504.9,321.8 506.5,321.8 506.5,323.2 504.9,323.2Z"/>
<path fill="#FFB5B8" stroke="none" d="M504.3,296.5 507.6,293.8 507.7,291.4 509.5,291.4 509.7,297Z"/>
<path fill="#E5E5E5" stroke="none" d="M510.3,291.7 511.6,291.7 511.5,304.5 510.8,304.5Z"/>
<path stroke="#E3A5A8" stroke-width="0.9" fill="none" d="M505,321 L506.2,300 L507.3,321M508.4,321 L509.6,304 L510.6,321"/>
<path fill="#EFEFEF" stroke="none" d="M512.6,321.8 514.2,321.8 514.2,323.2 512.6,323.2Z"/>
<path fill="#FFB5B8" stroke="none" d="M512,296.5 515.3,293.8 515.4,290.1 517.2,290.1 517.4,297Z"/>
<path fill="#E5E5E5" stroke="none" d="M518,290.4 519.3,290.4 519.2,304.5 518.5,304.5Z"/>
<path stroke="#E3A5A8" stroke-width="0.9" fill="none" d="M512.7,321 L513.9,300 L515,321M516.1,321 L517.3,304 L518.3,321"/>
<path fill="#EFEFEF" stroke="none" d="M520.3,321.8 521.9,321.8 521.9,323.2 520.3,323.2Z"/>
<path fill="#FFB5B8" stroke="none" d="M519.6,296.5 522.9,293.8 523,290.1 524.8,290.1 525,297Z"/>
<path fill="#E5E5E5" stroke="none" d="M525.6,290.4 526.9,290.4 526.8,304.5 526.1,304.5Z"/>
<path stroke="#E3A5A8" stroke-width="0.9" fill="none" d="M520.3,321 L521.5,300 L522.6,321M523.7,321 L524.9,304 L525.9,321"/>
<path fill="#EFEFEF" stroke="none" d="M527.9,321.8 529.5,321.8 529.5,323.2 527.9,323.2Z"/>
<path fill="#FFB5B8" stroke="none" d="M527.3,296.5 530.6,293.8 530.7,291.4 532.5,291.4 532.7,297Z"/>
<path fill="#E5E5E5" stroke="none" d="M533.3,291.7 534.6,291.7 534.5,304.5 533.8,304.5Z"/>
<path stroke="#E3A5A8" stroke-width="0.9" fill="none" d="M528,321 L529.2,300 L530.3,321M531.4,321 L532.6,304 L533.6,321"/>
<path fill="#EFEFEF" stroke="none" d="M535.6,321.8 537.2,321.8 537.2,323.2 535.6,323.2Z"/>
<path fill="#FFB5B8" stroke="none" d="M535,296.5 538.3,293.8 538.4,290.1 540.2,290.1 540.4,297Z"/>
<path fill="#E5E5E5" stroke="none" d="M541,290.4 542.3,290.4 542.2,304.5 541.5,304.5Z"/>
<path stroke="#E3A5A8" stroke-width="0.9" fill="none" d="M535.7,321 L536.9,300 L538,321M539.1,321 L540.3,304 L541.3,321"/>
<path fill="#EFEFEF" stroke="none" d="M543.3,321.8 544.9,321.8 544.9,323.2 543.3,323.2Z"/>
<path fill="#FFB5B8" stroke="none" d="M542.7,296.5 546,293.8 546.1,290.1 547.9,290.1 548.1,297Z"/>
<path fill="#E5E5E5" stroke="none" d="M548.7,290.4 550,290.4 549.9,304.5 549.2,304.5Z"/>
<path stroke="#E3A5A8" stroke-width="0.9" fill="none" d="M543.4,321 L544.6,300 L545.7,321M546.8,321 L548,304 L549,321"/>
<path fill="#EFEFEF" stroke="none" d="M551,321.8 552.6,321.8 552.6,323.2 551,323.2Z"/>
<path fill="#FFB5B8" stroke="none" d="M550.3,296.5 553.6,293.8 553.7,291.4 555.5,291.4 555.7,297Z"/>
<path fill="#E5E5E5" stroke="none" d="M556.3,291.7 557.6,291.7 557.5,304.5 556.8,304.5Z"/>
<path stroke="#E3A5A8" stroke-width="0.9" fill="none" d="M551,321 L552.2,300 L553.3,321M554.4,321 L555.6,304 L556.6,321"/>
<path fill="#EFEFEF" stroke="none" d="M558.6,321.8 560.2,321.8 560.2,323.2 558.6,323.2Z"/>
<path fill="#FFB5B8" stroke="none" d="M558,296.5 561.3,293.8 561.4,290.1 563.2,290.1 563.4,297Z"/>
<path fill="#E5E5E5" stroke="none" d="M564,290.4 565.3,290.4 565.2,304.5 564.5,304.5Z"/>
<path stroke="#E3A5A8" stroke-width="0.9" fill="none" d="M558.7,321 L559.9,300 L561,321M562.1,321 L563.3,304 L564.3,321"/>
<path fill="#EFEFEF" stroke="none" d="M566.3,321.8 567.9,321.8 567.9,323.2 566.3,323.2Z"/>
<path fill="#FFB5B8" stroke="none" d="M565.7,296.5 569,293.8 569.1,290.1 570.9,290.1 571.1,297Z"/>
<path fill="#E5E5E5" stroke="none" d="M571.7,290.4 573,290.4 572.9,304.5 572.2,304.5Z"/>
<path stroke="#E3A5A8" stroke-width="0.9" fill="none" d="M566.4,321 L567.6,300 L568.7,321M569.8,321 L571,304 L572,321"/>
<path fill="#EFEFEF" stroke="none" d="M574,321.8 575.6,321.8 575.6,323.2 574,323.2Z"/>
<path fill="#FFB5B8" stroke="none" d="M573.4,296.5 576.7,293.8 576.8,291.4 578.6,291.4 578.8,297Z"/>
<path fill="#E5E5E5" stroke="none" d="M579.4,291.7 580.7,291.7 580.6,304.5 579.9,304.5Z"/>
<path stroke="#E3A5A8" stroke-width="0.9" fill="none" d="M574.1,321 L575.3,300 L576.4,321M577.5,321 L578.7,304 L579.7,321"/>
<path fill="#EFEFEF" stroke="none" d="M581.7,321.8 583.3,321.8 583.3,323.2 581.7,323.2Z"/>
<path fill="#FFB5B8" stroke="none" d="M581.1,296.5 584.4,293.8 584.5,290.1 586.3,290.1 586.5,297Z"/>
<path fill="#E5E5E5" stroke="none" d="M587.1,290.4 588.4,290.4 588.3,304.5 587.6,304.5Z"/>
<path stroke="#E3A5A8" stroke-width="0.9" fill="none" d="M581.8,321 L583,300 L584.1,321M585.2,321 L586.4,304 L587.4,321"/>
<path fill="#EFEFEF" stroke="none" d="M589.4,321.8 591,321.8 591,323.2 589.4,323.2Z"/>
<path fill="#FFB5B8" stroke="none" d="M588.7,296.5 592,293.8 592.1,290.1 593.9,290.1 594.1,297Z"/>
<path fill="#E5E5E5" stroke="none" d="M594.7,290.4 596,290.4 595.9,304.5 595.2,304.5Z"/>
<path stroke="#E3A5A8" stroke-width="0.9" fill="none" d="M589.4,321 L590.6,300 L591.7,321M592.8,321 L594,304 L595,321"/>
<path fill="#EFEFEF" stroke="none" d="M597,321.8 598.6,321.8 598.6,323.2 597,323.2Z"/>
<path fill="#FFB5B8" stroke="none" d="M596.4,296.5 599.7,293.8 599.8,291.4 601.6,291.4 601.8,297Z"/>
<path fill="#E5E5E5" stroke="none" d="M602.4,291.7 603.7,291.7 603.6,304.5 602.9,304.5Z"/>
<path stroke="#E3A5A8" stroke-width="0.9" fill="none" d="M597.1,321 L598.3,300 L599.4,321M600.5,321 L601.7,304 L602.7,321"/>
<path fill="#EFEFEF" stroke="none" d="M604.7,321.8 606.3,321.8 606.3,323.2 604.7,323.2Z"/>
<path fill="#FFB5B8" stroke="none" d="M604.1,296.5 607.4,293.8 607.5,290.1 609.3,290.1 609.5,297Z"/>
<path fill="#E5E5E5" stroke="none" d="M610.1,290.4 611.4,290.4 611.3,304.5 610.6,304.5Z"/>
<path stroke="#E3A5A8" stroke-width="0.9" fill="none" d="M604.8,321 L606,300 L607.1,321M608.2,321 L609.4,304 L610.4,321"/>
<path fill="#EFEFEF" stroke="none" d="M612.4,321.8 614,321.8 614,323.2 612.4,323.2Z"/>
<path fill="#FFB5B8" stroke="none" d="M611.8,296.5 615.1,293.8 615.2,290.1 617,290.1 617.2,297Z"/>
<path fill="#E5E5E5" stroke="none" d="M617.8,290.4 619.1,290.4 619,304.5 618.3,304.5Z"/>
<path stroke="#E3A5A8" stroke-width="0.9" fill="none" d="M612.5,321 L613.7,300 L614.8,321M615.9,321 L617.1,304 L618.1,321"/>
<path fill="#EFEFEF" stroke="none" d="M620.1,321.8 621.7,321.8 621.7,323.2 620.1,323.2Z"/>
<path fill="#FFB5B8" stroke="none" d="M619.4,296.5 622.7,293.8 622.8,291.4 624.6,291.4 624.8,297Z"/>
<path fill="#E5E5E5" stroke="none" d="M625.4,291.7 626.7,291.7 626.6,304.5 625.9,304.5Z"/>
<path stroke="#E3A5A8" stroke-width="0.9" fill="none" d="M620.1,321 L621.3,300 L622.4,321M623.5,321 L624.7,304 L625.7,321"/>
<path fill="#EFEFEF" stroke="none" d="M627.7,321.8 629.3,321.8 629.3,323.2 627.7,323.2Z"/>
<path fill="#FFB5B8" stroke="none" d="M627.1,296.5 630.4,293.8 630.5,290.1 632.3,290.1 632.5,297Z"/>
<path fill="#E5E5E5" stroke="none" d="M633.1,290.4 634.4,290.4 634.3,304.5 633.6,304.5Z"/>
<path stroke="#E3A5A8" stroke-width="0.9" fill="none" d="M627.8,321 L629,300 L630.1,321M631.2,321 L632.4,304 L633.4,321"/>
<path fill="#EFEFEF" stroke="none" d="M635.4,321.8 637,321.8 637,323.2 635.4,323.2Z"/>
<path fill="#FFB5B8" stroke="none" d="M634.8,296.5 638.1,293.8 638.2,290.1 640,290.1 640.2,297Z"/>
<path fill="#E5E5E5" stroke="none" d="M640.8,290.4 642.1,290.4 642,304.5 641.3,304.5Z"/>
<path stroke="#E3A5A8" stroke-width="0.9" fill="none" d="M635.5,321 L636.7,300 L637.8,321M638.9,321 L640.1,304 L641.1,321"/>
<path fill="#EFEFEF" stroke="none" d="M643.1,321.8 644.7,321.8 644.7,323.2 643.1,323.2Z"/>
<path fill="#FFB5B8" stroke="none" d="M642.5,296.5 645.8,293.8 645.9,291.4 647.7,291.4 647.9,297Z"/>
<path fill="#E5E5E5" stroke="none" d="M648.5,291.7 649.8,291.7 649.7,304.5 649,304.5Z"/>
<path stroke="#E3A5A8" stroke-width="0.9" fill="none" d="M643.2,321 L644.4,300 L645.5,321M646.6,321 L647.8,304 L648.8,321"/>
<path fill="#EFEFEF" stroke="none" d="M650.8,321.8 652.4,321.8 652.4,323.2 650.8,323.2Z"/>
<path fill="#FFB5B8" stroke="none" d="M650.2,296.5 653.5,293.8 653.6,290.1 655.4,290.1 655.6,297Z"/>
<path fill="#E5E5E5" stroke="none" d="M656.2,290.4 657.5,290.4 657.4,304.5 656.7,304.5Z"/>
<path stroke="#E3A5A8" stroke-width="0.9" fill="none" d="M650.9,321 L652.1,300 L653.2,321M654.3,321 L655.5,304 L656.5,321"/>
<path fill="#EFEFEF" stroke="none" d="M658.5,321.8 660.1,321.8 660.1,323.2 658.5,323.2Z"/>
<path fill="#FFB5B8" stroke="none" d="M657.8,296.5 661.1,293.8 661.2,290.1 663,290.1 663.2,297Z"/>
<path fill="#E5E5E5" stroke="none" d="M663.8,290.4 665.1,290.4 665,304.5 664.3,304.5Z"/>
<path stroke="#E3A5A8" stroke-width="0.9" fill="none" d="M658.5,321 L659.7,300 L660.8,321M661.9,321 L663.1,304 L664.1,321"/>
<path fill="#EFEFEF" stroke="none" d="M666.1,321.8 667.7,321.8 667.7,323.2 666.1,323.2Z"/>
<path fill="#FFB5B8" stroke="none" d="M665.5,296.5 668.8,293.8 668.9,291.4 670.7,291.4 670.9,297Z"/>
<path fill="#E5E5E5" stroke="none" d="M671.5,291.7 672.8,291.7 672.7,304.5 672,304.5Z"/>
<path stroke="#E3A5A8" stroke-width="0.9" fill="none" d="M666.2,321 L667.4,300 L668.5,321M669.6,321 L670.8,304 L671.8,321"/>
<path fill="#EFEFEF" stroke="none" d="M673.8,321.8 675.4,321.8 675.4,323.2 673.8,323.2Z"/>
<path fill="#FFB5B8" stroke="none" d="M673.2,296.5 676.5,293.8 676.6,290.1 678.4,290.1 678.6,297Z"/>
<path fill="#E5E5E5" stroke="none" d="M679.2,290.4 680.5,290.4 680.4,304.5 679.7,304.5Z"/>
<path stroke="#E3A5A8" stroke-width="0.9" fill="none" d="M673.9,321 L675.1,300 L676.2,321M677.3,321 L678.5,304 L679.5,321"/>
<path fill="#EFEFEF" stroke="none" d="M681.5,321.8 683.1,321.8 683.1,323.2 681.5,323.2Z"/>
<path fill="#FFB5B8" stroke="none" d="M680.9,296.5 684.2,293.8 684.3,290.1 686.1,290.1 686.3,297Z"/>
<path fill="#E5E5E5" stroke="none" d="M686.9,290.4 688.2,290.4 688.1,304.5 687.4,304.5Z"/>
<path stroke="#E3A5A8" stroke-width="0.9" fill="none" d="M681.6,321 L682.8,300 L683.9,321M685,321 L686.2,304 L687.2,321"/>
<path fill="#EFEFEF" stroke="none" d="M689.2,321.8 690.8,321.8 690.8,323.2 689.2,323.2Z"/>
<path fill="#FFB5B8" stroke="none" d="M688.5,296.5 691.8,293.8 691.9,291.4 693.7,291.4 693.9,297Z"/>
<path fill="#E5E5E5" stroke="none" d="M694.5,291.7 695.8,291.7 695.7,304.5 695,304.5Z"/>
<path stroke="#E3A5A8" stroke-width="0.9" fill="none" d="M689.2,321 L690.4,300 L691.5,321M692.6,321 L693.8,304 L694.8,321"/>
<path fill="#EFEFEF" stroke="none" d="M696.8,321.8 698.4,321.8 698.4,323.2 696.8,323.2Z"/>
<path fill="#FFB5B8" stroke="none" d="M696.2,296.5 699.5,293.8 699.6,290.1 701.4,290.1 701.6,297Z"/>
<path fill="#E5E5E5" stroke="none" d="M702.2,290.4 703.5,290.4 703.4,304.5 702.7,304.5Z"/>
<path stroke="#E3A5A8" stroke-width="0.9" fill="none" d="M696.9,321 L698.1,300 L699.2,321M700.3,321 L701.5,304 L702.5,321"/>
<path fill="#EFEFEF" stroke="none" d="M704.5,321.8 706.1,321.8 706.1,323.2 704.5,323.2Z"/>
<path fill="#FFB5B8" stroke="none" d="M703.9,296.5 707.2,293.8 707.3,290.1 709.1,290.1 709.3,297Z"/>
<path fill="#E5E5E5" stroke="none" d="M709.9,290.4 711.2,290.4 711.1,304.5 710.4,304.5Z"/>
<path stroke="#E3A5A8" stroke-width="0.9" fill="none" d="M704.6,321 L705.8,300 L706.9,321M708,321 L709.2,304 L710.2,321"/>
<path fill="#EFEFEF" stroke="none" d="M712.2,321.8 713.8,321.8 713.8,323.2 712.2,323.2Z"/>
<path fill="#FFB5B8" stroke="none" d="M711.6,296.5 714.9,293.8 715,291.4 716.8,291.4 717,297Z"/>
<path fill="#E5E5E5" stroke="none" d="M717.6,291.7 718.9,291.7 718.8,304.5 718.1,304.5Z"/>
<path stroke="#E3A5A8" stroke-width="0.9" fill="none" d="M712.3,321 L713.5,300 L714.6,321M715.7,321 L716.9,304 L717.9,321"/>
<path fill="#EFEFEF" stroke="none" d="M719.9,321.8 721.5,321.8 721.5,323.2 719.9,323.2Z"/>
<path fill="#FFB5B8" stroke="none" d="M719.2,296.5 722.5,293.8 722.6,290.1 724.4,290.1 724.6,297Z"/>
<path fill="#E5E5E5" stroke="none" d="M725.2,290.4 726.5,290.4 726.4,304.5 725.7,304.5Z"/>
<path stroke="#E3A5A8" stroke-width="0.9" fill="none" d="M719.9,321 L721.1,300 L722.2,321M723.3,321 L724.5,304 L725.5,321"/>
<path fill="#EFEFEF" stroke="none" d="M727.5,321.8 729.1,321.8 729.1,323.2 727.5,323.2Z"/>
<path fill="#FFB5B8" stroke="none" d="M726.9,296.5 730.2,293.8 730.3,290.1 732.1,290.1 732.3,297Z"/>
<path fill="#E5E5E5" stroke="none" d="M732.9,290.4 734.2,290.4 734.1,304.5 733.4,304.5Z"/>
<path stroke="#E3A5A8" stroke-width="0.9" fill="none" d="M727.6,321 L728.8,300 L729.9,321M731,321 L732.2,304 L733.2,321"/>
<path fill="#EFEFEF" stroke="none" d="M735.2,321.8 736.8,321.8 736.8,323.2 735.2,323.2Z"/>
<path fill="#FFB5B8" stroke="none" d="M734.6,296.5 737.9,293.8 738,291.4 739.8,291.4 740,297Z"/>
<path fill="#E5E5E5" stroke="none" d="M740.6,291.7 741.9,291.7 741.8,304.5 741.1,304.5Z"/>
<path stroke="#E3A5A8" stroke-width="0.9" fill="none" d="M735.3,321 L736.5,300 L737.6,321M738.7,321 L739.9,304 L740.9,321"/>
<path fill="#EFEFEF" stroke="none" d="M742.9,321.8 744.5,321.8 744.5,323.2 742.9,323.2Z"/>
<path fill="#FFB5B8" stroke="none" d="M742.3,296.5 745.6,293.8 745.7,290.1 747.5,290.1 747.7,297Z"/>
<path fill="#E5E5E5" stroke="none" d="M748.3,290.4 749.6,290.4 749.5,304.5 748.8,304.5Z"/>
<path stroke="#E3A5A8" stroke-width="0.9" fill="none" d="M743,321 L744.2,300 L745.3,321M746.4,321 L747.6,304 L748.6,321"/>
<path fill="#EFEFEF" stroke="none" d="M750.6,321.8 752.2,321.8 752.2,323.2 750.6,323.2Z"/>
<path fill="#FFB5B8" stroke="none" d="M750,296.5 753.3,293.8 753.4,290.1 755.2,290.1 755.4,297Z"/>
<path fill="#E5E5E5" stroke="none" d="M756,290.4 757.3,290.4 757.2,304.5 756.5,304.5Z"/>
<path stroke="#E3A5A8" stroke-width="0.9" fill="none" d="M750.7,321 L751.9,300 L753,321M754.1,321 L755.3,304 L756.3,321"/>
<path fill="#EFEFEF" stroke="none" d="M758.3,321.8 759.9,321.8 759.9,323.2 758.3,323.2Z"/>
<path fill="#FFB5B8" stroke="none" d="M757.6,296.5 760.9,293.8 761,291.4 762.8,291.4 763,297Z"/>
<path fill="#E5E5E5" stroke="none" d="M763.6,291.7 764.9,291.7 764.8,304.5 764.1,304.5Z"/>
<path stroke="#E3A5A8" stroke-width="0.9" fill="none" d="M758.3,321 L759.5,300 L760.6,321M761.7,321 L762.9,304 L763.9,321"/>
<path fill="#EFEFEF" stroke="none" d="M765.9,321.8 767.5,321.8 767.5,323.2 765.9,323.2Z"/>
<path fill="#FFB5B8" stroke="none" d="M765.3,296.5 768.6,293.8 768.7,290.1 770.5,290.1 770.7,297Z"/>
<path fill="#E5E5E5" stroke="none" d="M771.3,290.4 772.6,290.4 772.5,304.5 771.8,304.5Z"/>
<path stroke="#E3A5A8" stroke-width="0.9" fill="none" d="M766,321 L767.2,300 L768.3,321M769.4,321 L770.6,304 L771.6,321"/>
<path fill="#EFEFEF" stroke="none" d="M773.6,321.8 775.2,321.8 775.2,323.2 773.6,323.2Z"/>
<path fill="#FFB5B8" stroke="none" d="M773,296.5 776.3,293.8 776.4,290.1 778.2,290.1 778.4,297Z"/>
<path fill="#E5E5E5" stroke="none" d="M779,290.4 780.3,290.4 780.2,304.5 779.5,304.5Z"/>
<path stroke="#E3A5A8" stroke-width="0.9" fill="none" d="M773.7,321 L774.9,300 L776,321M777.1,321 L778.3,304 L779.3,321"/>
<path fill="#EFEFEF" stroke="none" d="M781.3,321.8 782.9,321.8 782.9,323.2 781.3,323.2Z"/>
<path fill="#FFB5B8" stroke="none" d="M780.7,296.5 784,293.8 784.1,291.4 785.9,291.4 786.1,297Z"/>
<path fill="#E5E5E5" stroke="none" d="M786.7,291.7 788,291.7 787.9,304.5 787.2,304.5Z"/>
<path stroke="#E3A5A8" stroke-width="0.9" fill="none" d="M781.4,321 L782.6,300 L783.7,321M784.8,321 L786,304 L787,321"/>
<path fill="#EFEFEF" stroke="none" d="M789,321.8 790.6,321.8 790.6,323.2 789,323.2Z"/>
<path fill="#FFB5B8" stroke="none" d="M788.3,296.5 791.6,293.8 791.7,290.1 793.5,290.1 793.7,297Z"/>
<path fill="#E5E5E5" stroke="none" d="M794.3,290.4 795.6,290.4 795.5,304.5 794.8,304.5Z"/>
<path stroke="#E3A5A8" stroke-width="0.9" fill="none" d="M789,321 L790.2,300 L791.3,321M792.4,321 L793.6,304 L794.6,321"/>
<path fill="#EFEFEF" stroke="none" d="M796.6,321.8 798.2,321.8 798.2,323.2 796.6,323.2Z"/>
<path fill="#FFB5B8" stroke="none" d="M796,296.5 799.3,293.8 799.4,290.1 801.2,290.1 801.4,297Z"/>
<path fill="#E5E5E5" stroke="none" d="M802,290.4 803.3,290.4 803.2,304.5 802.5,304.5Z"/>
<path stroke="#E3A5A8" stroke-width="0.9" fill="none" d="M796.7,321 L797.9,300 L799,321M800.1,321 L801.3,304 L802.3,321"/>
<path fill="#EFEFEF" stroke="none" d="M804.3,321.8 805.9,321.8 805.9,323.2 804.3,323.2Z"/>
<path fill="#FFB5B8" stroke="none" d="M803.7,296.5 807,293.8 807.1,291.4 808.9,291.4 809.1,297Z"/>
<path fill="#E5E5E5" stroke="none" d="M809.7,291.7 811,291.7 810.9,304.5 810.2,304.5Z"/>
<path stroke="#E3A5A8" stroke-width="0.9" fill="none" d="M804.4,321 L805.6,300 L806.7,321M807.8,321 L809,304 L810,321"/>
<path fill="#EFEFEF" stroke="none" d="M812,321.8 813.6,321.8 813.6,323.2 812,323.2Z"/>
<path fill="#FFB5B8" stroke="none" d="M811.4,296.5 814.7,293.8 814.8,290.1 816.6,290.1 816.8,297Z"/>
<path fill="#E5E5E5" stroke="none" d="M817.4,290.4 818.7,290.4 818.6,304.5 817.9,304.5Z"/>
<path stroke="#E3A5A8" stroke-width="0.9" fill="none" d="M812.1,321 L813.3,300 L814.4,321M815.5,321 L816.7,304 L817.7,321"/>
<path fill="#EFEFEF" stroke="none" d="M819.7,321.8 821.3,321.8 821.3,323.2 819.7,323.2Z"/>
<path fill="#FFB5B8" stroke="none" d="M819,296.5 822.3,293.8 822.4,290.1 824.2,290.1 824.4,297Z"/>
<path fill="#E5E5E5" stroke="none" d="M825,290.4 826.3,290.4 826.2,304.5 825.5,304.5Z"/>
<path stroke="#E3A5A8" stroke-width="0.9" fill="none" d="M819.7,321 L820.9,300 L822,321M823.1,321 L824.3,304 L825.3,321"/>
<path fill="#EFEFEF" stroke="none" d="M827.3,321.8 828.9,321.8 828.9,323.2 827.3,323.2Z"/>
<path fill="#FFB5B8" stroke="none" d="M826.7,296.5 830,293.8 830.1,291.4 831.9,291.4 832.1,297Z"/>
<path fill="#E5E5E5" stroke="none" d="M832.7,291.7 834,291.7 833.9,304.5 833.2,304.5Z"/>
<path stroke="#E3A5A8" stroke-width="0.9" fill="none" d="M827.4,321 L828.6,300 L829.7,321M830.8,321 L832,304 L833,321"/>
<path fill="#EFEFEF" stroke="none" d="M835,321.8 836.6,321.8 836.6,323.2 835,323.2Z"/>
<path fill="#FFB5B8" stroke="none" d="M834.4,296.5 837.7,293.8 837.8,290.1 839.6,290.1 839.8,297Z"/>
<path fill="#E5E5E5" stroke="none" d="M840.4,290.4 841.7,290.4 841.6,304.5 840.9,304.5Z"/>
<path stroke="#E3A5A8" stroke-width="0.9" fill="none" d="M835.1,321 L836.3,300 L837.4,321M838.5,321 L839.7,304 L840.7,321"/>
<path fill="#EFEFEF" stroke="none" d="M842.7,321.8 844.3,321.8 844.3,323.2 842.7,323.2Z"/>
<path fill="#FFB5B8" stroke="none" d="M842.1,296.5 845.4,293.8 845.5,290.1 847.3,290.1 847.5,297Z"/>
<path fill="#E5E5E5" stroke="none" d="M848.1,290.4 849.4,290.4 849.3,304.5 848.6,304.5Z"/>
<path stroke="#E3A5A8" stroke-width="0.9" fill="none" d="M842.8,321 L844,300 L845.1,321M846.2,321 L847.4,304 L848.4,321"/>
<path fill="#EFEFEF" stroke="none" d="M850.4,321.8 852,321.8 852,323.2 850.4,323.2Z"/>
<path fill="#FFB5B8" stroke="none" d="M849.8,296.5 853.1,293.8 853.2,291.4 855,291.4 855.2,297Z"/>
<path fill="#E5E5E5" stroke="none" d="M855.8,291.7 857.1,291.7 857,304.5 856.3,304.5Z"/>
<path stroke="#E3A5A8" stroke-width="0.9" fill="none" d="M850.5,321 L851.7,300 L852.8,321M853.9,321 L855.1,304 L856.1,321"/>
<path fill="#EFEFEF" stroke="none" d="M858.1,321.8 859.7,321.8 859.7,323.2 858.1,323.2Z"/>
<path fill="#FFB5B8" stroke="none" d="M857.4,296.5 860.7,293.8 860.8,290.1 862.6,290.1 862.8,297Z"/>
<path fill="#E5E5E5" stroke="none" d="M863.4,290.4 864.7,290.4 864.6,304.5 863.9,304.5Z"/>
<path stroke="#E3A5A8" stroke-width="0.9" fill="none" d="M858.1,321 L859.3,300 L860.4,321M861.5,321 L862.7,304 L863.7,321"/>
<path fill="#EFEFEF" stroke="none" d="M865.7,321.8 867.3,321.8 867.3,323.2 865.7,323.2Z"/>
<path fill="#FFB5B8" stroke="none" d="M865.1,296.5 868.4,293.8 868.5,290.1 870.3,290.1 870.5,297Z"/>
<path fill="#E5E5E5" stroke="none" d="M871.1,290.4 872.4,290.4 872.3,304.5 871.6,304.5Z"/>
<path stroke="#E3A5A8" stroke-width="0.9" fill="none" d="M865.8,321 L867,300 L868.1,321M869.2,321 L870.4,304 L871.4,321"/>
<path fill="#EFEFEF" stroke="none" d="M873.4,321.8 875,321.8 875,323.2 873.4,323.2Z"/>
<path fill="#FFB5B8" stroke="none" d="M872.8,296.5 876.1,293.8 876.2,291.4 878,291.4 878.2,297Z"/>
<path fill="#E5E5E5" stroke="none" d="M878.8,291.7 880.1,291.7 880,304.5 879.3,304.5Z"/>
<path stroke="#E3A5A8" stroke-width="0.9" fill="none" d="M873.5,321 L874.7,300 L875.8,321M876.9,321 L878.1,304 L879.1,321"/>
<path fill="#EFEFEF" stroke="none" d="M881.1,321.8 882.7,321.8 882.7,323.2 881.1,323.2Z"/>
<path fill="#FFB5B8" stroke="none" d="M880.5,296.5 883.8,293.8 883.9,290.1 885.7,290.1 885.9,297Z"/>
<path fill="#E5E5E5" stroke="none" d="M886.5,290.4 887.8,290.4 887.7,304.5 887,304.5Z"/>
<path stroke="#E3A5A8" stroke-width="0.9" fill="none" d="M881.2,321 L882.4,300 L883.5,321M884.6,321 L885.8,304 L886.8,321"/>
<path fill="#EFEFEF" stroke="none" d="M888.8,321.8 890.4,321.8 890.4,323.2 888.8,323.2Z"/>
<path fill="#FFB5B8" stroke="none" d="M888.1,296.5 891.4,293.8 891.5,290.1 893.3,290.1 893.5,297Z"/>
<path fill="#E5E5E5" stroke="none" d="M894.1,290.4 895.4,290.4 895.3,304.5 894.6,304.5Z"/>
<path stroke="#E3A5A8" stroke-width="0.9" fill="none" d="M888.8,321 L890,300 L891.1,321M892.2,321 L893.4,304 L894.4,321"/>
<path fill="#EFEFEF" stroke="none" d="M896.4,321.8 898,321.8 898,323.2 896.4,323.2Z"/>
<path fill="#FFB5B8" stroke="none" d="M895.8,296.5 899.1,293.8 899.2,291.4 901,291.4 901.2,297Z"/>
<path fill="#E5E5E5" stroke="none" d="M901.8,291.7 903.1,291.7 903,304.5 902.3,304.5Z"/>
<path stroke="#E3A5A8" stroke-width="0.9" fill="none" d="M896.5,321 L897.7,300 L898.8,321M899.9,321 L901.1,304 L902.1,321"/>
<path fill="#EFEFEF" stroke="none" d="M904.1,321.8 905.7,321.8 905.7,323.2 904.1,323.2Z"/>
<path fill="#FFB5B8" stroke="none" d="M903.5,296.5 906.8,293.8 906.9,290.1 908.7,290.1 908.9,297Z"/>
<path fill="#E5E5E5" stroke="none" d="M909.5,290.4 910.8,290.4 910.7,304.5 910,304.5Z"/>
<path stroke="#E3A5A8" stroke-width="0.9" fill="none" d="M904.2,321 L905.4,300 L906.5,321M907.6,321 L908.8,304 L909.8,321"/>
<path fill="#EFEFEF" stroke="none" d="M911.8,321.8 913.4,321.8 913.4,323.2 911.8,323.2Z"/>
<path fill="#FFB5B8" stroke="none" d="M911.2,296.5 914.5,293.8 914.6,290.1 916.4,290.1 916.6,297Z"/>
<path fill="#E5E5E5" stroke="none" d="M917.2,290.4 918.5,290.4 918.4,304.5 917.7,304.5Z"/>
<path stroke="#E3A5A8" stroke-width="0.9" fill="none" d="M911.9,321 L913.1,300 L914.2,321M915.3,321 L916.5,304 L917.5,321"/>
<path fill="#EFEFEF" stroke="none" d="M919.5,321.8 921.1,321.8 921.1,323.2 919.5,323.2Z"/>
</g>
<path fill="#348ABD" stroke="none" d="M180.3,286 182.6,286 182.3,313 180.6,313Z"/>
<path fill="#348ABD" stroke="none" d="M195.6,286 198.4,286 198.1,321.5 195.9,321.5Z"/>
<path fill="#348ABD" stroke="none" d="M210.6,286 213,286 212.7,317 210.9,317Z"/>
<path fill="#348ABD" stroke="none" d="M217.4,286 219,286 218.7,321.5 217.7,321.5Z"/>
<path fill="#348ABD" stroke="none" d="M224,286 226,286 225.7,321.5 224.3,321.5Z"/>
<path fill="#8EBA42" stroke="none" d="M221.5,129 225,129 225,152 221.5,152Z"/>
<path fill="#FBC15E" stroke="none" d="M223.5,129 225,129 225,140 223.5,140Z"/>
</g>
<path d="M132,80.5H138M906,80.5H911M132,128.5H138M906,128.5H911M132,177.5H138M906,177.5H911M132,225.5H138M906,225.5H911M132,274.5H138M906,274.5H911M132,322.5H138M906,322.5H911M132,371.5H138M906,371.5H911M138.5,74V80.5M138.5,371V377M138.5,423V429.5M138.5,720V726M291.5,74V80.5M291.5,371V377M291.5,423V429.5M291.5,720V726M444.5,74V80.5M444.5,371V377M444.5,423V429.5M444.5,720V726M598.5,74V80.5M598.5,371V377M598.5,423V429.5M598.5,720V726M751.5,74V80.5M751.5,371V377M751.5,423V429.5M751.5,720V726" stroke="#555" stroke-width="1" fill="none"/>
<text x="104.81 113.48 118.08" y="83.9" font-size="14.2" fill="#555">1.5</text>
<text x="104.81 113.48 118.13" y="131.9" font-size="14.2" fill="#555">1.0</text>
<text x="104.88 113.48 118.08" y="180.9" font-size="14.2" fill="#555">0.5</text>
<text x="104.88 113.48 118.13" y="228.9" font-size="14.2" fill="#555">0.0</text>
<text x="94.44 104.88 113.48 118.08" y="277.9" font-size="14.2" fill="#555">−0.5</text>
<text x="94.44 104.81 113.48 118.13" y="325.9" font-size="14.2" fill="#555">−1.0</text>
<text x="94.44 104.81 113.48 118.08" y="374.9" font-size="14.2" fill="#555">−1.5</text>
<rect x="139" y="430" width="766" height="290" fill="#E5E5E5"/>
<line x1="291.5" y1="430" x2="291.5" y2="720" stroke="#fff" stroke-width="1"/>
<line x1="444.5" y1="430" x2="444.5" y2="720" stroke="#fff" stroke-width="1"/>
<line x1="598.5" y1="430" x2="598.5" y2="720" stroke="#fff" stroke-width="1"/>
<line x1="751.5" y1="430" x2="751.5" y2="720" stroke="#fff" stroke-width="1"/>
<g clip-path="url(#cb)" fill="none" stroke-width="1.39" stroke-linejoin="round">
<path stroke="#E24A33" d="M138.9,475.6 139.8,475.6 139.8,487.1 142.8,487.1 142.8,475.6 146.6,475.6 146.6,487.1 150.5,487.1 150.5,475.6 154.3,475.6 154.3,487.1 158.2,487.1 158.2,475.6 162,475.6 162,487.1 165.8,487.1 165.8,475.6 169.7,475.6 169.7,487.1 173.5,487.1 173.5,475.6 177.3,475.6 177.3,487.1 181.2,487.1 181.2,475.6 185,475.6 185,487.1 188.9,487.1 188.9,475.6 192.7,475.6 192.7,487.1 196.5,487.1 196.5,475.6 200.4,475.6 200.4,487.1 204.2,487.1 204.2,475.6 208.1,475.6 208.1,487.1 211.9,487.1 211.9,475.6 215.7,475.6 215.7,487.1 219.6,487.1 219.6,475.6 223.4,475.6 223.4,487.1 227.2,487.1 227.2,475.6 231.1,475.6 231.1,487.1 234.9,487.1 234.9,475.6 238.8,475.6 238.8,487.1 242.6,487.1 242.6,475.6 246.4,475.6 246.4,487.1 250.3,487.1 250.3,475.6 254.1,475.6 254.1,487.1 258,487.1 258,475.6 261.8,475.6 261.8,487.1 265.6,487.1 265.6,475.6 269.5,475.6 269.5,487.1 273.3,487.1 273.3,475.6 277.1,475.6 277.1,487.1 281,487.1 281,475.6 284.8,475.6 284.8,487.1 288.7,487.1 288.7,475.6 292.5,475.6 292.5,487.1 296.3,487.1 296.3,475.6 300.2,475.6 300.2,487.1 304,487.1 304,475.6 307.9,475.6 307.9,487.1 311.7,487.1 311.7,475.6 315.5,475.6 315.5,487.1 319.4,487.1 319.4,475.6 323.2,475.6 323.2,487.1 327,487.1 327,475.6 330.9,475.6 330.9,487.1 334.7,487.1 334.7,475.6 338.6,475.6 338.6,487.1 342.4,487.1 342.4,475.6 346.2,475.6 346.2,487.1 350.1,487.1 350.1,475.6 353.9,475.6 353.9,487.1 357.8,487.1 357.8,475.6 361.6,475.6 361.6,487.1 365.4,487.1 365.4,475.6 369.3,475.6 369.3,487.1 373.1,487.1 373.1,475.6 376.9,475.6 376.9,487.1 380.8,487.1 380.8,475.6 384.6,475.6 384.6,487.1 388.5,487.1 388.5,475.6 392.3,475.6 392.3,487.1 396.1,487.1 396.1,475.6 400,475.6 400,487.1 403.8,487.1 403.8,475.6 407.7,475.6 407.7,487.1 411.5,487.1 411.5,475.6 415.3,475.6 415.3,487.1 419.2,487.1 419.2,475.6 423,475.6 423,487.1 426.8,487.1 426.8,475.6 430.7,475.6 430.7,487.1 434.5,487.1 434.5,475.6 438.4,475.6 438.4,487.1 442.2,487.1 442.2,475.6 446,475.6 446,487.1 449.9,487.1 449.9,475.6 453.7,475.6 453.7,487.1 457.6,487.1 457.6,475.6 461.4,475.6 461.4,487.1 465.2,487.1 465.2,475.6 469.1,475.6 469.1,487.1 472.9,487.1 472.9,475.6 476.7,475.6 476.7,487.1 480.6,487.1 480.6,475.6 484.4,475.6 484.4,487.1 488.3,487.1 488.3,475.6 492.1,475.6 492.1,487.1 495.9,487.1 495.9,475.6 499.8,475.6 499.8,487.1 503.6,487.1 503.6,475.6 507.5,475.6 507.5,487.1 511.3,487.1 511.3,475.6 515.1,475.6 515.1,487.1 519,487.1 519,475.6 522.8,475.6 522.8,487.1 526.6,487.1 526.6,475.6 530.5,475.6 530.5,487.1 534.3,487.1 534.3,475.6 538.2,475.6 538.2,487.1 542,487.1 542,475.6 545.8,475.6 545.8,487.1 549.7,487.1 549.7,475.6 553.5,475.6 553.5,487.1 557.4,487.1 557.4,475.6 561.2,475.6 561.2,487.1 565,487.1 565,475.6 568.9,475.6 568.9,487.1 572.7,487.1 572.7,475.6 576.6,475.6 576.6,487.1 580.4,487.1 580.4,475.6 584.2,475.6 584.2,487.1 588.1,487.1 588.1,475.6 591.9,475.6 591.9,487.1 595.7,487.1 595.7,475.6 599.6,475.6 599.6,487.1 603.4,487.1 603.4,475.6 607.3,475.6 607.3,487.1 611.1,487.1 611.1,475.6 614.9,475.6 614.9,487.1 618.8,487.1 618.8,475.6 622.6,475.6 622.6,487.1 626.5,487.1 626.5,475.6 630.3,475.6 630.3,487.1 634.1,487.1 634.1,475.6 638,475.6 638,487.1 641.8,487.1 641.8,475.6 645.6,475.6 645.6,487.1 649.5,487.1 649.5,475.6 653.3,475.6 653.3,487.1 657.2,487.1 657.2,475.6 661,475.6 661,487.1 664.8,487.1 664.8,475.6 668.7,475.6 668.7,487.1 672.5,487.1 672.5,475.6 676.4,475.6 676.4,487.1 680.2,487.1 680.2,475.6 684,475.6 684,487.1 687.9,487.1 687.9,475.6 691.7,475.6 691.7,487.1 695.5,487.1 695.5,475.6 699.4,475.6 699.4,487.1 703.2,487.1 703.2,475.6 707.1,475.6 707.1,487.1 710.9,487.1 710.9,475.6 714.7,475.6 714.7,487.1 718.6,487.1 718.6,475.6 722.4,475.6 722.4,487.1 726.3,487.1 726.3,475.6 730.1,475.6 730.1,487.1 733.9,487.1 733.9,475.6 737.8,475.6 737.8,487.1 741.6,487.1 741.6,475.6 745.4,475.6 745.4,487.1 749.3,487.1 749.3,475.6 753.1,475.6 753.1,487.1 757,487.1 757,475.6 760.8,475.6 760.8,487.1 764.6,487.1 764.6,475.6 768.5,475.6 768.5,487.1 772.3,487.1 772.3,475.6 776.2,475.6 776.2,487.1 780,487.1 780,475.6 783.8,475.6 783.8,487.1 787.7,487.1 787.7,475.6 791.5,475.6 791.5,487.1 795.3,487.1 795.3,475.6 799.2,475.6 799.2,487.1 803,487.1 803,475.6 806.9,475.6 806.9,487.1 810.7,487.1 810.7,475.6 814.5,475.6 814.5,487.1 818.4,487.1 818.4,475.6 822.2,475.6 822.2,487.1 826.1,487.1 826.1,475.6 829.9,475.6 829.9,487.1 833.7,487.1 833.7,475.6 837.6,475.6 837.6,487.1 841.4,487.1 841.4,475.6 845.2,475.6 845.2,487.1 849.1,487.1 849.1,475.6 852.9,475.6 852.9,487.1 856.8,487.1 856.8,475.6 860.6,475.6 860.6,487.1 864.4,487.1 864.4,475.6 868.3,475.6 868.3,487.1 872.1,487.1 872.1,475.6 876,475.6 876,487.1 879.8,487.1 879.8,475.6 883.6,475.6 883.6,487.1 887.5,487.1 887.5,475.6 891.3,475.6 891.3,487.1 895.1,487.1 895.1,475.6 899,475.6 899,487.1 902.8,487.1 902.8,475.6 906.7,475.6 906.7,487.1 906.9,487.1"/>
<path stroke="#348ABD" d="M138.9,488.4 141.1,488.4 141.1,499.9 145.2,499.9 145.2,488.4 148.8,488.4 148.8,499.9 152.9,499.9 152.9,488.4 156.4,488.4 156.4,499.9 160.6,499.9 160.6,488.4 164.1,488.4 164.1,499.9 168.2,499.9 168.2,488.4 171.8,488.4 171.8,499.9 175.9,499.9 175.9,488.4 179.5,488.4 179.5,499.9 183.6,499.9 183.6,488.4 187.1,488.4 187.1,499.9 191.3,499.9 191.3,488.4 194.8,488.4 194.8,499.9 198.9,499.9 198.9,488.4 202.5,488.4 202.5,499.9 206.6,499.9 206.6,488.4 210.2,488.4 210.2,499.9 214.3,499.9 214.3,488.4 217.8,488.4 217.8,499.9 222,499.9 222,488.4 225.5,488.4 225.5,499.9 229.6,499.9 229.6,488.4 233.2,488.4 233.2,499.9 237.3,499.9 237.3,488.4 240.9,488.4 240.9,499.9 245,499.9 245,488.4 248.6,488.4 248.6,499.9 252.7,499.9 252.7,488.4 256.2,488.4 256.2,499.9 260.4,499.9 260.4,488.4 263.9,488.4 263.9,499.9 268,499.9 268,488.4 271.6,488.4 271.6,499.9 275.7,499.9 275.7,488.4 279.3,488.4 279.3,499.9 283.4,499.9 283.4,488.4 286.9,488.4 286.9,499.9 291.1,499.9 291.1,488.4 294.6,488.4 294.6,499.9 298.7,499.9 298.7,488.4 302.3,488.4 302.3,499.9 306.4,499.9 306.4,488.4 310,488.4 310,499.9 314.1,499.9 314.1,488.4 317.6,488.4 317.6,499.9 321.8,499.9 321.8,488.4 325.3,488.4 325.3,499.9 329.4,499.9 329.4,488.4 333,488.4 333,499.9 337.1,499.9 337.1,488.4 340.7,488.4 340.7,499.9 344.8,499.9 344.8,488.4 348.4,488.4 348.4,499.9 352.5,499.9 352.5,488.4 356,488.4 356,499.9 360.2,499.9 360.2,488.4 363.7,488.4 363.7,499.9 367.8,499.9 367.8,488.4 371.4,488.4 371.4,499.9 375.5,499.9 375.5,488.4 379.1,488.4 379.1,499.9 383.2,499.9 383.2,488.4 386.7,488.4 386.7,499.9 390.9,499.9 390.9,488.4 394.4,488.4 394.4,499.9 398.5,499.9 398.5,488.4 402.1,488.4 402.1,499.9 406.2,499.9 406.2,488.4 409.8,488.4 409.8,499.9 413.9,499.9 413.9,488.4 417.4,488.4 417.4,499.9 421.6,499.9 421.6,488.4 425.1,488.4 425.1,499.9 429.2,499.9 429.2,488.4 432.8,488.4 432.8,499.9 436.9,499.9 436.9,488.4 440.5,488.4 440.5,499.9 444.6,499.9 444.6,488.4 448.2,488.4 448.2,499.9 452.3,499.9 452.3,488.4 455.8,488.4 455.8,499.9 460,499.9 460,488.4 463.5,488.4 463.5,499.9 467.6,499.9 467.6,488.4 471.2,488.4 471.2,499.9 475.3,499.9 475.3,488.4 478.9,488.4 478.9,499.9 483,499.9 483,488.4 486.5,488.4 486.5,499.9 490.7,499.9 490.7,488.4 494.2,488.4 494.2,499.9 498.3,499.9 498.3,488.4 501.9,488.4 501.9,499.9 506,499.9 506,488.4 509.6,488.4 509.6,499.9 513.7,499.9 513.7,488.4 517.2,488.4 517.2,499.9 521.4,499.9 521.4,488.4 524.9,488.4 524.9,499.9 529,499.9 529,488.4 532.6,488.4 532.6,499.9 536.7,499.9 536.7,488.4 540.3,488.4 540.3,499.9 544.4,499.9 544.4,488.4 548,488.4 548,499.9 552.1,499.9 552.1,488.4 555.6,488.4 555.6,499.9 559.8,499.9 559.8,488.4 563.3,488.4 563.3,499.9 567.4,499.9 567.4,488.4 571,488.4 571,499.9 575.1,499.9 575.1,488.4 578.7,488.4 578.7,499.9 582.8,499.9 582.8,488.4 586.3,488.4 586.3,499.9 590.5,499.9 590.5,488.4 594,488.4 594,499.9 598.1,499.9 598.1,488.4 601.7,488.4 601.7,499.9 605.8,499.9 605.8,488.4 609.4,488.4 609.4,499.9 613.5,499.9 613.5,488.4 617,488.4 617,499.9 621.2,499.9 621.2,488.4 624.7,488.4 624.7,499.9 628.9,499.9 628.9,488.4 632.4,488.4 632.4,499.9 636.5,499.9 636.5,488.4 640.1,488.4 640.1,499.9 644.2,499.9 644.2,488.4 647.8,488.4 647.8,499.9 651.9,499.9 651.9,488.4 655.4,488.4 655.4,499.9 659.6,499.9 659.6,488.4 663.1,488.4 663.1,499.9 667.2,499.9 667.2,488.4 670.8,488.4 670.8,499.9 674.9,499.9 674.9,488.4 678.5,488.4 678.5,499.9 682.6,499.9 682.6,488.4 686.1,488.4 686.1,499.9 690.3,499.9 690.3,488.4 693.8,488.4 693.8,499.9 697.9,499.9 697.9,488.4 701.5,488.4 701.5,499.9 705.6,499.9 705.6,488.4 709.2,488.4 709.2,499.9 713.3,499.9 713.3,488.4 716.8,488.4 716.8,499.9 721,499.9 721,488.4 724.5,488.4 724.5,499.9 728.7,499.9 728.7,488.4 732.2,488.4 732.2,499.9 736.3,499.9 736.3,488.4 739.9,488.4 739.9,499.9 744,499.9 744,488.4 747.6,488.4 747.6,499.9 751.7,499.9 751.7,488.4 755.2,488.4 755.2,499.9 759.4,499.9 759.4,488.4 762.9,488.4 762.9,499.9 767,499.9 767,488.4 770.6,488.4 770.6,499.9 774.7,499.9 774.7,488.4 778.3,488.4 778.3,499.9 782.4,499.9 782.4,488.4 785.9,488.4 785.9,499.9 790.1,499.9 790.1,488.4 793.6,488.4 793.6,499.9 797.7,499.9 797.7,488.4 801.3,488.4 801.3,499.9 805.4,499.9 805.4,488.4 809,488.4 809,499.9 813.1,499.9 813.1,488.4 816.6,488.4 816.6,499.9 820.8,499.9 820.8,488.4 824.3,488.4 824.3,499.9 828.5,499.9 828.5,488.4 832,488.4 832,499.9 836.1,499.9 836.1,488.4 839.7,488.4 839.7,499.9 843.8,499.9 843.8,488.4 847.4,488.4 847.4,499.9 851.5,499.9 851.5,488.4 855,488.4 855,499.9 859.2,499.9 859.2,488.4 862.7,488.4 862.7,499.9 866.8,499.9 866.8,488.4 870.4,488.4 870.4,499.9 874.5,499.9 874.5,488.4 878.1,488.4 878.1,499.9 882.2,499.9 882.2,488.4 885.7,488.4 885.7,499.9 889.9,499.9 889.9,488.4 893.4,488.4 893.4,499.9 897.5,499.9 897.5,488.4 901.1,488.4 901.1,499.9 905.2,499.9 905.2,488.4 906.9,488.4"/>
<path stroke="#988ED5" d="M138.9,512.7H907"/>
<path stroke="#777777" d="M138.9,513.9 142,513.9 142,525.4 154,525.4 154,513.9 180.5,513.9 180.5,525.4 221.5,525.4 221.5,513.9 906.9,513.9"/>
<path stroke="#FBC15E" d="M138.9,526.7 140.5,526.7 140.5,538.2 153.5,538.2 153.5,526.7 180.5,526.7 180.5,538.2 221.5,538.2 221.5,526.7 906.9,526.7"/>
<path stroke="#8EBA42" d="M138.9,539.5 141,539.5 141,551 154,551 154,539.5 180.5,539.5 180.5,551 221.5,551 221.5,539.5 225,539.5 225,551 906.9,551"/>
<path stroke="#FFB5B8" d="M138.9,552.3 196,552.3 196,563.8 198,563.8 198,552.3 211.5,552.3 211.5,563.8 906.9,563.8"/>
<path stroke="#E24A33" d="M138.9,565.1 180.5,565.1 180.5,576.6 182,576.6 182,565.1 196,565.1 196,576.6 198,576.6 198,565.1 211.5,565.1 211.5,576.6 230.5,576.6 230.5,565.1 906.9,565.1"/>
<path stroke="#348ABD" d="M138.9,577.8 180.5,577.8 180.5,589.3 182,589.3 182,577.8 196,577.8 196,589.3 198,589.3 198,577.8 211.5,577.8 211.5,589.3 230.5,589.3 230.5,577.8 906.9,577.8"/>
<path stroke="#988ED5" d="M138.9,590.6 159.5,590.6 159.5,602.1 217,602.1 217,590.6 219,590.6 219,602.1 230.5,602.1 230.5,590.6 906.9,590.6"/>
<path stroke="#777777" d="M138.9,603.4 159.5,603.4 159.5,614.9 161.5,614.9 161.5,603.4 175,603.4 175,614.9 217,614.9 217,603.4 219,603.4 219,614.9 906.9,614.9"/>
<path stroke="#FBC15E" d="M138.9,616.2 159.5,616.2 159.5,627.7 217,627.7 217,616.2 219,616.2 219,627.7 230.5,627.7 230.5,616.2 906.9,616.2"/>
<path stroke="#8EBA42" d="M138.9,629 159.5,629 159.5,640.5 161.5,640.5 161.5,629 175,629 175,640.5 217,640.5 217,629 219,629 219,640.5 225,640.5 225,629 906.9,629"/>
<path stroke="#FFB5B8" d="M138.9,641.7 159.5,641.7 159.5,653.2 217,653.2 217,641.7 219,641.7 219,653.2 906.9,653.2"/>
<path stroke="#E24A33" d="M138.9,654.5 159.5,654.5 159.5,666 161.5,666 161.5,654.5 175,654.5 175,666 217,666 217,654.5 219,654.5 219,666 225,666 225,654.5 906.9,654.5"/>
</g>
<text x="101.51 110.11 114.76 123.60 132.44 141.27 150.11 158.95 167.78" y="742" font-size="14.2" fill="#555">0.0000000</text>
<text x="254.51 263.11 267.76 276.60 285.44 294.27 303.11 311.95 320.60" y="742" font-size="14.2" fill="#555">0.0000002</text>
<text x="407.51 416.11 420.76 429.60 438.44 447.27 456.11 464.95 473.78" y="742" font-size="14.2" fill="#555">0.0000004</text>
<text x="561.51 570.11 574.76 583.60 592.44 601.27 610.11 618.95 627.79" y="742" font-size="14.2" fill="#555">0.0000006</text>
<text x="714.51 723.11 727.76 736.60 745.44 754.27 763.11 771.95 780.78" y="742" font-size="14.2" fill="#555">0.0000008</text>
<text x="867.51 876.11 880.76 889.60 898.44 907.27 916.11 924.88 933.78" y="742" font-size="14.2" fill="#555">0.0000010</text>
<text x="518.17" y="766" font-size="20" fill="#555" stroke="#555" stroke-width="0.2">t</text>
<rect x="914" y="89" width="165" height="400" fill="#E5E5E5"/>
<line x1="925" y1="103.4" x2="949" y2="103.4" stroke="#E24A33" stroke-width="1.39"/>
<text x="965.88 976.83 986.12 996.62 1006.81 1013.01" y="109.9" font-size="18.0" fill="#000" stroke="#000" stroke-width="0.25">B_extx</text>
<line x1="925" y1="129.8" x2="949" y2="129.8" stroke="#348ABD" stroke-width="1.39"/>
<text x="965.88 976.83 986.12 996.62 1006.81 1013.05" y="136.3" font-size="18.0" fill="#000" stroke="#000" stroke-width="0.25">B_exty</text>
<line x1="925" y1="156.2" x2="949" y2="156.2" stroke="#988ED5" stroke-width="1.39"/>
<text x="965.88 976.83 986.12 996.62 1006.81 1012.58" y="162.7" font-size="18.0" fill="#000" stroke="#000" stroke-width="0.25">B_extz</text>
<line x1="925" y1="182.6" x2="949" y2="182.6" stroke="#777777" stroke-width="1.39"/>
<text x="966.87 982.58 988.47 994.74 1005.03 1015.74 1020.15 1030.56 1041.01 1051.81" y="189.1" font-size="18.0" fill="#000" stroke="#000" stroke-width="0.25">m.region1x</text>
<line x1="925" y1="209.0" x2="949" y2="209.0" stroke="#FBC15E" stroke-width="1.39"/>
<text x="966.87 982.58 988.47 994.74 1005.03 1015.74 1020.15 1030.56 1040.88 1051.81" y="215.5" font-size="18.0" fill="#000" stroke="#000" stroke-width="0.25">m.region2x</text>
<line x1="925" y1="235.3" x2="949" y2="235.3" stroke="#8EBA42" stroke-width="1.39"/>
<text x="966.87 982.58 988.47 994.74 1005.03 1015.74 1020.15 1030.56 1041.13 1051.81" y="241.8" font-size="18.0" fill="#000" stroke="#000" stroke-width="0.25">m.region3x</text>
<line x1="925" y1="261.7" x2="949" y2="261.7" stroke="#FFB5B8" stroke-width="1.39"/>
<text x="966.87 982.58 988.47 994.74 1005.03 1015.74 1020.15 1030.56 1041.10 1051.81" y="268.2" font-size="18.0" fill="#000" stroke="#000" stroke-width="0.25">m.region4x</text>
<line x1="925" y1="288.1" x2="949" y2="288.1" stroke="#E24A33" stroke-width="1.39"/>
<text x="966.87 982.58 988.47 994.74 1005.03 1015.74 1020.15 1030.56 1041.04 1051.81" y="294.6" font-size="18.0" fill="#000" stroke="#000" stroke-width="0.25">m.region5x</text>
<line x1="925" y1="314.5" x2="949" y2="314.5" stroke="#348ABD" stroke-width="1.39"/>
<text x="966.87 982.58 988.47 994.74 1005.03 1015.74 1020.15 1030.56 1041.10 1051.81" y="321.0" font-size="18.0" fill="#000" stroke="#000" stroke-width="0.25">m.region6x</text>
<line x1="925" y1="340.9" x2="949" y2="340.9" stroke="#988ED5" stroke-width="1.39"/>
<text x="966.87 982.58 988.47 994.74 1005.03 1015.74 1020.15 1030.56 1041.07 1051.84" y="347.4" font-size="18.0" fill="#000" stroke="#000" stroke-width="0.25">m.region7y</text>
<line x1="925" y1="367.3" x2="949" y2="367.3" stroke="#777777" stroke-width="1.39"/>
<text x="966.87 982.58 988.47 994.74 1005.03 1015.74 1020.15 1030.56 1041.10 1051.84" y="373.8" font-size="18.0" fill="#000" stroke="#000" stroke-width="0.25">m.region8y</text>
<line x1="925" y1="393.7" x2="949" y2="393.7" stroke="#FBC15E" stroke-width="1.39"/>
<text x="966.87 982.58 988.47 994.74 1005.03 1015.74 1020.15 1030.56 1041.05 1051.84" y="400.2" font-size="18.0" fill="#000" stroke="#000" stroke-width="0.25">m.region9y</text>
<line x1="925" y1="420.1" x2="949" y2="420.1" stroke="#8EBA42" stroke-width="1.39"/>
<text x="966.87 982.58 988.47 994.74 1005.03 1015.74 1020.15 1030.56 1041.01 1051.71 1062.45" y="426.6" font-size="18.0" fill="#000" stroke="#000" stroke-width="0.25">m.region10y</text>
<line x1="925" y1="446.5" x2="949" y2="446.5" stroke="#FFB5B8" stroke-width="1.39"/>
<text x="966.87 982.58 988.47 994.74 1005.03 1015.74 1020.15 1030.56 1041.01 1051.61 1062.45" y="453.0" font-size="18.0" fill="#000" stroke="#000" stroke-width="0.25">m.region11y</text>
<line x1="925" y1="472.9" x2="949" y2="472.9" stroke="#E24A33" stroke-width="1.39"/>
<text x="966.87 982.58 988.47 994.74 1005.03 1015.74 1020.15 1030.56 1041.01 1051.49 1062.45" y="479.4" font-size="18.0" fill="#000" stroke="#000" stroke-width="0.25">m.region12y</text>
</svg></body></html>
